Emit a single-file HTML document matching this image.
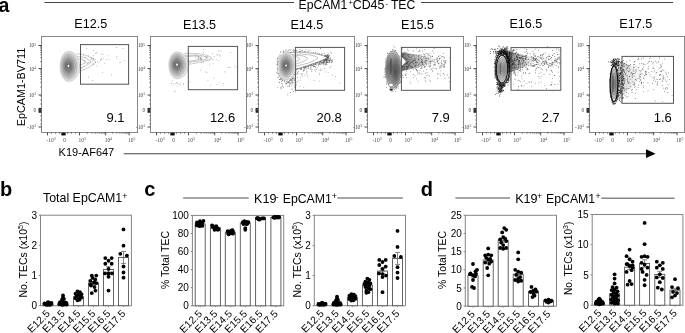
<!DOCTYPE html>
<html><head><meta charset="utf-8"><style>
html,body{margin:0;padding:0;background:#fff;overflow:hidden;}
svg{display:block;font-family:'Liberation Sans', sans-serif;}
svg{will-change:transform;}
</style></head><body>
<svg width="685" height="333" viewBox="0 0 685 333">
<rect x="0" y="0" width="685" height="333" fill="#fff"/>
<text x="-1.40" y="11.70" font-size="19.5" text-anchor="start" font-weight="bold" fill="#000" font-family="'Liberation Sans', sans-serif" >a</text>
<line x1="44.50" y1="2.55" x2="294.00" y2="2.55" stroke="#444" stroke-width="1.1" />
<line x1="421.00" y1="2.55" x2="673.00" y2="2.55" stroke="#444" stroke-width="1.1" />
<text font-size="12.2" font-family="'Liberation Sans', sans-serif" fill="#000"><tspan x="298.50" y="8.80" font-size="12.2">EpCAM1</tspan><tspan x="348.60" y="5.30" font-size="7.8">+</tspan><tspan x="352.70" y="8.80" font-size="12.4">CD45</tspan><tspan x="385.40" y="5.60" font-size="7.2">-</tspan><tspan x="390.90" y="8.80" font-size="12.2">TEC</tspan></text>
<rect x="41.50" y="36.50" width="96.00" height="96.00" stroke="#888" stroke-width="1" fill="#fff" />
<line x1="38.50" y1="45.50" x2="41.50" y2="45.50" stroke="#333" stroke-width="0.9" />
<line x1="38.50" y1="68.60" x2="41.50" y2="68.60" stroke="#333" stroke-width="0.9" />
<line x1="38.50" y1="95.00" x2="41.50" y2="95.00" stroke="#333" stroke-width="0.9" />
<line x1="38.50" y1="110.00" x2="41.50" y2="110.00" stroke="#333" stroke-width="0.9" />
<line x1="38.50" y1="127.00" x2="41.50" y2="127.00" stroke="#333" stroke-width="0.9" />
<line x1="40.20" y1="61.65" x2="41.50" y2="61.65" stroke="#333" stroke-width="0.6" />
<line x1="40.20" y1="57.58" x2="41.50" y2="57.58" stroke="#333" stroke-width="0.6" />
<line x1="40.20" y1="54.69" x2="41.50" y2="54.69" stroke="#333" stroke-width="0.6" />
<line x1="40.20" y1="52.45" x2="41.50" y2="52.45" stroke="#333" stroke-width="0.6" />
<line x1="40.20" y1="50.62" x2="41.50" y2="50.62" stroke="#333" stroke-width="0.6" />
<line x1="40.20" y1="49.08" x2="41.50" y2="49.08" stroke="#333" stroke-width="0.6" />
<line x1="40.20" y1="47.74" x2="41.50" y2="47.74" stroke="#333" stroke-width="0.6" />
<line x1="40.20" y1="46.56" x2="41.50" y2="46.56" stroke="#333" stroke-width="0.6" />
<line x1="40.20" y1="87.05" x2="41.50" y2="87.05" stroke="#333" stroke-width="0.6" />
<line x1="40.20" y1="82.40" x2="41.50" y2="82.40" stroke="#333" stroke-width="0.6" />
<line x1="40.20" y1="79.11" x2="41.50" y2="79.11" stroke="#333" stroke-width="0.6" />
<line x1="40.20" y1="76.55" x2="41.50" y2="76.55" stroke="#333" stroke-width="0.6" />
<line x1="40.20" y1="74.46" x2="41.50" y2="74.46" stroke="#333" stroke-width="0.6" />
<line x1="40.20" y1="72.69" x2="41.50" y2="72.69" stroke="#333" stroke-width="0.6" />
<line x1="40.20" y1="71.16" x2="41.50" y2="71.16" stroke="#333" stroke-width="0.6" />
<line x1="40.20" y1="69.81" x2="41.50" y2="69.81" stroke="#333" stroke-width="0.6" />
<line x1="40.20" y1="96.00" x2="41.50" y2="96.00" stroke="#333" stroke-width="0.6" />
<line x1="40.20" y1="100.00" x2="41.50" y2="100.00" stroke="#333" stroke-width="0.6" />
<line x1="40.20" y1="104.00" x2="41.50" y2="104.00" stroke="#333" stroke-width="0.6" />
<line x1="40.20" y1="116.00" x2="41.50" y2="116.00" stroke="#333" stroke-width="0.6" />
<line x1="40.20" y1="120.00" x2="41.50" y2="120.00" stroke="#333" stroke-width="0.6" />
<line x1="40.20" y1="124.00" x2="41.50" y2="124.00" stroke="#333" stroke-width="0.6" />
<rect x="38.60" y="107.90" width="2.60" height="4.90" stroke="none" stroke-width="0" fill="#222" />
<rect x="38.60" y="109.60" width="2.60" height="0.60" stroke="none" stroke-width="0" fill="#888" />
<line x1="47.50" y1="132.50" x2="47.50" y2="135.30" stroke="#333" stroke-width="0.9" />
<line x1="63.30" y1="132.50" x2="63.30" y2="135.30" stroke="#333" stroke-width="0.9" />
<line x1="79.50" y1="132.50" x2="79.50" y2="135.30" stroke="#333" stroke-width="0.9" />
<line x1="105.70" y1="132.50" x2="105.70" y2="135.30" stroke="#333" stroke-width="0.9" />
<line x1="129.10" y1="132.50" x2="129.10" y2="135.30" stroke="#333" stroke-width="0.9" />
<line x1="87.39" y1="132.50" x2="87.39" y2="133.80" stroke="#333" stroke-width="0.6" />
<line x1="92.00" y1="132.50" x2="92.00" y2="133.80" stroke="#333" stroke-width="0.6" />
<line x1="95.27" y1="132.50" x2="95.27" y2="133.80" stroke="#333" stroke-width="0.6" />
<line x1="97.81" y1="132.50" x2="97.81" y2="133.80" stroke="#333" stroke-width="0.6" />
<line x1="99.89" y1="132.50" x2="99.89" y2="133.80" stroke="#333" stroke-width="0.6" />
<line x1="101.64" y1="132.50" x2="101.64" y2="133.80" stroke="#333" stroke-width="0.6" />
<line x1="103.16" y1="132.50" x2="103.16" y2="133.80" stroke="#333" stroke-width="0.6" />
<line x1="104.50" y1="132.50" x2="104.50" y2="133.80" stroke="#333" stroke-width="0.6" />
<line x1="112.74" y1="132.50" x2="112.74" y2="133.80" stroke="#333" stroke-width="0.6" />
<line x1="116.86" y1="132.50" x2="116.86" y2="133.80" stroke="#333" stroke-width="0.6" />
<line x1="119.79" y1="132.50" x2="119.79" y2="133.80" stroke="#333" stroke-width="0.6" />
<line x1="122.06" y1="132.50" x2="122.06" y2="133.80" stroke="#333" stroke-width="0.6" />
<line x1="123.91" y1="132.50" x2="123.91" y2="133.80" stroke="#333" stroke-width="0.6" />
<line x1="125.48" y1="132.50" x2="125.48" y2="133.80" stroke="#333" stroke-width="0.6" />
<line x1="126.83" y1="132.50" x2="126.83" y2="133.80" stroke="#333" stroke-width="0.6" />
<line x1="128.03" y1="132.50" x2="128.03" y2="133.80" stroke="#333" stroke-width="0.6" />
<line x1="51.50" y1="132.50" x2="51.50" y2="133.80" stroke="#333" stroke-width="0.6" />
<line x1="55.50" y1="132.50" x2="55.50" y2="133.80" stroke="#333" stroke-width="0.6" />
<line x1="59.50" y1="132.50" x2="59.50" y2="133.80" stroke="#333" stroke-width="0.6" />
<line x1="67.50" y1="132.50" x2="67.50" y2="133.80" stroke="#333" stroke-width="0.6" />
<line x1="71.50" y1="132.50" x2="71.50" y2="133.80" stroke="#333" stroke-width="0.6" />
<line x1="75.50" y1="132.50" x2="75.50" y2="133.80" stroke="#333" stroke-width="0.6" />
<rect x="61.30" y="132.80" width="4.40" height="2.60" stroke="none" stroke-width="0" fill="#111" />
<text x="36.20" y="47.40" font-size="5.4" text-anchor="end" font-weight="normal" fill="#444" font-family="'Liberation Serif', serif" >10<tspan font-size="3.8" dy="-1.8">5</tspan></text>
<text x="36.20" y="70.50" font-size="5.4" text-anchor="end" font-weight="normal" fill="#444" font-family="'Liberation Serif', serif" >10<tspan font-size="3.8" dy="-1.8">4</tspan></text>
<text x="36.20" y="96.90" font-size="5.4" text-anchor="end" font-weight="normal" fill="#444" font-family="'Liberation Serif', serif" >10<tspan font-size="3.8" dy="-1.8">3</tspan></text>
<text x="36.20" y="111.90" font-size="5.4" text-anchor="end" font-weight="normal" fill="#444" font-family="'Liberation Serif', serif" >0</text>
<text x="36.20" y="128.90" font-size="5.4" text-anchor="end" font-weight="normal" fill="#444" font-family="'Liberation Serif', serif" >-10<tspan font-size="3.8" dy="-1.8">3</tspan></text>
<text x="46.50" y="141.60" font-size="5.4" text-anchor="start" font-weight="normal" fill="#444" font-family="'Liberation Serif', serif" >-10<tspan font-size="3.8" dy="-1.8">3</tspan></text>
<text x="64.70" y="141.60" font-size="5.4" text-anchor="middle" font-weight="normal" fill="#444" font-family="'Liberation Serif', serif" >0</text>
<text x="78.50" y="141.60" font-size="5.4" text-anchor="start" font-weight="normal" fill="#444" font-family="'Liberation Serif', serif" >10<tspan font-size="3.8" dy="-1.8">3</tspan></text>
<text x="104.70" y="141.60" font-size="5.4" text-anchor="start" font-weight="normal" fill="#444" font-family="'Liberation Serif', serif" >10<tspan font-size="3.8" dy="-1.8">4</tspan></text>
<text x="128.10" y="141.60" font-size="5.4" text-anchor="start" font-weight="normal" fill="#444" font-family="'Liberation Serif', serif" >10<tspan font-size="3.8" dy="-1.8">5</tspan></text>
<text x="90.80" y="28.40" font-size="12.6" text-anchor="middle" font-weight="normal" fill="#000" font-family="'Liberation Sans', sans-serif" >E12.5</text>
<rect x="150.50" y="36.50" width="96.00" height="96.00" stroke="#888" stroke-width="1" fill="#fff" />
<line x1="147.50" y1="45.50" x2="150.50" y2="45.50" stroke="#333" stroke-width="0.9" />
<line x1="147.50" y1="68.60" x2="150.50" y2="68.60" stroke="#333" stroke-width="0.9" />
<line x1="147.50" y1="95.00" x2="150.50" y2="95.00" stroke="#333" stroke-width="0.9" />
<line x1="147.50" y1="110.00" x2="150.50" y2="110.00" stroke="#333" stroke-width="0.9" />
<line x1="147.50" y1="127.00" x2="150.50" y2="127.00" stroke="#333" stroke-width="0.9" />
<line x1="149.20" y1="61.65" x2="150.50" y2="61.65" stroke="#333" stroke-width="0.6" />
<line x1="149.20" y1="57.58" x2="150.50" y2="57.58" stroke="#333" stroke-width="0.6" />
<line x1="149.20" y1="54.69" x2="150.50" y2="54.69" stroke="#333" stroke-width="0.6" />
<line x1="149.20" y1="52.45" x2="150.50" y2="52.45" stroke="#333" stroke-width="0.6" />
<line x1="149.20" y1="50.62" x2="150.50" y2="50.62" stroke="#333" stroke-width="0.6" />
<line x1="149.20" y1="49.08" x2="150.50" y2="49.08" stroke="#333" stroke-width="0.6" />
<line x1="149.20" y1="47.74" x2="150.50" y2="47.74" stroke="#333" stroke-width="0.6" />
<line x1="149.20" y1="46.56" x2="150.50" y2="46.56" stroke="#333" stroke-width="0.6" />
<line x1="149.20" y1="87.05" x2="150.50" y2="87.05" stroke="#333" stroke-width="0.6" />
<line x1="149.20" y1="82.40" x2="150.50" y2="82.40" stroke="#333" stroke-width="0.6" />
<line x1="149.20" y1="79.11" x2="150.50" y2="79.11" stroke="#333" stroke-width="0.6" />
<line x1="149.20" y1="76.55" x2="150.50" y2="76.55" stroke="#333" stroke-width="0.6" />
<line x1="149.20" y1="74.46" x2="150.50" y2="74.46" stroke="#333" stroke-width="0.6" />
<line x1="149.20" y1="72.69" x2="150.50" y2="72.69" stroke="#333" stroke-width="0.6" />
<line x1="149.20" y1="71.16" x2="150.50" y2="71.16" stroke="#333" stroke-width="0.6" />
<line x1="149.20" y1="69.81" x2="150.50" y2="69.81" stroke="#333" stroke-width="0.6" />
<line x1="149.20" y1="96.00" x2="150.50" y2="96.00" stroke="#333" stroke-width="0.6" />
<line x1="149.20" y1="100.00" x2="150.50" y2="100.00" stroke="#333" stroke-width="0.6" />
<line x1="149.20" y1="104.00" x2="150.50" y2="104.00" stroke="#333" stroke-width="0.6" />
<line x1="149.20" y1="116.00" x2="150.50" y2="116.00" stroke="#333" stroke-width="0.6" />
<line x1="149.20" y1="120.00" x2="150.50" y2="120.00" stroke="#333" stroke-width="0.6" />
<line x1="149.20" y1="124.00" x2="150.50" y2="124.00" stroke="#333" stroke-width="0.6" />
<rect x="147.60" y="107.90" width="2.60" height="4.90" stroke="none" stroke-width="0" fill="#222" />
<rect x="147.60" y="109.60" width="2.60" height="0.60" stroke="none" stroke-width="0" fill="#888" />
<line x1="156.50" y1="132.50" x2="156.50" y2="135.30" stroke="#333" stroke-width="0.9" />
<line x1="172.30" y1="132.50" x2="172.30" y2="135.30" stroke="#333" stroke-width="0.9" />
<line x1="188.50" y1="132.50" x2="188.50" y2="135.30" stroke="#333" stroke-width="0.9" />
<line x1="214.70" y1="132.50" x2="214.70" y2="135.30" stroke="#333" stroke-width="0.9" />
<line x1="238.10" y1="132.50" x2="238.10" y2="135.30" stroke="#333" stroke-width="0.9" />
<line x1="196.39" y1="132.50" x2="196.39" y2="133.80" stroke="#333" stroke-width="0.6" />
<line x1="201.00" y1="132.50" x2="201.00" y2="133.80" stroke="#333" stroke-width="0.6" />
<line x1="204.27" y1="132.50" x2="204.27" y2="133.80" stroke="#333" stroke-width="0.6" />
<line x1="206.81" y1="132.50" x2="206.81" y2="133.80" stroke="#333" stroke-width="0.6" />
<line x1="208.89" y1="132.50" x2="208.89" y2="133.80" stroke="#333" stroke-width="0.6" />
<line x1="210.64" y1="132.50" x2="210.64" y2="133.80" stroke="#333" stroke-width="0.6" />
<line x1="212.16" y1="132.50" x2="212.16" y2="133.80" stroke="#333" stroke-width="0.6" />
<line x1="213.50" y1="132.50" x2="213.50" y2="133.80" stroke="#333" stroke-width="0.6" />
<line x1="221.74" y1="132.50" x2="221.74" y2="133.80" stroke="#333" stroke-width="0.6" />
<line x1="225.86" y1="132.50" x2="225.86" y2="133.80" stroke="#333" stroke-width="0.6" />
<line x1="228.79" y1="132.50" x2="228.79" y2="133.80" stroke="#333" stroke-width="0.6" />
<line x1="231.06" y1="132.50" x2="231.06" y2="133.80" stroke="#333" stroke-width="0.6" />
<line x1="232.91" y1="132.50" x2="232.91" y2="133.80" stroke="#333" stroke-width="0.6" />
<line x1="234.48" y1="132.50" x2="234.48" y2="133.80" stroke="#333" stroke-width="0.6" />
<line x1="235.83" y1="132.50" x2="235.83" y2="133.80" stroke="#333" stroke-width="0.6" />
<line x1="237.03" y1="132.50" x2="237.03" y2="133.80" stroke="#333" stroke-width="0.6" />
<line x1="160.50" y1="132.50" x2="160.50" y2="133.80" stroke="#333" stroke-width="0.6" />
<line x1="164.50" y1="132.50" x2="164.50" y2="133.80" stroke="#333" stroke-width="0.6" />
<line x1="168.50" y1="132.50" x2="168.50" y2="133.80" stroke="#333" stroke-width="0.6" />
<line x1="176.50" y1="132.50" x2="176.50" y2="133.80" stroke="#333" stroke-width="0.6" />
<line x1="180.50" y1="132.50" x2="180.50" y2="133.80" stroke="#333" stroke-width="0.6" />
<line x1="184.50" y1="132.50" x2="184.50" y2="133.80" stroke="#333" stroke-width="0.6" />
<rect x="170.30" y="132.80" width="4.40" height="2.60" stroke="none" stroke-width="0" fill="#111" />
<text x="145.20" y="47.40" font-size="5.4" text-anchor="end" font-weight="normal" fill="#444" font-family="'Liberation Serif', serif" >10<tspan font-size="3.8" dy="-1.8">5</tspan></text>
<text x="145.20" y="70.50" font-size="5.4" text-anchor="end" font-weight="normal" fill="#444" font-family="'Liberation Serif', serif" >10<tspan font-size="3.8" dy="-1.8">4</tspan></text>
<text x="145.20" y="96.90" font-size="5.4" text-anchor="end" font-weight="normal" fill="#444" font-family="'Liberation Serif', serif" >10<tspan font-size="3.8" dy="-1.8">3</tspan></text>
<text x="145.20" y="111.90" font-size="5.4" text-anchor="end" font-weight="normal" fill="#444" font-family="'Liberation Serif', serif" >0</text>
<text x="145.20" y="128.90" font-size="5.4" text-anchor="end" font-weight="normal" fill="#444" font-family="'Liberation Serif', serif" >-10<tspan font-size="3.8" dy="-1.8">3</tspan></text>
<text x="155.50" y="141.60" font-size="5.4" text-anchor="start" font-weight="normal" fill="#444" font-family="'Liberation Serif', serif" >-10<tspan font-size="3.8" dy="-1.8">3</tspan></text>
<text x="173.70" y="141.60" font-size="5.4" text-anchor="middle" font-weight="normal" fill="#444" font-family="'Liberation Serif', serif" >0</text>
<text x="187.50" y="141.60" font-size="5.4" text-anchor="start" font-weight="normal" fill="#444" font-family="'Liberation Serif', serif" >10<tspan font-size="3.8" dy="-1.8">3</tspan></text>
<text x="213.70" y="141.60" font-size="5.4" text-anchor="start" font-weight="normal" fill="#444" font-family="'Liberation Serif', serif" >10<tspan font-size="3.8" dy="-1.8">4</tspan></text>
<text x="237.10" y="141.60" font-size="5.4" text-anchor="start" font-weight="normal" fill="#444" font-family="'Liberation Serif', serif" >10<tspan font-size="3.8" dy="-1.8">5</tspan></text>
<text x="199.50" y="28.70" font-size="12.6" text-anchor="middle" font-weight="normal" fill="#000" font-family="'Liberation Sans', sans-serif" >E13.5</text>
<rect x="258.50" y="36.50" width="96.00" height="96.00" stroke="#888" stroke-width="1" fill="#fff" />
<line x1="255.50" y1="45.50" x2="258.50" y2="45.50" stroke="#333" stroke-width="0.9" />
<line x1="255.50" y1="68.60" x2="258.50" y2="68.60" stroke="#333" stroke-width="0.9" />
<line x1="255.50" y1="95.00" x2="258.50" y2="95.00" stroke="#333" stroke-width="0.9" />
<line x1="255.50" y1="110.00" x2="258.50" y2="110.00" stroke="#333" stroke-width="0.9" />
<line x1="255.50" y1="127.00" x2="258.50" y2="127.00" stroke="#333" stroke-width="0.9" />
<line x1="257.20" y1="61.65" x2="258.50" y2="61.65" stroke="#333" stroke-width="0.6" />
<line x1="257.20" y1="57.58" x2="258.50" y2="57.58" stroke="#333" stroke-width="0.6" />
<line x1="257.20" y1="54.69" x2="258.50" y2="54.69" stroke="#333" stroke-width="0.6" />
<line x1="257.20" y1="52.45" x2="258.50" y2="52.45" stroke="#333" stroke-width="0.6" />
<line x1="257.20" y1="50.62" x2="258.50" y2="50.62" stroke="#333" stroke-width="0.6" />
<line x1="257.20" y1="49.08" x2="258.50" y2="49.08" stroke="#333" stroke-width="0.6" />
<line x1="257.20" y1="47.74" x2="258.50" y2="47.74" stroke="#333" stroke-width="0.6" />
<line x1="257.20" y1="46.56" x2="258.50" y2="46.56" stroke="#333" stroke-width="0.6" />
<line x1="257.20" y1="87.05" x2="258.50" y2="87.05" stroke="#333" stroke-width="0.6" />
<line x1="257.20" y1="82.40" x2="258.50" y2="82.40" stroke="#333" stroke-width="0.6" />
<line x1="257.20" y1="79.11" x2="258.50" y2="79.11" stroke="#333" stroke-width="0.6" />
<line x1="257.20" y1="76.55" x2="258.50" y2="76.55" stroke="#333" stroke-width="0.6" />
<line x1="257.20" y1="74.46" x2="258.50" y2="74.46" stroke="#333" stroke-width="0.6" />
<line x1="257.20" y1="72.69" x2="258.50" y2="72.69" stroke="#333" stroke-width="0.6" />
<line x1="257.20" y1="71.16" x2="258.50" y2="71.16" stroke="#333" stroke-width="0.6" />
<line x1="257.20" y1="69.81" x2="258.50" y2="69.81" stroke="#333" stroke-width="0.6" />
<line x1="257.20" y1="96.00" x2="258.50" y2="96.00" stroke="#333" stroke-width="0.6" />
<line x1="257.20" y1="100.00" x2="258.50" y2="100.00" stroke="#333" stroke-width="0.6" />
<line x1="257.20" y1="104.00" x2="258.50" y2="104.00" stroke="#333" stroke-width="0.6" />
<line x1="257.20" y1="116.00" x2="258.50" y2="116.00" stroke="#333" stroke-width="0.6" />
<line x1="257.20" y1="120.00" x2="258.50" y2="120.00" stroke="#333" stroke-width="0.6" />
<line x1="257.20" y1="124.00" x2="258.50" y2="124.00" stroke="#333" stroke-width="0.6" />
<rect x="255.60" y="107.90" width="2.60" height="4.90" stroke="none" stroke-width="0" fill="#222" />
<rect x="255.60" y="109.60" width="2.60" height="0.60" stroke="none" stroke-width="0" fill="#888" />
<line x1="264.50" y1="132.50" x2="264.50" y2="135.30" stroke="#333" stroke-width="0.9" />
<line x1="280.30" y1="132.50" x2="280.30" y2="135.30" stroke="#333" stroke-width="0.9" />
<line x1="296.50" y1="132.50" x2="296.50" y2="135.30" stroke="#333" stroke-width="0.9" />
<line x1="322.70" y1="132.50" x2="322.70" y2="135.30" stroke="#333" stroke-width="0.9" />
<line x1="346.10" y1="132.50" x2="346.10" y2="135.30" stroke="#333" stroke-width="0.9" />
<line x1="304.39" y1="132.50" x2="304.39" y2="133.80" stroke="#333" stroke-width="0.6" />
<line x1="309.00" y1="132.50" x2="309.00" y2="133.80" stroke="#333" stroke-width="0.6" />
<line x1="312.27" y1="132.50" x2="312.27" y2="133.80" stroke="#333" stroke-width="0.6" />
<line x1="314.81" y1="132.50" x2="314.81" y2="133.80" stroke="#333" stroke-width="0.6" />
<line x1="316.89" y1="132.50" x2="316.89" y2="133.80" stroke="#333" stroke-width="0.6" />
<line x1="318.64" y1="132.50" x2="318.64" y2="133.80" stroke="#333" stroke-width="0.6" />
<line x1="320.16" y1="132.50" x2="320.16" y2="133.80" stroke="#333" stroke-width="0.6" />
<line x1="321.50" y1="132.50" x2="321.50" y2="133.80" stroke="#333" stroke-width="0.6" />
<line x1="329.74" y1="132.50" x2="329.74" y2="133.80" stroke="#333" stroke-width="0.6" />
<line x1="333.86" y1="132.50" x2="333.86" y2="133.80" stroke="#333" stroke-width="0.6" />
<line x1="336.79" y1="132.50" x2="336.79" y2="133.80" stroke="#333" stroke-width="0.6" />
<line x1="339.06" y1="132.50" x2="339.06" y2="133.80" stroke="#333" stroke-width="0.6" />
<line x1="340.91" y1="132.50" x2="340.91" y2="133.80" stroke="#333" stroke-width="0.6" />
<line x1="342.48" y1="132.50" x2="342.48" y2="133.80" stroke="#333" stroke-width="0.6" />
<line x1="343.83" y1="132.50" x2="343.83" y2="133.80" stroke="#333" stroke-width="0.6" />
<line x1="345.03" y1="132.50" x2="345.03" y2="133.80" stroke="#333" stroke-width="0.6" />
<line x1="268.50" y1="132.50" x2="268.50" y2="133.80" stroke="#333" stroke-width="0.6" />
<line x1="272.50" y1="132.50" x2="272.50" y2="133.80" stroke="#333" stroke-width="0.6" />
<line x1="276.50" y1="132.50" x2="276.50" y2="133.80" stroke="#333" stroke-width="0.6" />
<line x1="284.50" y1="132.50" x2="284.50" y2="133.80" stroke="#333" stroke-width="0.6" />
<line x1="288.50" y1="132.50" x2="288.50" y2="133.80" stroke="#333" stroke-width="0.6" />
<line x1="292.50" y1="132.50" x2="292.50" y2="133.80" stroke="#333" stroke-width="0.6" />
<rect x="278.30" y="132.80" width="4.40" height="2.60" stroke="none" stroke-width="0" fill="#111" />
<text x="253.20" y="47.40" font-size="5.4" text-anchor="end" font-weight="normal" fill="#444" font-family="'Liberation Serif', serif" >10<tspan font-size="3.8" dy="-1.8">5</tspan></text>
<text x="253.20" y="70.50" font-size="5.4" text-anchor="end" font-weight="normal" fill="#444" font-family="'Liberation Serif', serif" >10<tspan font-size="3.8" dy="-1.8">4</tspan></text>
<text x="253.20" y="96.90" font-size="5.4" text-anchor="end" font-weight="normal" fill="#444" font-family="'Liberation Serif', serif" >10<tspan font-size="3.8" dy="-1.8">3</tspan></text>
<text x="253.20" y="111.90" font-size="5.4" text-anchor="end" font-weight="normal" fill="#444" font-family="'Liberation Serif', serif" >0</text>
<text x="253.20" y="128.90" font-size="5.4" text-anchor="end" font-weight="normal" fill="#444" font-family="'Liberation Serif', serif" >-10<tspan font-size="3.8" dy="-1.8">3</tspan></text>
<text x="263.50" y="141.60" font-size="5.4" text-anchor="start" font-weight="normal" fill="#444" font-family="'Liberation Serif', serif" >-10<tspan font-size="3.8" dy="-1.8">3</tspan></text>
<text x="281.70" y="141.60" font-size="5.4" text-anchor="middle" font-weight="normal" fill="#444" font-family="'Liberation Serif', serif" >0</text>
<text x="295.50" y="141.60" font-size="5.4" text-anchor="start" font-weight="normal" fill="#444" font-family="'Liberation Serif', serif" >10<tspan font-size="3.8" dy="-1.8">3</tspan></text>
<text x="321.70" y="141.60" font-size="5.4" text-anchor="start" font-weight="normal" fill="#444" font-family="'Liberation Serif', serif" >10<tspan font-size="3.8" dy="-1.8">4</tspan></text>
<text x="345.10" y="141.60" font-size="5.4" text-anchor="start" font-weight="normal" fill="#444" font-family="'Liberation Serif', serif" >10<tspan font-size="3.8" dy="-1.8">5</tspan></text>
<text x="306.90" y="28.60" font-size="12.6" text-anchor="middle" font-weight="normal" fill="#000" font-family="'Liberation Sans', sans-serif" >E14.5</text>
<rect x="367.50" y="36.50" width="96.00" height="96.00" stroke="#888" stroke-width="1" fill="#fff" />
<line x1="364.50" y1="45.50" x2="367.50" y2="45.50" stroke="#333" stroke-width="0.9" />
<line x1="364.50" y1="68.60" x2="367.50" y2="68.60" stroke="#333" stroke-width="0.9" />
<line x1="364.50" y1="95.00" x2="367.50" y2="95.00" stroke="#333" stroke-width="0.9" />
<line x1="364.50" y1="110.00" x2="367.50" y2="110.00" stroke="#333" stroke-width="0.9" />
<line x1="364.50" y1="127.00" x2="367.50" y2="127.00" stroke="#333" stroke-width="0.9" />
<line x1="366.20" y1="61.65" x2="367.50" y2="61.65" stroke="#333" stroke-width="0.6" />
<line x1="366.20" y1="57.58" x2="367.50" y2="57.58" stroke="#333" stroke-width="0.6" />
<line x1="366.20" y1="54.69" x2="367.50" y2="54.69" stroke="#333" stroke-width="0.6" />
<line x1="366.20" y1="52.45" x2="367.50" y2="52.45" stroke="#333" stroke-width="0.6" />
<line x1="366.20" y1="50.62" x2="367.50" y2="50.62" stroke="#333" stroke-width="0.6" />
<line x1="366.20" y1="49.08" x2="367.50" y2="49.08" stroke="#333" stroke-width="0.6" />
<line x1="366.20" y1="47.74" x2="367.50" y2="47.74" stroke="#333" stroke-width="0.6" />
<line x1="366.20" y1="46.56" x2="367.50" y2="46.56" stroke="#333" stroke-width="0.6" />
<line x1="366.20" y1="87.05" x2="367.50" y2="87.05" stroke="#333" stroke-width="0.6" />
<line x1="366.20" y1="82.40" x2="367.50" y2="82.40" stroke="#333" stroke-width="0.6" />
<line x1="366.20" y1="79.11" x2="367.50" y2="79.11" stroke="#333" stroke-width="0.6" />
<line x1="366.20" y1="76.55" x2="367.50" y2="76.55" stroke="#333" stroke-width="0.6" />
<line x1="366.20" y1="74.46" x2="367.50" y2="74.46" stroke="#333" stroke-width="0.6" />
<line x1="366.20" y1="72.69" x2="367.50" y2="72.69" stroke="#333" stroke-width="0.6" />
<line x1="366.20" y1="71.16" x2="367.50" y2="71.16" stroke="#333" stroke-width="0.6" />
<line x1="366.20" y1="69.81" x2="367.50" y2="69.81" stroke="#333" stroke-width="0.6" />
<line x1="366.20" y1="96.00" x2="367.50" y2="96.00" stroke="#333" stroke-width="0.6" />
<line x1="366.20" y1="100.00" x2="367.50" y2="100.00" stroke="#333" stroke-width="0.6" />
<line x1="366.20" y1="104.00" x2="367.50" y2="104.00" stroke="#333" stroke-width="0.6" />
<line x1="366.20" y1="116.00" x2="367.50" y2="116.00" stroke="#333" stroke-width="0.6" />
<line x1="366.20" y1="120.00" x2="367.50" y2="120.00" stroke="#333" stroke-width="0.6" />
<line x1="366.20" y1="124.00" x2="367.50" y2="124.00" stroke="#333" stroke-width="0.6" />
<rect x="364.60" y="107.90" width="2.60" height="4.90" stroke="none" stroke-width="0" fill="#222" />
<rect x="364.60" y="109.60" width="2.60" height="0.60" stroke="none" stroke-width="0" fill="#888" />
<line x1="373.50" y1="132.50" x2="373.50" y2="135.30" stroke="#333" stroke-width="0.9" />
<line x1="389.30" y1="132.50" x2="389.30" y2="135.30" stroke="#333" stroke-width="0.9" />
<line x1="405.50" y1="132.50" x2="405.50" y2="135.30" stroke="#333" stroke-width="0.9" />
<line x1="431.70" y1="132.50" x2="431.70" y2="135.30" stroke="#333" stroke-width="0.9" />
<line x1="455.10" y1="132.50" x2="455.10" y2="135.30" stroke="#333" stroke-width="0.9" />
<line x1="413.39" y1="132.50" x2="413.39" y2="133.80" stroke="#333" stroke-width="0.6" />
<line x1="418.00" y1="132.50" x2="418.00" y2="133.80" stroke="#333" stroke-width="0.6" />
<line x1="421.27" y1="132.50" x2="421.27" y2="133.80" stroke="#333" stroke-width="0.6" />
<line x1="423.81" y1="132.50" x2="423.81" y2="133.80" stroke="#333" stroke-width="0.6" />
<line x1="425.89" y1="132.50" x2="425.89" y2="133.80" stroke="#333" stroke-width="0.6" />
<line x1="427.64" y1="132.50" x2="427.64" y2="133.80" stroke="#333" stroke-width="0.6" />
<line x1="429.16" y1="132.50" x2="429.16" y2="133.80" stroke="#333" stroke-width="0.6" />
<line x1="430.50" y1="132.50" x2="430.50" y2="133.80" stroke="#333" stroke-width="0.6" />
<line x1="438.74" y1="132.50" x2="438.74" y2="133.80" stroke="#333" stroke-width="0.6" />
<line x1="442.86" y1="132.50" x2="442.86" y2="133.80" stroke="#333" stroke-width="0.6" />
<line x1="445.79" y1="132.50" x2="445.79" y2="133.80" stroke="#333" stroke-width="0.6" />
<line x1="448.06" y1="132.50" x2="448.06" y2="133.80" stroke="#333" stroke-width="0.6" />
<line x1="449.91" y1="132.50" x2="449.91" y2="133.80" stroke="#333" stroke-width="0.6" />
<line x1="451.48" y1="132.50" x2="451.48" y2="133.80" stroke="#333" stroke-width="0.6" />
<line x1="452.83" y1="132.50" x2="452.83" y2="133.80" stroke="#333" stroke-width="0.6" />
<line x1="454.03" y1="132.50" x2="454.03" y2="133.80" stroke="#333" stroke-width="0.6" />
<line x1="377.50" y1="132.50" x2="377.50" y2="133.80" stroke="#333" stroke-width="0.6" />
<line x1="381.50" y1="132.50" x2="381.50" y2="133.80" stroke="#333" stroke-width="0.6" />
<line x1="385.50" y1="132.50" x2="385.50" y2="133.80" stroke="#333" stroke-width="0.6" />
<line x1="393.50" y1="132.50" x2="393.50" y2="133.80" stroke="#333" stroke-width="0.6" />
<line x1="397.50" y1="132.50" x2="397.50" y2="133.80" stroke="#333" stroke-width="0.6" />
<line x1="401.50" y1="132.50" x2="401.50" y2="133.80" stroke="#333" stroke-width="0.6" />
<rect x="387.30" y="132.80" width="4.40" height="2.60" stroke="none" stroke-width="0" fill="#111" />
<text x="362.20" y="47.40" font-size="5.4" text-anchor="end" font-weight="normal" fill="#444" font-family="'Liberation Serif', serif" >10<tspan font-size="3.8" dy="-1.8">5</tspan></text>
<text x="362.20" y="70.50" font-size="5.4" text-anchor="end" font-weight="normal" fill="#444" font-family="'Liberation Serif', serif" >10<tspan font-size="3.8" dy="-1.8">4</tspan></text>
<text x="362.20" y="96.90" font-size="5.4" text-anchor="end" font-weight="normal" fill="#444" font-family="'Liberation Serif', serif" >10<tspan font-size="3.8" dy="-1.8">3</tspan></text>
<text x="362.20" y="111.90" font-size="5.4" text-anchor="end" font-weight="normal" fill="#444" font-family="'Liberation Serif', serif" >0</text>
<text x="362.20" y="128.90" font-size="5.4" text-anchor="end" font-weight="normal" fill="#444" font-family="'Liberation Serif', serif" >-10<tspan font-size="3.8" dy="-1.8">3</tspan></text>
<text x="372.50" y="141.60" font-size="5.4" text-anchor="start" font-weight="normal" fill="#444" font-family="'Liberation Serif', serif" >-10<tspan font-size="3.8" dy="-1.8">3</tspan></text>
<text x="390.70" y="141.60" font-size="5.4" text-anchor="middle" font-weight="normal" fill="#444" font-family="'Liberation Serif', serif" >0</text>
<text x="404.50" y="141.60" font-size="5.4" text-anchor="start" font-weight="normal" fill="#444" font-family="'Liberation Serif', serif" >10<tspan font-size="3.8" dy="-1.8">3</tspan></text>
<text x="430.70" y="141.60" font-size="5.4" text-anchor="start" font-weight="normal" fill="#444" font-family="'Liberation Serif', serif" >10<tspan font-size="3.8" dy="-1.8">4</tspan></text>
<text x="454.10" y="141.60" font-size="5.4" text-anchor="start" font-weight="normal" fill="#444" font-family="'Liberation Serif', serif" >10<tspan font-size="3.8" dy="-1.8">5</tspan></text>
<text x="417.50" y="28.60" font-size="12.6" text-anchor="middle" font-weight="normal" fill="#000" font-family="'Liberation Sans', sans-serif" >E15.5</text>
<rect x="476.50" y="36.50" width="96.00" height="96.00" stroke="#888" stroke-width="1" fill="#fff" />
<line x1="473.50" y1="45.50" x2="476.50" y2="45.50" stroke="#333" stroke-width="0.9" />
<line x1="473.50" y1="68.60" x2="476.50" y2="68.60" stroke="#333" stroke-width="0.9" />
<line x1="473.50" y1="95.00" x2="476.50" y2="95.00" stroke="#333" stroke-width="0.9" />
<line x1="473.50" y1="110.00" x2="476.50" y2="110.00" stroke="#333" stroke-width="0.9" />
<line x1="473.50" y1="127.00" x2="476.50" y2="127.00" stroke="#333" stroke-width="0.9" />
<line x1="475.20" y1="61.65" x2="476.50" y2="61.65" stroke="#333" stroke-width="0.6" />
<line x1="475.20" y1="57.58" x2="476.50" y2="57.58" stroke="#333" stroke-width="0.6" />
<line x1="475.20" y1="54.69" x2="476.50" y2="54.69" stroke="#333" stroke-width="0.6" />
<line x1="475.20" y1="52.45" x2="476.50" y2="52.45" stroke="#333" stroke-width="0.6" />
<line x1="475.20" y1="50.62" x2="476.50" y2="50.62" stroke="#333" stroke-width="0.6" />
<line x1="475.20" y1="49.08" x2="476.50" y2="49.08" stroke="#333" stroke-width="0.6" />
<line x1="475.20" y1="47.74" x2="476.50" y2="47.74" stroke="#333" stroke-width="0.6" />
<line x1="475.20" y1="46.56" x2="476.50" y2="46.56" stroke="#333" stroke-width="0.6" />
<line x1="475.20" y1="87.05" x2="476.50" y2="87.05" stroke="#333" stroke-width="0.6" />
<line x1="475.20" y1="82.40" x2="476.50" y2="82.40" stroke="#333" stroke-width="0.6" />
<line x1="475.20" y1="79.11" x2="476.50" y2="79.11" stroke="#333" stroke-width="0.6" />
<line x1="475.20" y1="76.55" x2="476.50" y2="76.55" stroke="#333" stroke-width="0.6" />
<line x1="475.20" y1="74.46" x2="476.50" y2="74.46" stroke="#333" stroke-width="0.6" />
<line x1="475.20" y1="72.69" x2="476.50" y2="72.69" stroke="#333" stroke-width="0.6" />
<line x1="475.20" y1="71.16" x2="476.50" y2="71.16" stroke="#333" stroke-width="0.6" />
<line x1="475.20" y1="69.81" x2="476.50" y2="69.81" stroke="#333" stroke-width="0.6" />
<line x1="475.20" y1="96.00" x2="476.50" y2="96.00" stroke="#333" stroke-width="0.6" />
<line x1="475.20" y1="100.00" x2="476.50" y2="100.00" stroke="#333" stroke-width="0.6" />
<line x1="475.20" y1="104.00" x2="476.50" y2="104.00" stroke="#333" stroke-width="0.6" />
<line x1="475.20" y1="116.00" x2="476.50" y2="116.00" stroke="#333" stroke-width="0.6" />
<line x1="475.20" y1="120.00" x2="476.50" y2="120.00" stroke="#333" stroke-width="0.6" />
<line x1="475.20" y1="124.00" x2="476.50" y2="124.00" stroke="#333" stroke-width="0.6" />
<rect x="473.60" y="107.90" width="2.60" height="4.90" stroke="none" stroke-width="0" fill="#222" />
<rect x="473.60" y="109.60" width="2.60" height="0.60" stroke="none" stroke-width="0" fill="#888" />
<line x1="482.50" y1="132.50" x2="482.50" y2="135.30" stroke="#333" stroke-width="0.9" />
<line x1="498.30" y1="132.50" x2="498.30" y2="135.30" stroke="#333" stroke-width="0.9" />
<line x1="514.50" y1="132.50" x2="514.50" y2="135.30" stroke="#333" stroke-width="0.9" />
<line x1="540.70" y1="132.50" x2="540.70" y2="135.30" stroke="#333" stroke-width="0.9" />
<line x1="564.10" y1="132.50" x2="564.10" y2="135.30" stroke="#333" stroke-width="0.9" />
<line x1="522.39" y1="132.50" x2="522.39" y2="133.80" stroke="#333" stroke-width="0.6" />
<line x1="527.00" y1="132.50" x2="527.00" y2="133.80" stroke="#333" stroke-width="0.6" />
<line x1="530.27" y1="132.50" x2="530.27" y2="133.80" stroke="#333" stroke-width="0.6" />
<line x1="532.81" y1="132.50" x2="532.81" y2="133.80" stroke="#333" stroke-width="0.6" />
<line x1="534.89" y1="132.50" x2="534.89" y2="133.80" stroke="#333" stroke-width="0.6" />
<line x1="536.64" y1="132.50" x2="536.64" y2="133.80" stroke="#333" stroke-width="0.6" />
<line x1="538.16" y1="132.50" x2="538.16" y2="133.80" stroke="#333" stroke-width="0.6" />
<line x1="539.50" y1="132.50" x2="539.50" y2="133.80" stroke="#333" stroke-width="0.6" />
<line x1="547.74" y1="132.50" x2="547.74" y2="133.80" stroke="#333" stroke-width="0.6" />
<line x1="551.86" y1="132.50" x2="551.86" y2="133.80" stroke="#333" stroke-width="0.6" />
<line x1="554.79" y1="132.50" x2="554.79" y2="133.80" stroke="#333" stroke-width="0.6" />
<line x1="557.06" y1="132.50" x2="557.06" y2="133.80" stroke="#333" stroke-width="0.6" />
<line x1="558.91" y1="132.50" x2="558.91" y2="133.80" stroke="#333" stroke-width="0.6" />
<line x1="560.48" y1="132.50" x2="560.48" y2="133.80" stroke="#333" stroke-width="0.6" />
<line x1="561.83" y1="132.50" x2="561.83" y2="133.80" stroke="#333" stroke-width="0.6" />
<line x1="563.03" y1="132.50" x2="563.03" y2="133.80" stroke="#333" stroke-width="0.6" />
<line x1="486.50" y1="132.50" x2="486.50" y2="133.80" stroke="#333" stroke-width="0.6" />
<line x1="490.50" y1="132.50" x2="490.50" y2="133.80" stroke="#333" stroke-width="0.6" />
<line x1="494.50" y1="132.50" x2="494.50" y2="133.80" stroke="#333" stroke-width="0.6" />
<line x1="502.50" y1="132.50" x2="502.50" y2="133.80" stroke="#333" stroke-width="0.6" />
<line x1="506.50" y1="132.50" x2="506.50" y2="133.80" stroke="#333" stroke-width="0.6" />
<line x1="510.50" y1="132.50" x2="510.50" y2="133.80" stroke="#333" stroke-width="0.6" />
<rect x="496.30" y="132.80" width="4.40" height="2.60" stroke="none" stroke-width="0" fill="#111" />
<text x="471.20" y="47.40" font-size="5.4" text-anchor="end" font-weight="normal" fill="#444" font-family="'Liberation Serif', serif" >10<tspan font-size="3.8" dy="-1.8">5</tspan></text>
<text x="471.20" y="70.50" font-size="5.4" text-anchor="end" font-weight="normal" fill="#444" font-family="'Liberation Serif', serif" >10<tspan font-size="3.8" dy="-1.8">4</tspan></text>
<text x="471.20" y="96.90" font-size="5.4" text-anchor="end" font-weight="normal" fill="#444" font-family="'Liberation Serif', serif" >10<tspan font-size="3.8" dy="-1.8">3</tspan></text>
<text x="471.20" y="111.90" font-size="5.4" text-anchor="end" font-weight="normal" fill="#444" font-family="'Liberation Serif', serif" >0</text>
<text x="471.20" y="128.90" font-size="5.4" text-anchor="end" font-weight="normal" fill="#444" font-family="'Liberation Serif', serif" >-10<tspan font-size="3.8" dy="-1.8">3</tspan></text>
<text x="481.50" y="141.60" font-size="5.4" text-anchor="start" font-weight="normal" fill="#444" font-family="'Liberation Serif', serif" >-10<tspan font-size="3.8" dy="-1.8">3</tspan></text>
<text x="499.70" y="141.60" font-size="5.4" text-anchor="middle" font-weight="normal" fill="#444" font-family="'Liberation Serif', serif" >0</text>
<text x="513.50" y="141.60" font-size="5.4" text-anchor="start" font-weight="normal" fill="#444" font-family="'Liberation Serif', serif" >10<tspan font-size="3.8" dy="-1.8">3</tspan></text>
<text x="539.70" y="141.60" font-size="5.4" text-anchor="start" font-weight="normal" fill="#444" font-family="'Liberation Serif', serif" >10<tspan font-size="3.8" dy="-1.8">4</tspan></text>
<text x="563.10" y="141.60" font-size="5.4" text-anchor="start" font-weight="normal" fill="#444" font-family="'Liberation Serif', serif" >10<tspan font-size="3.8" dy="-1.8">5</tspan></text>
<text x="525.90" y="27.80" font-size="12.6" text-anchor="middle" font-weight="normal" fill="#000" font-family="'Liberation Sans', sans-serif" >E16.5</text>
<rect x="589.50" y="36.50" width="95.00" height="96.00" stroke="#888" stroke-width="1" fill="#fff" />
<line x1="586.50" y1="45.50" x2="589.50" y2="45.50" stroke="#333" stroke-width="0.9" />
<line x1="586.50" y1="68.60" x2="589.50" y2="68.60" stroke="#333" stroke-width="0.9" />
<line x1="586.50" y1="95.00" x2="589.50" y2="95.00" stroke="#333" stroke-width="0.9" />
<line x1="586.50" y1="110.00" x2="589.50" y2="110.00" stroke="#333" stroke-width="0.9" />
<line x1="586.50" y1="127.00" x2="589.50" y2="127.00" stroke="#333" stroke-width="0.9" />
<line x1="588.20" y1="61.65" x2="589.50" y2="61.65" stroke="#333" stroke-width="0.6" />
<line x1="588.20" y1="57.58" x2="589.50" y2="57.58" stroke="#333" stroke-width="0.6" />
<line x1="588.20" y1="54.69" x2="589.50" y2="54.69" stroke="#333" stroke-width="0.6" />
<line x1="588.20" y1="52.45" x2="589.50" y2="52.45" stroke="#333" stroke-width="0.6" />
<line x1="588.20" y1="50.62" x2="589.50" y2="50.62" stroke="#333" stroke-width="0.6" />
<line x1="588.20" y1="49.08" x2="589.50" y2="49.08" stroke="#333" stroke-width="0.6" />
<line x1="588.20" y1="47.74" x2="589.50" y2="47.74" stroke="#333" stroke-width="0.6" />
<line x1="588.20" y1="46.56" x2="589.50" y2="46.56" stroke="#333" stroke-width="0.6" />
<line x1="588.20" y1="87.05" x2="589.50" y2="87.05" stroke="#333" stroke-width="0.6" />
<line x1="588.20" y1="82.40" x2="589.50" y2="82.40" stroke="#333" stroke-width="0.6" />
<line x1="588.20" y1="79.11" x2="589.50" y2="79.11" stroke="#333" stroke-width="0.6" />
<line x1="588.20" y1="76.55" x2="589.50" y2="76.55" stroke="#333" stroke-width="0.6" />
<line x1="588.20" y1="74.46" x2="589.50" y2="74.46" stroke="#333" stroke-width="0.6" />
<line x1="588.20" y1="72.69" x2="589.50" y2="72.69" stroke="#333" stroke-width="0.6" />
<line x1="588.20" y1="71.16" x2="589.50" y2="71.16" stroke="#333" stroke-width="0.6" />
<line x1="588.20" y1="69.81" x2="589.50" y2="69.81" stroke="#333" stroke-width="0.6" />
<line x1="588.20" y1="96.00" x2="589.50" y2="96.00" stroke="#333" stroke-width="0.6" />
<line x1="588.20" y1="100.00" x2="589.50" y2="100.00" stroke="#333" stroke-width="0.6" />
<line x1="588.20" y1="104.00" x2="589.50" y2="104.00" stroke="#333" stroke-width="0.6" />
<line x1="588.20" y1="116.00" x2="589.50" y2="116.00" stroke="#333" stroke-width="0.6" />
<line x1="588.20" y1="120.00" x2="589.50" y2="120.00" stroke="#333" stroke-width="0.6" />
<line x1="588.20" y1="124.00" x2="589.50" y2="124.00" stroke="#333" stroke-width="0.6" />
<rect x="586.60" y="107.90" width="2.60" height="4.90" stroke="none" stroke-width="0" fill="#222" />
<rect x="586.60" y="109.60" width="2.60" height="0.60" stroke="none" stroke-width="0" fill="#888" />
<line x1="595.50" y1="132.50" x2="595.50" y2="135.30" stroke="#333" stroke-width="0.9" />
<line x1="611.30" y1="132.50" x2="611.30" y2="135.30" stroke="#333" stroke-width="0.9" />
<line x1="627.50" y1="132.50" x2="627.50" y2="135.30" stroke="#333" stroke-width="0.9" />
<line x1="653.70" y1="132.50" x2="653.70" y2="135.30" stroke="#333" stroke-width="0.9" />
<line x1="677.10" y1="132.50" x2="677.10" y2="135.30" stroke="#333" stroke-width="0.9" />
<line x1="635.39" y1="132.50" x2="635.39" y2="133.80" stroke="#333" stroke-width="0.6" />
<line x1="640.00" y1="132.50" x2="640.00" y2="133.80" stroke="#333" stroke-width="0.6" />
<line x1="643.27" y1="132.50" x2="643.27" y2="133.80" stroke="#333" stroke-width="0.6" />
<line x1="645.81" y1="132.50" x2="645.81" y2="133.80" stroke="#333" stroke-width="0.6" />
<line x1="647.89" y1="132.50" x2="647.89" y2="133.80" stroke="#333" stroke-width="0.6" />
<line x1="649.64" y1="132.50" x2="649.64" y2="133.80" stroke="#333" stroke-width="0.6" />
<line x1="651.16" y1="132.50" x2="651.16" y2="133.80" stroke="#333" stroke-width="0.6" />
<line x1="652.50" y1="132.50" x2="652.50" y2="133.80" stroke="#333" stroke-width="0.6" />
<line x1="660.74" y1="132.50" x2="660.74" y2="133.80" stroke="#333" stroke-width="0.6" />
<line x1="664.86" y1="132.50" x2="664.86" y2="133.80" stroke="#333" stroke-width="0.6" />
<line x1="667.79" y1="132.50" x2="667.79" y2="133.80" stroke="#333" stroke-width="0.6" />
<line x1="670.06" y1="132.50" x2="670.06" y2="133.80" stroke="#333" stroke-width="0.6" />
<line x1="671.91" y1="132.50" x2="671.91" y2="133.80" stroke="#333" stroke-width="0.6" />
<line x1="673.48" y1="132.50" x2="673.48" y2="133.80" stroke="#333" stroke-width="0.6" />
<line x1="674.83" y1="132.50" x2="674.83" y2="133.80" stroke="#333" stroke-width="0.6" />
<line x1="676.03" y1="132.50" x2="676.03" y2="133.80" stroke="#333" stroke-width="0.6" />
<line x1="599.50" y1="132.50" x2="599.50" y2="133.80" stroke="#333" stroke-width="0.6" />
<line x1="603.50" y1="132.50" x2="603.50" y2="133.80" stroke="#333" stroke-width="0.6" />
<line x1="607.50" y1="132.50" x2="607.50" y2="133.80" stroke="#333" stroke-width="0.6" />
<line x1="615.50" y1="132.50" x2="615.50" y2="133.80" stroke="#333" stroke-width="0.6" />
<line x1="619.50" y1="132.50" x2="619.50" y2="133.80" stroke="#333" stroke-width="0.6" />
<line x1="623.50" y1="132.50" x2="623.50" y2="133.80" stroke="#333" stroke-width="0.6" />
<rect x="609.30" y="132.80" width="4.40" height="2.60" stroke="none" stroke-width="0" fill="#111" />
<text x="584.20" y="47.40" font-size="5.4" text-anchor="end" font-weight="normal" fill="#444" font-family="'Liberation Serif', serif" >10<tspan font-size="3.8" dy="-1.8">5</tspan></text>
<text x="584.20" y="70.50" font-size="5.4" text-anchor="end" font-weight="normal" fill="#444" font-family="'Liberation Serif', serif" >10<tspan font-size="3.8" dy="-1.8">4</tspan></text>
<text x="584.20" y="96.90" font-size="5.4" text-anchor="end" font-weight="normal" fill="#444" font-family="'Liberation Serif', serif" >10<tspan font-size="3.8" dy="-1.8">3</tspan></text>
<text x="584.20" y="111.90" font-size="5.4" text-anchor="end" font-weight="normal" fill="#444" font-family="'Liberation Serif', serif" >0</text>
<text x="584.20" y="128.90" font-size="5.4" text-anchor="end" font-weight="normal" fill="#444" font-family="'Liberation Serif', serif" >-10<tspan font-size="3.8" dy="-1.8">3</tspan></text>
<text x="594.50" y="141.60" font-size="5.4" text-anchor="start" font-weight="normal" fill="#444" font-family="'Liberation Serif', serif" >-10<tspan font-size="3.8" dy="-1.8">3</tspan></text>
<text x="612.70" y="141.60" font-size="5.4" text-anchor="middle" font-weight="normal" fill="#444" font-family="'Liberation Serif', serif" >0</text>
<text x="626.50" y="141.60" font-size="5.4" text-anchor="start" font-weight="normal" fill="#444" font-family="'Liberation Serif', serif" >10<tspan font-size="3.8" dy="-1.8">3</tspan></text>
<text x="652.70" y="141.60" font-size="5.4" text-anchor="start" font-weight="normal" fill="#444" font-family="'Liberation Serif', serif" >10<tspan font-size="3.8" dy="-1.8">4</tspan></text>
<text x="676.10" y="141.60" font-size="5.4" text-anchor="start" font-weight="normal" fill="#444" font-family="'Liberation Serif', serif" >10<tspan font-size="3.8" dy="-1.8">5</tspan></text>
<text x="635.70" y="27.80" font-size="12.6" text-anchor="middle" font-weight="normal" fill="#000" font-family="'Liberation Sans', sans-serif" >E17.5</text>
<defs><linearGradient id="w1" x1="0" y1="0" x2="1" y2="0"><stop offset="0" stop-color="#000" stop-opacity="0.55"/><stop offset="0.45" stop-color="#000" stop-opacity="0.248"/><stop offset="1" stop-color="#000" stop-opacity="0"/></linearGradient></defs>
<path d="M401.5 52.5 Q420.8 54.5 440 60.5 Q420.8 67.8 401.5 71 Z" fill="url(#w1)"/>
<path d="M88.0 76.7h0.8v0.8h-0.8zM116.4 55.9h0.8v0.8h-0.8zM104.3 62.7h0.8v0.8h-0.8zM111.3 74.6h0.8v0.8h-0.8zM86.2 48.0h0.8v0.8h-0.8zM119.6 62.1h0.8v0.8h-0.8zM116.3 47.1h0.8v0.8h-0.8zM102.0 72.3h0.8v0.8h-0.8zM92.3 80.1h0.8v0.8h-0.8zM122.6 48.1h0.8v0.8h-0.8zM83.1 65.9h0.8v0.8h-0.8zM124.3 60.3h0.8v0.8h-0.8zM91.7 61.8h0.8v0.8h-0.8zM83.3 54.8h0.8v0.8h-0.8z" fill="#555" fill-opacity="0.6"/>
<path d="M116.0 57.7h0.8v0.8h-0.8zM98.6 61.7h0.8v0.8h-0.8zM102.5 54.0h0.8v0.8h-0.8zM91.3 57.2h0.8v0.8h-0.8zM85.3 56.8h0.8v0.8h-0.8zM90.4 59.6h0.8v0.8h-0.8zM86.8 63.1h0.8v0.8h-0.8zM105.7 59.0h0.8v0.8h-0.8zM88.3 62.3h0.8v0.8h-0.8zM97.1 61.3h0.8v0.8h-0.8zM87.3 62.0h0.8v0.8h-0.8zM81.2 68.2h0.8v0.8h-0.8zM83.6 60.0h0.8v0.8h-0.8zM95.2 62.1h0.8v0.8h-0.8zM92.8 63.4h0.8v0.8h-0.8zM92.4 58.2h0.8v0.8h-0.8zM107.6 55.5h0.8v0.8h-0.8zM93.1 50.2h0.8v0.8h-0.8zM96.3 52.2h0.8v0.8h-0.8zM79.6 72.2h0.8v0.8h-0.8zM100.2 60.3h0.8v0.8h-0.8zM95.4 53.1h0.8v0.8h-0.8zM84.3 62.5h0.8v0.8h-0.8zM78.0 61.0h0.8v0.8h-0.8zM83.7 69.2h0.8v0.8h-0.8zM103.1 57.7h0.8v0.8h-0.8zM93.3 55.3h0.8v0.8h-0.8zM96.4 65.4h0.8v0.8h-0.8zM93.3 58.1h0.8v0.8h-0.8zM101.0 58.8h0.8v0.8h-0.8zM101.6 58.7h0.8v0.8h-0.8zM108.6 58.9h0.8v0.8h-0.8zM84.1 60.8h0.8v0.8h-0.8zM88.0 55.6h0.8v0.8h-0.8zM92.7 64.2h0.8v0.8h-0.8zM92.5 59.6h0.8v0.8h-0.8zM101.2 53.7h0.8v0.8h-0.8zM99.9 59.2h0.8v0.8h-0.8zM94.9 59.3h0.8v0.8h-0.8zM90.9 57.7h0.8v0.8h-0.8z" fill="#555" fill-opacity="0.6"/>
<path d="M76.0 54.0 C86.0 53.0 93.0 59.0 96.0 62.0 C93.0 65.0 86.0 70.0 76.0 72.0" fill="none" stroke="#999" stroke-width="0.5"/>
<path d="M77.0 57.0 C84.0 56.0 88.0 59.0 91.0 62.0 C88.0 65.0 84.0 67.0 77.0 69.0" fill="none" stroke="#888" stroke-width="0.5"/>
<path d="M77.0 59.5 C81.5 58.5 83.0 59.0 86.0 62.0 C83.0 65.0 81.5 64.0 77.0 66.0" fill="none" stroke="#888" stroke-width="0.5"/>
<defs><radialGradient id="e2" cx="0.439" cy="0.493" r="0.55"><stop offset="0" stop-color="#7a7a7a"/><stop offset="1" stop-color="#f0f0f0"/></radialGradient></defs>
<path d="M68.60 51.20 A11.00 15.00 0 0 1 79.60 66.20 A11.00 15.40 0 0 1 68.60 81.60 A8.60 15.40 0 0 1 60.00 66.20 A8.60 15.00 0 0 1 68.60 51.20 Z" fill="url(#e2)"/>
<path d="M68.60 51.20 A11.00 15.00 0 0 1 79.60 66.20 A11.00 15.40 0 0 1 68.60 81.60 A8.60 15.40 0 0 1 60.00 66.20 A8.60 15.00 0 0 1 68.60 51.20 Z" fill="none" stroke="#afafaf" stroke-width="0.5"/>
<path d="M68.60 53.89 A8.34 12.31 0 0 1 76.94 66.20 A8.34 12.63 0 0 1 68.60 78.83 A7.06 12.63 0 0 1 61.54 66.20 A7.06 12.31 0 0 1 68.60 53.89 Z" fill="none" stroke="#a0a0a0" stroke-width="0.5"/>
<path d="M68.60 55.58 A6.79 10.62 0 0 1 75.39 66.20 A6.79 10.91 0 0 1 68.60 77.11 A6.09 10.91 0 0 1 62.51 66.20 A6.09 10.62 0 0 1 68.60 55.58 Z" fill="none" stroke="#929292" stroke-width="0.5"/>
<path d="M68.60 57.01 A5.54 9.19 0 0 1 74.14 66.20 A5.54 9.43 0 0 1 68.60 75.63 A5.27 9.43 0 0 1 63.33 66.20 A5.27 9.19 0 0 1 68.60 57.01 Z" fill="none" stroke="#848484" stroke-width="0.5"/>
<path d="M68.60 58.31 A4.48 7.89 0 0 1 73.08 66.20 A4.48 8.10 0 0 1 68.60 74.30 A4.52 8.10 0 0 1 64.08 66.20 A4.52 7.89 0 0 1 68.60 58.31 Z" fill="none" stroke="#767676" stroke-width="0.5"/>
<path d="M68.60 59.51 A3.55 6.69 0 0 1 72.15 66.20 A3.55 6.87 0 0 1 68.60 73.07 A3.84 6.87 0 0 1 64.76 66.20 A3.84 6.69 0 0 1 68.60 59.51 Z" fill="none" stroke="#686868" stroke-width="0.5"/>
<path d="M68.60 60.64 A2.74 5.56 0 0 1 71.34 66.20 A2.74 5.71 0 0 1 68.60 71.91 A3.19 5.71 0 0 1 65.41 66.20 A3.19 5.56 0 0 1 68.60 60.64 Z" fill="none" stroke="#5a5a5a" stroke-width="0.5"/>
<path d="M68.60 61.72 A2.03 4.48 0 0 1 70.63 66.20 A2.03 4.60 0 0 1 68.60 70.80 A2.57 4.60 0 0 1 66.03 66.20 A2.57 4.48 0 0 1 68.60 61.72 Z" fill="none" stroke="#5a5a5a" stroke-width="0.5"/>
<path d="M68.60 62.75 A1.41 3.45 0 0 1 70.01 66.20 A1.41 3.54 0 0 1 68.60 69.74 A1.98 3.54 0 0 1 66.62 66.20 A1.98 3.45 0 0 1 68.60 62.75 Z" fill="none" stroke="#5a5a5a" stroke-width="0.5"/>
<path d="M68.60 63.74 A0.88 2.46 0 0 1 69.48 66.20 A0.88 2.53 0 0 1 68.60 68.73 A1.41 2.53 0 0 1 67.19 66.20 A1.41 2.46 0 0 1 68.60 63.74 Z" fill="none" stroke="#5a5a5a" stroke-width="0.5"/>
<ellipse cx="68.5" cy="66" rx="0.9" ry="1.1" fill="#fff"/>
<path d="M200.2 69.8h0.8v0.8h-0.8zM206.4 72.2h0.8v0.8h-0.8zM218.4 50.6h0.8v0.8h-0.8zM189.6 81.5h0.8v0.8h-0.8zM201.2 57.4h0.8v0.8h-0.8zM235.8 66.8h0.8v0.8h-0.8zM228.3 67.1h0.8v0.8h-0.8zM219.0 54.0h0.8v0.8h-0.8zM218.8 82.7h0.8v0.8h-0.8zM213.6 77.7h0.8v0.8h-0.8zM220.6 50.6h0.8v0.8h-0.8zM224.6 71.6h0.8v0.8h-0.8zM203.2 49.2h0.8v0.8h-0.8zM229.7 66.9h0.8v0.8h-0.8zM222.8 83.2h0.8v0.8h-0.8zM222.6 84.8h0.8v0.8h-0.8zM207.6 80.0h0.8v0.8h-0.8zM209.9 85.4h0.8v0.8h-0.8zM230.3 51.9h0.8v0.8h-0.8zM195.4 56.7h0.8v0.8h-0.8zM234.4 65.4h0.8v0.8h-0.8zM218.5 60.0h0.8v0.8h-0.8zM212.8 63.4h0.8v0.8h-0.8zM205.5 71.4h0.8v0.8h-0.8zM216.5 84.2h0.8v0.8h-0.8z" fill="#555" fill-opacity="0.6"/>
<path d="M205.3 59.4h0.8v0.8h-0.8zM201.3 59.1h0.8v0.8h-0.8zM212.4 59.2h0.8v0.8h-0.8zM217.5 55.3h0.8v0.8h-0.8zM205.5 55.9h0.8v0.8h-0.8zM198.7 57.4h0.8v0.8h-0.8zM206.8 59.3h0.8v0.8h-0.8zM209.1 64.7h0.8v0.8h-0.8zM211.9 53.2h0.8v0.8h-0.8zM206.6 56.1h0.8v0.8h-0.8zM200.9 61.9h0.8v0.8h-0.8zM203.2 52.1h0.8v0.8h-0.8zM207.5 57.1h0.8v0.8h-0.8zM195.6 55.2h0.8v0.8h-0.8zM200.0 57.9h0.8v0.8h-0.8zM201.6 58.2h0.8v0.8h-0.8zM219.7 55.6h0.8v0.8h-0.8zM198.5 57.3h0.8v0.8h-0.8zM213.8 55.9h0.8v0.8h-0.8zM216.5 54.1h0.8v0.8h-0.8zM196.7 57.8h0.8v0.8h-0.8zM198.1 56.1h0.8v0.8h-0.8zM208.6 60.2h0.8v0.8h-0.8zM205.9 57.2h0.8v0.8h-0.8zM215.8 59.2h0.8v0.8h-0.8zM203.1 61.6h0.8v0.8h-0.8zM197.8 58.5h0.8v0.8h-0.8zM210.3 58.0h0.8v0.8h-0.8zM200.4 59.1h0.8v0.8h-0.8zM200.7 56.2h0.8v0.8h-0.8z" fill="#555" fill-opacity="0.6"/>
<path d="M171.9 80.6h0.8v0.8h-0.8zM178.3 77.1h0.8v0.8h-0.8zM175.5 77.2h0.8v0.8h-0.8zM179.9 84.6h0.8v0.8h-0.8zM180.7 82.5h0.8v0.8h-0.8zM177.4 83.1h0.8v0.8h-0.8zM173.4 84.4h0.8v0.8h-0.8zM171.6 82.9h0.8v0.8h-0.8zM178.4 84.2h0.8v0.8h-0.8zM174.6 90.6h0.8v0.8h-0.8zM176.2 82.2h0.8v0.8h-0.8zM176.6 82.4h0.8v0.8h-0.8zM174.7 82.9h0.8v0.8h-0.8zM183.1 84.1h0.8v0.8h-0.8zM176.6 86.0h0.8v0.8h-0.8zM183.1 83.3h0.8v0.8h-0.8zM173.8 91.4h0.8v0.8h-0.8zM170.9 82.9h0.8v0.8h-0.8z" fill="#777" fill-opacity="0.6"/>
<path d="M184.0 53.5 C198.0 52.5 209.0 55.0 212.0 58.0 C209.0 61.0 198.0 63.0 184.0 65.0" fill="none" stroke="#999" stroke-width="0.5"/>
<path d="M185.0 55.5 C196.0 54.5 204.0 55.0 207.0 58.0 C204.0 61.0 196.0 61.0 185.0 63.0" fill="none" stroke="#888" stroke-width="0.5"/>
<path d="M185.0 57.0 C193.0 56.0 198.0 55.0 201.0 58.0 C198.0 61.0 193.0 60.0 185.0 62.0" fill="none" stroke="#888" stroke-width="0.5"/>
<defs><radialGradient id="e3" cx="0.418" cy="0.478" r="0.55"><stop offset="0" stop-color="#7a7a7a"/><stop offset="1" stop-color="#f0f0f0"/></radialGradient></defs>
<path d="M177.00 51.90 A11.40 12.90 0 0 1 188.40 64.80 A11.40 14.10 0 0 1 177.00 78.90 A8.20 14.10 0 0 1 168.80 64.80 A8.20 12.90 0 0 1 177.00 51.90 Z" fill="url(#e3)"/>
<path d="M177.00 51.90 A11.40 12.90 0 0 1 188.40 64.80 A11.40 14.10 0 0 1 177.00 78.90 A8.20 14.10 0 0 1 168.80 64.80 A8.20 12.90 0 0 1 177.00 51.90 Z" fill="none" stroke="#afafaf" stroke-width="0.5"/>
<path d="M177.00 54.22 A8.64 10.58 0 0 1 185.64 64.80 A8.64 11.57 0 0 1 177.00 76.37 A6.73 11.57 0 0 1 170.27 64.80 A6.73 10.58 0 0 1 177.00 54.22 Z" fill="none" stroke="#a0a0a0" stroke-width="0.5"/>
<path d="M177.00 55.66 A7.03 9.14 0 0 1 184.03 64.80 A7.03 9.99 0 0 1 177.00 74.79 A5.81 9.99 0 0 1 171.19 64.80 A5.81 9.14 0 0 1 177.00 55.66 Z" fill="none" stroke="#929292" stroke-width="0.5"/>
<path d="M177.00 56.90 A5.74 7.90 0 0 1 182.74 64.80 A5.74 8.64 0 0 1 177.00 73.44 A5.02 8.64 0 0 1 171.98 64.80 A5.02 7.90 0 0 1 177.00 56.90 Z" fill="none" stroke="#848484" stroke-width="0.5"/>
<path d="M177.00 58.01 A4.64 6.79 0 0 1 181.64 64.80 A4.64 7.42 0 0 1 177.00 72.22 A4.31 7.42 0 0 1 172.69 64.80 A4.31 6.79 0 0 1 177.00 58.01 Z" fill="none" stroke="#767676" stroke-width="0.5"/>
<path d="M177.00 59.05 A3.68 5.75 0 0 1 180.68 64.80 A3.68 6.29 0 0 1 177.00 71.09 A3.66 6.29 0 0 1 173.34 64.80 A3.66 5.75 0 0 1 177.00 59.05 Z" fill="none" stroke="#686868" stroke-width="0.5"/>
<path d="M177.00 60.02 A2.84 4.78 0 0 1 179.84 64.80 A2.84 5.23 0 0 1 177.00 70.03 A3.04 5.23 0 0 1 173.96 64.80 A3.04 4.78 0 0 1 177.00 60.02 Z" fill="none" stroke="#5a5a5a" stroke-width="0.5"/>
<path d="M177.00 60.94 A2.10 3.86 0 0 1 179.10 64.80 A2.10 4.21 0 0 1 177.00 69.01 A2.45 4.21 0 0 1 174.55 64.80 A2.45 3.86 0 0 1 177.00 60.94 Z" fill="none" stroke="#5a5a5a" stroke-width="0.5"/>
<path d="M177.00 61.83 A1.46 2.97 0 0 1 178.46 64.80 A1.46 3.25 0 0 1 177.00 68.05 A1.89 3.25 0 0 1 175.11 64.80 A1.89 2.97 0 0 1 177.00 61.83 Z" fill="none" stroke="#5a5a5a" stroke-width="0.5"/>
<path d="M177.00 62.68 A0.91 2.12 0 0 1 177.91 64.80 A0.91 2.31 0 0 1 177.00 67.11 A1.34 2.31 0 0 1 175.66 64.80 A1.34 2.12 0 0 1 177.00 62.68 Z" fill="none" stroke="#5a5a5a" stroke-width="0.5"/>
<ellipse cx="177" cy="64.7" rx="0.9" ry="1.1" fill="#fff"/>
<path d="M323.7 62.3h0.8v0.8h-0.8zM302.5 53.6h0.8v0.8h-0.8zM292.0 55.9h0.8v0.8h-0.8zM322.4 55.5h0.8v0.8h-0.8zM306.9 60.6h0.8v0.8h-0.8zM324.1 56.4h0.8v0.8h-0.8zM321.2 54.9h0.8v0.8h-0.8zM319.3 63.2h0.8v0.8h-0.8zM299.7 49.0h0.8v0.8h-0.8zM302.6 56.3h0.8v0.8h-0.8zM324.1 56.5h0.8v0.8h-0.8zM305.4 49.4h0.8v0.8h-0.8zM295.7 63.8h0.8v0.8h-0.8zM309.8 50.3h0.8v0.8h-0.8zM295.8 63.1h0.8v0.8h-0.8zM303.6 68.2h0.8v0.8h-0.8zM330.1 57.6h0.8v0.8h-0.8zM318.2 58.2h0.8v0.8h-0.8zM306.4 71.8h0.8v0.8h-0.8zM312.6 55.1h0.8v0.8h-0.8zM317.8 57.1h0.8v0.8h-0.8zM331.1 53.0h0.8v0.8h-0.8zM293.1 54.0h0.8v0.8h-0.8zM304.2 66.3h0.8v0.8h-0.8zM315.6 69.1h0.8v0.8h-0.8zM313.0 66.0h0.8v0.8h-0.8zM296.7 57.0h0.8v0.8h-0.8zM299.8 55.3h0.8v0.8h-0.8zM311.3 62.5h0.8v0.8h-0.8zM326.6 62.3h0.8v0.8h-0.8zM319.9 68.5h0.8v0.8h-0.8zM292.7 60.9h0.8v0.8h-0.8zM305.3 66.9h0.8v0.8h-0.8zM304.2 55.2h0.8v0.8h-0.8zM307.1 57.7h0.8v0.8h-0.8zM332.0 61.3h0.8v0.8h-0.8zM294.2 50.0h0.8v0.8h-0.8zM307.9 64.5h0.8v0.8h-0.8zM331.2 60.3h0.8v0.8h-0.8zM327.7 72.0h0.8v0.8h-0.8zM318.8 64.2h0.8v0.8h-0.8zM325.3 56.9h0.8v0.8h-0.8zM323.8 54.8h0.8v0.8h-0.8zM320.2 59.4h0.8v0.8h-0.8zM308.4 68.2h0.8v0.8h-0.8zM302.6 65.3h0.8v0.8h-0.8zM311.5 60.7h0.8v0.8h-0.8zM292.9 55.8h0.8v0.8h-0.8zM296.9 54.7h0.8v0.8h-0.8zM302.3 56.9h0.8v0.8h-0.8zM310.1 63.9h0.8v0.8h-0.8zM308.4 58.1h0.8v0.8h-0.8zM327.2 57.4h0.8v0.8h-0.8zM311.0 57.1h0.8v0.8h-0.8zM311.1 63.4h0.8v0.8h-0.8zM304.2 64.6h0.8v0.8h-0.8zM324.2 57.0h0.8v0.8h-0.8zM330.8 65.4h0.8v0.8h-0.8zM328.9 55.9h0.8v0.8h-0.8zM304.8 65.8h0.8v0.8h-0.8zM307.9 49.7h0.8v0.8h-0.8zM329.5 60.6h0.8v0.8h-0.8zM303.6 66.7h0.8v0.8h-0.8zM294.3 60.3h0.8v0.8h-0.8zM293.2 60.5h0.8v0.8h-0.8zM320.7 57.7h0.8v0.8h-0.8zM306.5 70.7h0.8v0.8h-0.8zM294.5 55.0h0.8v0.8h-0.8zM299.7 68.4h0.8v0.8h-0.8zM308.9 57.4h0.8v0.8h-0.8zM323.3 62.1h0.8v0.8h-0.8zM310.8 54.0h0.8v0.8h-0.8zM296.0 57.6h0.8v0.8h-0.8zM317.0 62.2h0.8v0.8h-0.8zM316.3 64.5h0.8v0.8h-0.8zM295.9 67.4h0.8v0.8h-0.8zM296.2 55.5h0.8v0.8h-0.8zM328.0 56.2h0.8v0.8h-0.8zM317.2 59.2h0.8v0.8h-0.8zM325.3 57.8h0.8v0.8h-0.8zM295.3 49.0h0.8v0.8h-0.8zM328.3 53.6h0.8v0.8h-0.8zM327.7 53.7h0.8v0.8h-0.8zM323.7 62.1h0.8v0.8h-0.8zM297.5 73.5h0.8v0.8h-0.8zM309.6 55.7h0.8v0.8h-0.8zM323.1 56.5h0.8v0.8h-0.8zM320.5 61.3h0.8v0.8h-0.8zM294.5 65.8h0.8v0.8h-0.8zM329.6 67.1h0.8v0.8h-0.8zM303.2 66.1h0.8v0.8h-0.8zM330.6 51.6h0.8v0.8h-0.8zM293.3 66.6h0.8v0.8h-0.8zM295.4 63.9h0.8v0.8h-0.8zM313.4 53.0h0.8v0.8h-0.8zM293.3 63.1h0.8v0.8h-0.8zM294.1 65.8h0.8v0.8h-0.8zM331.7 60.9h0.8v0.8h-0.8zM320.0 48.1h0.8v0.8h-0.8zM305.7 68.6h0.8v0.8h-0.8zM296.6 65.1h0.8v0.8h-0.8zM313.9 53.9h0.8v0.8h-0.8zM295.0 61.8h0.8v0.8h-0.8zM295.0 58.3h0.8v0.8h-0.8zM313.0 59.8h0.8v0.8h-0.8zM298.0 59.3h0.8v0.8h-0.8zM314.7 63.0h0.8v0.8h-0.8zM307.5 60.7h0.8v0.8h-0.8zM314.6 63.7h0.8v0.8h-0.8zM328.4 57.8h0.8v0.8h-0.8zM304.7 61.8h0.8v0.8h-0.8zM301.6 50.1h0.8v0.8h-0.8zM314.8 55.9h0.8v0.8h-0.8zM299.5 57.1h0.8v0.8h-0.8zM309.6 65.0h0.8v0.8h-0.8zM307.9 67.3h0.8v0.8h-0.8zM318.5 59.9h0.8v0.8h-0.8zM320.7 54.6h0.8v0.8h-0.8zM306.9 51.6h0.8v0.8h-0.8zM318.7 62.9h0.8v0.8h-0.8z" fill="#222" fill-opacity="0.55"/>
<path d="M319.4 63.7h0.8v0.8h-0.8zM301.7 73.0h0.8v0.8h-0.8zM297.3 68.5h0.8v0.8h-0.8zM319.8 63.2h0.8v0.8h-0.8zM310.7 63.5h0.8v0.8h-0.8zM313.2 61.7h0.8v0.8h-0.8zM320.3 55.4h0.8v0.8h-0.8zM297.0 72.2h0.8v0.8h-0.8zM323.4 56.6h0.8v0.8h-0.8zM314.1 54.4h0.8v0.8h-0.8zM324.9 60.9h0.8v0.8h-0.8zM296.3 50.1h0.8v0.8h-0.8zM318.0 63.7h0.8v0.8h-0.8zM323.9 53.3h0.8v0.8h-0.8zM320.4 62.3h0.8v0.8h-0.8zM300.1 52.4h0.8v0.8h-0.8zM312.0 63.3h0.8v0.8h-0.8zM312.9 61.9h0.8v0.8h-0.8zM321.1 59.8h0.8v0.8h-0.8zM304.3 67.6h0.8v0.8h-0.8zM317.5 55.6h0.8v0.8h-0.8zM311.6 64.5h0.8v0.8h-0.8zM303.9 52.5h0.8v0.8h-0.8zM324.3 56.6h0.8v0.8h-0.8zM308.3 53.3h0.8v0.8h-0.8zM311.0 62.9h0.8v0.8h-0.8zM294.6 68.3h0.8v0.8h-0.8zM314.0 65.9h0.8v0.8h-0.8zM309.6 54.5h0.8v0.8h-0.8zM305.5 52.9h0.8v0.8h-0.8zM325.3 58.9h0.8v0.8h-0.8zM304.3 64.4h0.8v0.8h-0.8zM318.8 54.2h0.8v0.8h-0.8zM304.5 51.6h0.8v0.8h-0.8zM320.9 56.4h0.8v0.8h-0.8zM293.5 51.2h0.8v0.8h-0.8zM296.2 68.4h0.8v0.8h-0.8zM325.1 56.0h0.8v0.8h-0.8zM310.9 52.4h0.8v0.8h-0.8zM295.4 68.3h0.8v0.8h-0.8zM314.5 66.5h0.8v0.8h-0.8zM321.9 55.9h0.8v0.8h-0.8zM301.2 52.9h0.8v0.8h-0.8zM322.1 56.8h0.8v0.8h-0.8zM319.2 55.4h0.8v0.8h-0.8zM317.5 54.7h0.8v0.8h-0.8zM327.7 59.2h0.8v0.8h-0.8zM301.6 52.4h0.8v0.8h-0.8zM299.1 66.7h0.8v0.8h-0.8zM303.2 69.4h0.8v0.8h-0.8zM303.8 53.8h0.8v0.8h-0.8zM326.4 55.8h0.8v0.8h-0.8zM304.6 53.0h0.8v0.8h-0.8zM314.8 51.7h0.8v0.8h-0.8zM307.2 63.8h0.8v0.8h-0.8zM295.1 52.0h0.8v0.8h-0.8zM322.6 59.5h0.8v0.8h-0.8zM306.0 65.4h0.8v0.8h-0.8zM320.5 56.1h0.8v0.8h-0.8zM326.4 60.0h0.8v0.8h-0.8zM326.3 56.4h0.8v0.8h-0.8zM326.0 56.3h0.8v0.8h-0.8zM303.1 67.3h0.8v0.8h-0.8zM306.9 53.8h0.8v0.8h-0.8zM310.8 64.0h0.8v0.8h-0.8zM314.8 54.3h0.8v0.8h-0.8zM298.1 71.0h0.8v0.8h-0.8zM305.8 64.7h0.8v0.8h-0.8zM323.1 60.2h0.8v0.8h-0.8zM319.2 61.4h0.8v0.8h-0.8zM302.5 51.6h0.8v0.8h-0.8zM324.7 61.9h0.8v0.8h-0.8zM316.3 62.5h0.8v0.8h-0.8zM310.9 64.8h0.8v0.8h-0.8zM300.5 67.4h0.8v0.8h-0.8zM324.8 55.9h0.8v0.8h-0.8zM312.1 53.5h0.8v0.8h-0.8zM326.8 57.7h0.8v0.8h-0.8zM325.4 59.9h0.8v0.8h-0.8zM297.5 68.1h0.8v0.8h-0.8zM298.3 67.4h0.8v0.8h-0.8zM321.1 62.7h0.8v0.8h-0.8zM302.0 50.2h0.8v0.8h-0.8zM304.0 52.0h0.8v0.8h-0.8zM308.6 53.4h0.8v0.8h-0.8zM311.7 62.6h0.8v0.8h-0.8zM318.0 55.1h0.8v0.8h-0.8zM321.0 55.3h0.8v0.8h-0.8zM305.0 66.6h0.8v0.8h-0.8zM313.6 62.6h0.8v0.8h-0.8zM320.2 60.8h0.8v0.8h-0.8zM315.1 52.6h0.8v0.8h-0.8zM308.2 63.4h0.8v0.8h-0.8zM298.9 51.2h0.8v0.8h-0.8zM317.7 54.6h0.8v0.8h-0.8zM303.2 70.6h0.8v0.8h-0.8zM316.6 61.0h0.8v0.8h-0.8zM303.0 66.1h0.8v0.8h-0.8zM310.5 62.4h0.8v0.8h-0.8zM319.7 63.4h0.8v0.8h-0.8zM304.8 66.7h0.8v0.8h-0.8zM322.0 55.2h0.8v0.8h-0.8zM292.3 69.5h0.8v0.8h-0.8zM305.4 52.4h0.8v0.8h-0.8zM304.2 52.5h0.8v0.8h-0.8zM321.6 54.8h0.8v0.8h-0.8zM306.6 52.0h0.8v0.8h-0.8zM326.5 63.9h0.8v0.8h-0.8zM316.3 55.5h0.8v0.8h-0.8zM316.5 61.2h0.8v0.8h-0.8zM327.5 55.0h0.8v0.8h-0.8zM305.1 64.5h0.8v0.8h-0.8zM315.9 55.1h0.8v0.8h-0.8zM299.7 52.7h0.8v0.8h-0.8zM327.7 62.3h0.8v0.8h-0.8zM299.5 65.7h0.8v0.8h-0.8zM325.7 64.5h0.8v0.8h-0.8zM316.9 53.0h0.8v0.8h-0.8zM304.0 68.7h0.8v0.8h-0.8zM300.7 68.3h0.8v0.8h-0.8zM315.2 62.8h0.8v0.8h-0.8zM313.1 63.3h0.8v0.8h-0.8zM318.4 60.9h0.8v0.8h-0.8zM307.0 65.6h0.8v0.8h-0.8zM318.1 65.3h0.8v0.8h-0.8zM319.7 61.1h0.8v0.8h-0.8zM308.7 65.2h0.8v0.8h-0.8zM309.4 53.9h0.8v0.8h-0.8zM324.7 63.2h0.8v0.8h-0.8zM299.1 50.8h0.8v0.8h-0.8zM327.8 60.0h0.8v0.8h-0.8zM293.9 70.5h0.8v0.8h-0.8zM315.5 61.5h0.8v0.8h-0.8zM324.6 59.8h0.8v0.8h-0.8zM324.9 57.1h0.8v0.8h-0.8zM325.7 62.5h0.8v0.8h-0.8zM303.6 53.7h0.8v0.8h-0.8zM326.8 61.2h0.8v0.8h-0.8zM302.0 66.6h0.8v0.8h-0.8zM292.1 70.2h0.8v0.8h-0.8zM306.6 53.0h0.8v0.8h-0.8zM300.5 52.6h0.8v0.8h-0.8zM327.9 56.9h0.8v0.8h-0.8zM296.8 52.7h0.8v0.8h-0.8zM295.8 50.8h0.8v0.8h-0.8zM323.1 60.8h0.8v0.8h-0.8zM299.5 66.8h0.8v0.8h-0.8zM308.8 53.6h0.8v0.8h-0.8zM323.4 56.1h0.8v0.8h-0.8zM304.3 66.9h0.8v0.8h-0.8zM298.1 52.0h0.8v0.8h-0.8zM321.6 56.3h0.8v0.8h-0.8zM316.2 61.3h0.8v0.8h-0.8zM319.8 64.1h0.8v0.8h-0.8zM323.7 61.2h0.8v0.8h-0.8zM298.7 52.5h0.8v0.8h-0.8zM317.3 55.1h0.8v0.8h-0.8zM299.7 67.8h0.8v0.8h-0.8zM326.6 56.9h0.8v0.8h-0.8zM306.2 63.8h0.8v0.8h-0.8zM326.4 59.3h0.8v0.8h-0.8zM323.3 56.7h0.8v0.8h-0.8zM304.3 64.6h0.8v0.8h-0.8zM327.7 59.6h0.8v0.8h-0.8zM318.7 56.1h0.8v0.8h-0.8zM316.0 55.4h0.8v0.8h-0.8zM321.7 61.7h0.8v0.8h-0.8zM321.6 56.2h0.8v0.8h-0.8zM300.0 52.9h0.8v0.8h-0.8zM292.7 68.7h0.8v0.8h-0.8zM306.3 53.5h0.8v0.8h-0.8zM323.3 61.2h0.8v0.8h-0.8zM298.0 51.9h0.8v0.8h-0.8zM315.7 61.1h0.8v0.8h-0.8zM322.0 62.9h0.8v0.8h-0.8zM310.4 66.9h0.8v0.8h-0.8zM301.7 66.4h0.8v0.8h-0.8zM324.0 60.3h0.8v0.8h-0.8zM309.3 54.5h0.8v0.8h-0.8zM313.6 54.0h0.8v0.8h-0.8zM309.3 54.5h0.8v0.8h-0.8zM317.8 53.6h0.8v0.8h-0.8zM300.6 52.0h0.8v0.8h-0.8zM317.4 62.2h0.8v0.8h-0.8zM305.5 53.1h0.8v0.8h-0.8zM307.0 65.9h0.8v0.8h-0.8zM299.7 52.3h0.8v0.8h-0.8zM317.6 55.0h0.8v0.8h-0.8zM312.2 63.2h0.8v0.8h-0.8zM296.7 52.6h0.8v0.8h-0.8zM305.4 67.5h0.8v0.8h-0.8zM326.7 60.0h0.8v0.8h-0.8zM300.6 67.5h0.8v0.8h-0.8zM319.9 55.8h0.8v0.8h-0.8zM304.2 51.3h0.8v0.8h-0.8zM300.3 51.2h0.8v0.8h-0.8zM304.1 65.4h0.8v0.8h-0.8zM319.7 54.8h0.8v0.8h-0.8zM300.2 65.5h0.8v0.8h-0.8zM300.7 53.2h0.8v0.8h-0.8zM319.6 55.4h0.8v0.8h-0.8zM317.8 63.9h0.8v0.8h-0.8zM304.5 65.8h0.8v0.8h-0.8zM325.6 56.3h0.8v0.8h-0.8zM305.7 66.5h0.8v0.8h-0.8zM297.5 67.7h0.8v0.8h-0.8zM327.3 57.5h0.8v0.8h-0.8zM298.2 67.1h0.8v0.8h-0.8zM326.1 58.6h0.8v0.8h-0.8zM325.5 60.0h0.8v0.8h-0.8zM327.7 57.9h0.8v0.8h-0.8zM298.9 52.3h0.8v0.8h-0.8zM307.5 65.1h0.8v0.8h-0.8zM324.6 59.8h0.8v0.8h-0.8zM310.9 64.1h0.8v0.8h-0.8zM324.4 56.7h0.8v0.8h-0.8zM298.3 52.0h0.8v0.8h-0.8zM327.8 59.6h0.8v0.8h-0.8zM315.4 63.8h0.8v0.8h-0.8zM295.7 50.8h0.8v0.8h-0.8zM293.4 50.8h0.8v0.8h-0.8zM295.1 68.4h0.8v0.8h-0.8zM324.3 60.2h0.8v0.8h-0.8zM321.2 60.1h0.8v0.8h-0.8zM295.2 50.9h0.8v0.8h-0.8zM316.6 54.3h0.8v0.8h-0.8zM297.1 51.9h0.8v0.8h-0.8zM308.9 64.5h0.8v0.8h-0.8zM312.7 63.4h0.8v0.8h-0.8zM323.4 62.6h0.8v0.8h-0.8zM318.9 55.6h0.8v0.8h-0.8zM304.2 53.0h0.8v0.8h-0.8zM301.6 53.0h0.8v0.8h-0.8zM319.2 62.1h0.8v0.8h-0.8zM317.2 62.0h0.8v0.8h-0.8zM319.9 60.3h0.8v0.8h-0.8zM311.3 63.6h0.8v0.8h-0.8zM293.5 52.3h0.8v0.8h-0.8zM315.1 61.7h0.8v0.8h-0.8zM310.8 53.8h0.8v0.8h-0.8zM312.4 65.0h0.8v0.8h-0.8zM301.2 51.8h0.8v0.8h-0.8zM298.5 52.6h0.8v0.8h-0.8zM319.8 56.3h0.8v0.8h-0.8zM318.2 56.1h0.8v0.8h-0.8zM312.4 53.1h0.8v0.8h-0.8zM304.7 64.1h0.8v0.8h-0.8zM308.2 65.9h0.8v0.8h-0.8zM300.0 65.7h0.8v0.8h-0.8zM323.1 59.8h0.8v0.8h-0.8zM309.3 63.3h0.8v0.8h-0.8zM323.7 61.4h0.8v0.8h-0.8zM326.5 57.4h0.8v0.8h-0.8zM319.4 53.2h0.8v0.8h-0.8zM326.0 61.3h0.8v0.8h-0.8zM327.1 59.0h0.8v0.8h-0.8zM319.0 55.7h0.8v0.8h-0.8zM302.6 66.2h0.8v0.8h-0.8zM311.9 62.5h0.8v0.8h-0.8zM294.9 52.2h0.8v0.8h-0.8zM296.4 52.7h0.8v0.8h-0.8zM319.8 60.3h0.8v0.8h-0.8zM308.5 51.0h0.8v0.8h-0.8zM320.9 54.5h0.8v0.8h-0.8zM314.5 53.1h0.8v0.8h-0.8zM311.5 65.0h0.8v0.8h-0.8zM321.7 62.4h0.8v0.8h-0.8zM300.4 68.9h0.8v0.8h-0.8zM308.6 64.8h0.8v0.8h-0.8zM304.5 53.6h0.8v0.8h-0.8zM324.4 55.5h0.8v0.8h-0.8zM321.7 53.6h0.8v0.8h-0.8zM312.8 61.9h0.8v0.8h-0.8zM314.9 61.3h0.8v0.8h-0.8zM320.8 62.0h0.8v0.8h-0.8zM298.3 67.3h0.8v0.8h-0.8zM327.7 57.7h0.8v0.8h-0.8zM308.1 63.4h0.8v0.8h-0.8zM308.3 52.6h0.8v0.8h-0.8zM314.9 62.1h0.8v0.8h-0.8zM309.8 54.0h0.8v0.8h-0.8zM327.6 59.8h0.8v0.8h-0.8zM323.4 59.5h0.8v0.8h-0.8zM305.5 63.7h0.8v0.8h-0.8zM326.1 57.0h0.8v0.8h-0.8zM327.7 56.1h0.8v0.8h-0.8zM296.7 69.2h0.8v0.8h-0.8zM294.1 72.5h0.8v0.8h-0.8zM305.8 65.1h0.8v0.8h-0.8zM307.5 65.7h0.8v0.8h-0.8zM310.8 52.9h0.8v0.8h-0.8zM302.7 64.7h0.8v0.8h-0.8zM303.7 51.8h0.8v0.8h-0.8zM309.7 63.0h0.8v0.8h-0.8zM324.6 60.6h0.8v0.8h-0.8zM310.3 67.3h0.8v0.8h-0.8zM303.7 65.0h0.8v0.8h-0.8zM292.5 69.0h0.8v0.8h-0.8zM308.7 53.1h0.8v0.8h-0.8zM316.4 61.7h0.8v0.8h-0.8zM315.3 66.6h0.8v0.8h-0.8zM303.2 52.4h0.8v0.8h-0.8zM308.0 63.9h0.8v0.8h-0.8zM320.0 60.8h0.8v0.8h-0.8zM305.4 65.7h0.8v0.8h-0.8zM324.6 58.9h0.8v0.8h-0.8zM314.1 53.3h0.8v0.8h-0.8zM298.6 67.1h0.8v0.8h-0.8zM301.1 52.1h0.8v0.8h-0.8zM311.6 62.8h0.8v0.8h-0.8zM300.7 52.2h0.8v0.8h-0.8zM305.4 51.0h0.8v0.8h-0.8zM326.7 62.1h0.8v0.8h-0.8zM309.0 64.5h0.8v0.8h-0.8zM319.5 54.3h0.8v0.8h-0.8zM319.3 61.4h0.8v0.8h-0.8zM296.9 68.2h0.8v0.8h-0.8zM310.3 62.6h0.8v0.8h-0.8zM325.7 55.7h0.8v0.8h-0.8zM312.9 52.1h0.8v0.8h-0.8zM323.2 63.6h0.8v0.8h-0.8zM315.0 52.5h0.8v0.8h-0.8zM319.0 60.6h0.8v0.8h-0.8zM322.3 56.3h0.8v0.8h-0.8zM305.6 66.2h0.8v0.8h-0.8zM301.7 52.4h0.8v0.8h-0.8zM316.9 54.9h0.8v0.8h-0.8zM312.8 62.8h0.8v0.8h-0.8zM327.4 61.9h0.8v0.8h-0.8zM299.3 51.3h0.8v0.8h-0.8zM324.6 54.7h0.8v0.8h-0.8zM293.1 49.3h0.8v0.8h-0.8zM320.3 56.3h0.8v0.8h-0.8zM323.7 61.0h0.8v0.8h-0.8zM297.5 66.8h0.8v0.8h-0.8zM325.9 56.7h0.8v0.8h-0.8zM314.7 54.1h0.8v0.8h-0.8zM309.3 63.7h0.8v0.8h-0.8zM301.3 66.8h0.8v0.8h-0.8zM297.0 67.5h0.8v0.8h-0.8zM315.8 62.0h0.8v0.8h-0.8zM327.3 57.2h0.8v0.8h-0.8zM312.7 53.4h0.8v0.8h-0.8zM305.0 52.8h0.8v0.8h-0.8zM316.1 62.0h0.8v0.8h-0.8zM326.1 59.0h0.8v0.8h-0.8zM298.9 52.6h0.8v0.8h-0.8zM293.6 52.5h0.8v0.8h-0.8zM315.7 62.4h0.8v0.8h-0.8zM323.4 57.0h0.8v0.8h-0.8zM316.8 55.2h0.8v0.8h-0.8zM298.5 66.2h0.8v0.8h-0.8zM318.3 54.9h0.8v0.8h-0.8zM310.6 65.8h0.8v0.8h-0.8zM316.9 55.1h0.8v0.8h-0.8zM292.9 69.7h0.8v0.8h-0.8zM324.3 62.0h0.8v0.8h-0.8zM325.2 56.9h0.8v0.8h-0.8zM325.9 55.4h0.8v0.8h-0.8zM322.7 56.3h0.8v0.8h-0.8zM307.5 68.3h0.8v0.8h-0.8zM313.5 63.7h0.8v0.8h-0.8zM325.9 60.4h0.8v0.8h-0.8zM326.0 63.3h0.8v0.8h-0.8zM303.8 53.8h0.8v0.8h-0.8zM310.8 52.4h0.8v0.8h-0.8zM298.8 52.7h0.8v0.8h-0.8zM310.3 53.6h0.8v0.8h-0.8zM306.3 52.9h0.8v0.8h-0.8zM321.2 59.8h0.8v0.8h-0.8zM295.7 67.4h0.8v0.8h-0.8zM309.9 63.4h0.8v0.8h-0.8zM303.1 52.1h0.8v0.8h-0.8zM313.9 55.1h0.8v0.8h-0.8zM315.0 53.9h0.8v0.8h-0.8zM324.5 60.6h0.8v0.8h-0.8zM325.8 62.2h0.8v0.8h-0.8zM303.9 51.4h0.8v0.8h-0.8zM301.9 66.4h0.8v0.8h-0.8zM298.2 52.5h0.8v0.8h-0.8zM307.5 52.9h0.8v0.8h-0.8zM314.9 61.8h0.8v0.8h-0.8zM325.0 56.8h0.8v0.8h-0.8zM307.5 53.0h0.8v0.8h-0.8zM296.4 52.1h0.8v0.8h-0.8zM316.8 53.2h0.8v0.8h-0.8zM317.6 62.5h0.8v0.8h-0.8zM324.8 59.7h0.8v0.8h-0.8zM308.6 63.7h0.8v0.8h-0.8zM312.8 65.8h0.8v0.8h-0.8zM308.7 52.3h0.8v0.8h-0.8zM323.1 56.0h0.8v0.8h-0.8zM326.1 54.7h0.8v0.8h-0.8zM296.7 66.9h0.8v0.8h-0.8zM314.4 64.3h0.8v0.8h-0.8zM327.9 58.4h0.8v0.8h-0.8zM318.6 56.0h0.8v0.8h-0.8zM310.7 51.9h0.8v0.8h-0.8zM310.7 67.8h0.8v0.8h-0.8zM304.2 53.4h0.8v0.8h-0.8zM315.2 64.2h0.8v0.8h-0.8zM301.8 53.2h0.8v0.8h-0.8zM327.3 57.1h0.8v0.8h-0.8zM305.4 65.0h0.8v0.8h-0.8zM314.9 63.0h0.8v0.8h-0.8zM295.1 51.0h0.8v0.8h-0.8zM309.7 65.0h0.8v0.8h-0.8zM295.1 50.7h0.8v0.8h-0.8zM319.6 56.3h0.8v0.8h-0.8zM323.7 64.4h0.8v0.8h-0.8zM312.9 64.7h0.8v0.8h-0.8zM307.8 54.3h0.8v0.8h-0.8zM323.6 60.1h0.8v0.8h-0.8zM301.0 68.9h0.8v0.8h-0.8zM292.8 50.2h0.8v0.8h-0.8zM322.1 62.3h0.8v0.8h-0.8zM296.9 51.7h0.8v0.8h-0.8zM325.3 56.8h0.8v0.8h-0.8zM323.1 61.6h0.8v0.8h-0.8zM312.5 63.4h0.8v0.8h-0.8z" fill="#222" fill-opacity="0.6"/>
<path d="M321.9 62.0h0.8v0.8h-0.8zM327.0 56.6h0.8v0.8h-0.8zM328.5 55.4h0.8v0.8h-0.8zM332.0 59.6h0.8v0.8h-0.8zM325.9 60.1h0.8v0.8h-0.8zM323.0 59.5h0.8v0.8h-0.8zM328.7 60.7h0.8v0.8h-0.8zM327.5 55.4h0.8v0.8h-0.8zM327.0 54.6h0.8v0.8h-0.8zM326.7 56.6h0.8v0.8h-0.8zM324.2 60.2h0.8v0.8h-0.8zM331.3 62.1h0.8v0.8h-0.8zM325.3 57.1h0.8v0.8h-0.8zM323.8 56.7h0.8v0.8h-0.8zM326.6 59.4h0.8v0.8h-0.8zM325.1 58.2h0.8v0.8h-0.8zM323.2 56.8h0.8v0.8h-0.8zM329.6 61.7h0.8v0.8h-0.8zM327.5 58.4h0.8v0.8h-0.8zM326.7 56.4h0.8v0.8h-0.8zM323.2 59.5h0.8v0.8h-0.8zM323.3 59.1h0.8v0.8h-0.8zM323.1 57.9h0.8v0.8h-0.8zM330.3 59.6h0.8v0.8h-0.8zM325.8 58.8h0.8v0.8h-0.8zM322.2 60.5h0.8v0.8h-0.8zM324.1 56.0h0.8v0.8h-0.8zM324.3 58.2h0.8v0.8h-0.8zM324.3 56.4h0.8v0.8h-0.8zM327.2 58.5h0.8v0.8h-0.8zM329.2 60.1h0.8v0.8h-0.8zM329.1 55.2h0.8v0.8h-0.8zM326.3 59.4h0.8v0.8h-0.8zM328.3 57.3h0.8v0.8h-0.8zM327.6 60.8h0.8v0.8h-0.8zM323.7 55.9h0.8v0.8h-0.8zM324.0 58.6h0.8v0.8h-0.8zM323.2 58.1h0.8v0.8h-0.8zM324.9 55.5h0.8v0.8h-0.8zM321.5 63.8h0.8v0.8h-0.8zM329.2 60.7h0.8v0.8h-0.8zM322.1 60.2h0.8v0.8h-0.8zM325.2 54.9h0.8v0.8h-0.8zM324.6 56.8h0.8v0.8h-0.8zM330.1 58.4h0.8v0.8h-0.8zM325.9 59.2h0.8v0.8h-0.8zM327.3 54.9h0.8v0.8h-0.8zM329.0 58.6h0.8v0.8h-0.8zM328.6 62.3h0.8v0.8h-0.8zM325.2 63.9h0.8v0.8h-0.8zM325.2 57.3h0.8v0.8h-0.8zM320.5 61.5h0.8v0.8h-0.8zM325.6 56.6h0.8v0.8h-0.8zM324.7 59.5h0.8v0.8h-0.8zM328.8 59.9h0.8v0.8h-0.8zM325.4 56.4h0.8v0.8h-0.8zM321.3 56.4h0.8v0.8h-0.8zM327.2 57.0h0.8v0.8h-0.8zM330.9 60.5h0.8v0.8h-0.8zM325.3 59.3h0.8v0.8h-0.8z" fill="#222" fill-opacity="0.7"/>
<path d="M282.1 80.1h0.8v0.8h-0.8zM295.5 73.1h0.8v0.8h-0.8zM277.5 62.7h0.8v0.8h-0.8zM277.3 65.3h0.8v0.8h-0.8zM295.6 69.5h0.8v0.8h-0.8zM294.2 73.9h0.8v0.8h-0.8zM278.3 72.8h0.8v0.8h-0.8zM288.1 80.9h0.8v0.8h-0.8zM279.5 54.3h0.8v0.8h-0.8zM279.0 75.1h0.8v0.8h-0.8zM297.1 63.4h0.8v0.8h-0.8zM284.2 80.9h0.8v0.8h-0.8zM292.4 78.1h0.8v0.8h-0.8zM290.3 52.0h0.8v0.8h-0.8zM290.8 80.8h0.8v0.8h-0.8zM279.8 77.1h0.8v0.8h-0.8zM277.6 61.6h0.8v0.8h-0.8zM289.0 80.1h0.8v0.8h-0.8zM282.4 51.8h0.8v0.8h-0.8zM278.5 58.3h0.8v0.8h-0.8zM277.4 70.4h0.8v0.8h-0.8zM283.2 49.9h0.8v0.8h-0.8zM286.9 82.1h0.8v0.8h-0.8zM293.2 55.2h0.8v0.8h-0.8zM285.3 50.7h0.8v0.8h-0.8zM294.9 78.5h0.8v0.8h-0.8zM278.6 73.2h0.8v0.8h-0.8zM277.0 67.1h0.8v0.8h-0.8zM296.0 69.8h0.8v0.8h-0.8zM277.2 58.6h0.8v0.8h-0.8zM293.3 55.2h0.8v0.8h-0.8zM278.0 56.7h0.8v0.8h-0.8zM277.2 57.7h0.8v0.8h-0.8zM295.4 60.8h0.8v0.8h-0.8zM277.5 68.4h0.8v0.8h-0.8zM283.7 51.7h0.8v0.8h-0.8zM280.1 52.3h0.8v0.8h-0.8zM284.5 80.3h0.8v0.8h-0.8zM279.6 75.6h0.8v0.8h-0.8zM277.6 69.5h0.8v0.8h-0.8zM291.0 78.9h0.8v0.8h-0.8zM287.6 51.3h0.8v0.8h-0.8zM292.7 76.5h0.8v0.8h-0.8zM293.3 54.5h0.8v0.8h-0.8zM295.3 73.9h0.8v0.8h-0.8zM293.5 55.9h0.8v0.8h-0.8zM290.5 52.2h0.8v0.8h-0.8zM278.3 73.8h0.8v0.8h-0.8zM279.7 79.4h0.8v0.8h-0.8zM292.6 79.8h0.8v0.8h-0.8zM290.6 79.1h0.8v0.8h-0.8zM276.9 67.5h0.8v0.8h-0.8zM278.9 58.3h0.8v0.8h-0.8zM278.6 73.1h0.8v0.8h-0.8zM279.0 79.0h0.8v0.8h-0.8zM282.9 51.1h0.8v0.8h-0.8zM276.5 64.4h0.8v0.8h-0.8zM295.8 71.3h0.8v0.8h-0.8zM294.0 57.1h0.8v0.8h-0.8zM289.7 49.4h0.8v0.8h-0.8zM279.2 75.4h0.8v0.8h-0.8zM280.4 54.9h0.8v0.8h-0.8zM295.3 71.9h0.8v0.8h-0.8zM291.3 78.7h0.8v0.8h-0.8zM281.7 78.3h0.8v0.8h-0.8zM291.7 77.8h0.8v0.8h-0.8zM293.8 74.8h0.8v0.8h-0.8zM292.9 55.5h0.8v0.8h-0.8zM279.4 56.0h0.8v0.8h-0.8zM281.0 78.6h0.8v0.8h-0.8zM279.8 78.4h0.8v0.8h-0.8zM296.7 65.3h0.8v0.8h-0.8zM277.3 69.2h0.8v0.8h-0.8zM293.7 74.7h0.8v0.8h-0.8zM281.5 78.3h0.8v0.8h-0.8zM292.1 80.6h0.8v0.8h-0.8zM296.4 68.3h0.8v0.8h-0.8zM292.1 78.0h0.8v0.8h-0.8zM276.8 61.6h0.8v0.8h-0.8zM295.6 64.0h0.8v0.8h-0.8zM292.5 54.7h0.8v0.8h-0.8zM280.0 77.6h0.8v0.8h-0.8zM291.1 78.8h0.8v0.8h-0.8zM288.3 50.0h0.8v0.8h-0.8zM282.0 79.1h0.8v0.8h-0.8zM297.1 64.4h0.8v0.8h-0.8zM292.3 53.7h0.8v0.8h-0.8zM285.8 49.0h0.8v0.8h-0.8zM287.9 81.7h0.8v0.8h-0.8zM295.4 68.7h0.8v0.8h-0.8zM295.5 68.6h0.8v0.8h-0.8zM283.1 51.4h0.8v0.8h-0.8zM297.1 61.2h0.8v0.8h-0.8zM296.2 64.8h0.8v0.8h-0.8zM295.5 61.8h0.8v0.8h-0.8zM287.9 81.1h0.8v0.8h-0.8zM289.6 80.2h0.8v0.8h-0.8zM294.8 56.4h0.8v0.8h-0.8zM292.0 52.0h0.8v0.8h-0.8zM289.3 51.9h0.8v0.8h-0.8zM295.2 74.2h0.8v0.8h-0.8zM288.7 49.2h0.8v0.8h-0.8zM286.5 50.6h0.8v0.8h-0.8zM288.7 51.8h0.8v0.8h-0.8zM281.7 79.6h0.8v0.8h-0.8zM277.5 77.1h0.8v0.8h-0.8zM278.1 75.7h0.8v0.8h-0.8zM291.1 79.4h0.8v0.8h-0.8zM293.6 77.7h0.8v0.8h-0.8zM290.2 50.0h0.8v0.8h-0.8zM292.7 79.0h0.8v0.8h-0.8zM280.3 50.9h0.8v0.8h-0.8zM280.9 78.3h0.8v0.8h-0.8zM295.6 67.3h0.8v0.8h-0.8zM296.0 63.2h0.8v0.8h-0.8zM295.5 59.5h0.8v0.8h-0.8zM277.2 72.6h0.8v0.8h-0.8zM289.0 82.0h0.8v0.8h-0.8zM286.4 80.8h0.8v0.8h-0.8zM278.2 58.0h0.8v0.8h-0.8zM285.9 81.1h0.8v0.8h-0.8zM294.3 58.0h0.8v0.8h-0.8zM280.3 79.0h0.8v0.8h-0.8zM294.2 57.5h0.8v0.8h-0.8zM277.8 73.6h0.8v0.8h-0.8zM277.2 63.0h0.8v0.8h-0.8zM276.6 63.6h0.8v0.8h-0.8zM290.2 79.4h0.8v0.8h-0.8zM295.7 66.4h0.8v0.8h-0.8zM277.1 68.5h0.8v0.8h-0.8zM285.0 50.5h0.8v0.8h-0.8zM277.3 64.3h0.8v0.8h-0.8zM278.0 61.0h0.8v0.8h-0.8zM277.8 60.4h0.8v0.8h-0.8zM286.6 80.9h0.8v0.8h-0.8zM278.1 60.4h0.8v0.8h-0.8zM276.2 72.2h0.8v0.8h-0.8zM278.8 55.5h0.8v0.8h-0.8zM283.3 52.4h0.8v0.8h-0.8zM276.9 70.8h0.8v0.8h-0.8zM295.1 60.7h0.8v0.8h-0.8zM283.2 49.9h0.8v0.8h-0.8zM285.9 82.9h0.8v0.8h-0.8zM276.6 59.8h0.8v0.8h-0.8zM292.8 77.7h0.8v0.8h-0.8zM293.2 76.4h0.8v0.8h-0.8zM287.0 80.7h0.8v0.8h-0.8zM295.3 73.0h0.8v0.8h-0.8zM294.8 55.9h0.8v0.8h-0.8zM291.7 78.3h0.8v0.8h-0.8z" fill="#333" fill-opacity="0.55"/>
<path d="M311.4 71.1h0.8v0.8h-0.8zM307.4 74.8h0.8v0.8h-0.8zM298.6 67.5h0.8v0.8h-0.8zM311.7 69.2h0.8v0.8h-0.8zM315.2 70.7h0.8v0.8h-0.8zM282.6 63.7h0.8v0.8h-0.8zM294.2 59.5h0.8v0.8h-0.8zM304.0 70.2h0.8v0.8h-0.8zM316.8 66.6h0.8v0.8h-0.8zM302.1 75.6h0.8v0.8h-0.8zM314.3 65.6h0.8v0.8h-0.8zM324.1 68.1h0.8v0.8h-0.8zM320.1 70.1h0.8v0.8h-0.8zM299.7 64.2h0.8v0.8h-0.8zM303.4 87.0h0.8v0.8h-0.8zM297.0 81.7h0.8v0.8h-0.8zM321.7 69.6h0.8v0.8h-0.8zM319.0 80.7h0.8v0.8h-0.8zM301.2 68.7h0.8v0.8h-0.8zM319.1 74.2h0.8v0.8h-0.8zM331.8 74.8h0.8v0.8h-0.8zM290.5 71.7h0.8v0.8h-0.8zM290.1 76.8h0.8v0.8h-0.8zM313.9 69.4h0.8v0.8h-0.8zM293.9 77.7h0.8v0.8h-0.8zM300.3 79.7h0.8v0.8h-0.8zM292.7 70.3h0.8v0.8h-0.8zM298.2 65.5h0.8v0.8h-0.8zM339.3 82.6h0.8v0.8h-0.8zM297.1 77.0h0.8v0.8h-0.8zM282.4 79.9h0.8v0.8h-0.8zM318.7 69.9h0.8v0.8h-0.8zM300.6 73.6h0.8v0.8h-0.8zM310.8 69.8h0.8v0.8h-0.8zM294.4 70.4h0.8v0.8h-0.8zM299.7 77.0h0.8v0.8h-0.8zM306.2 73.5h0.8v0.8h-0.8zM284.1 69.6h0.8v0.8h-0.8zM300.1 68.8h0.8v0.8h-0.8zM303.6 70.2h0.8v0.8h-0.8zM285.9 78.0h0.8v0.8h-0.8zM316.7 68.8h0.8v0.8h-0.8zM313.0 66.2h0.8v0.8h-0.8zM289.3 70.8h0.8v0.8h-0.8zM324.8 71.5h0.8v0.8h-0.8zM285.9 73.6h0.8v0.8h-0.8zM298.0 67.6h0.8v0.8h-0.8zM309.7 61.1h0.8v0.8h-0.8zM282.7 63.0h0.8v0.8h-0.8zM319.0 72.8h0.8v0.8h-0.8zM297.7 67.9h0.8v0.8h-0.8zM313.7 80.1h0.8v0.8h-0.8zM296.3 73.9h0.8v0.8h-0.8zM335.3 76.1h0.8v0.8h-0.8zM301.4 74.4h0.8v0.8h-0.8zM306.9 76.5h0.8v0.8h-0.8zM310.1 69.2h0.8v0.8h-0.8zM304.1 74.7h0.8v0.8h-0.8zM297.0 72.8h0.8v0.8h-0.8zM294.1 80.1h0.8v0.8h-0.8z" fill="#333" fill-opacity="0.5"/>
<path d="M290.2 92.1h0.8v0.8h-0.8zM294.6 86.5h0.8v0.8h-0.8zM291.9 83.5h0.8v0.8h-0.8zM292.1 82.0h0.8v0.8h-0.8zM283.8 78.6h0.8v0.8h-0.8zM281.3 83.4h0.8v0.8h-0.8zM292.0 89.0h0.8v0.8h-0.8zM291.7 83.6h0.8v0.8h-0.8zM292.7 82.4h0.8v0.8h-0.8zM277.2 86.7h0.8v0.8h-0.8zM285.9 83.4h0.8v0.8h-0.8zM287.0 94.4h0.8v0.8h-0.8zM295.7 84.1h0.8v0.8h-0.8zM281.7 86.1h0.8v0.8h-0.8zM283.1 87.2h0.8v0.8h-0.8zM279.3 82.1h0.8v0.8h-0.8zM294.4 78.9h0.8v0.8h-0.8zM289.4 83.1h0.8v0.8h-0.8zM294.6 80.5h0.8v0.8h-0.8zM293.0 91.1h0.8v0.8h-0.8zM279.5 78.9h0.8v0.8h-0.8zM291.6 79.8h0.8v0.8h-0.8zM280.4 88.4h0.8v0.8h-0.8zM294.7 87.1h0.8v0.8h-0.8zM295.5 85.5h0.8v0.8h-0.8zM283.7 72.6h0.8v0.8h-0.8zM291.9 78.1h0.8v0.8h-0.8zM289.1 84.2h0.8v0.8h-0.8zM281.0 81.1h0.8v0.8h-0.8zM299.7 85.8h0.8v0.8h-0.8zM278.7 81.7h0.8v0.8h-0.8zM288.8 84.9h0.8v0.8h-0.8zM293.5 82.3h0.8v0.8h-0.8zM287.3 86.2h0.8v0.8h-0.8zM279.9 87.3h0.8v0.8h-0.8zM290.9 80.4h0.8v0.8h-0.8zM285.1 83.5h0.8v0.8h-0.8zM279.6 72.7h0.8v0.8h-0.8zM291.1 88.5h0.8v0.8h-0.8zM287.7 82.6h0.8v0.8h-0.8zM288.5 78.4h0.8v0.8h-0.8zM291.1 85.8h0.8v0.8h-0.8zM288.7 86.1h0.8v0.8h-0.8zM282.1 83.4h0.8v0.8h-0.8zM283.8 80.3h0.8v0.8h-0.8zM290.1 83.0h0.8v0.8h-0.8zM293.7 85.0h0.8v0.8h-0.8zM281.0 87.6h0.8v0.8h-0.8zM278.6 81.8h0.8v0.8h-0.8zM290.1 81.8h0.8v0.8h-0.8zM291.3 82.2h0.8v0.8h-0.8zM282.1 85.4h0.8v0.8h-0.8zM287.8 78.3h0.8v0.8h-0.8zM288.4 81.9h0.8v0.8h-0.8zM290.1 79.6h0.8v0.8h-0.8zM289.1 81.3h0.8v0.8h-0.8zM297.9 80.5h0.8v0.8h-0.8zM295.9 81.7h0.8v0.8h-0.8zM295.0 91.5h0.8v0.8h-0.8zM285.7 82.6h0.8v0.8h-0.8z" fill="#333" fill-opacity="0.6"/>
<path d="M292 52.5 C305 51 318 52.5 327 57.5 C318 62 305 66 292 70 Z" fill="#fff"/>
<path d="M290.0 52.5 C308.5 51.5 324.0 54.8 327.0 57.8 C324.0 60.8 308.5 68.0 290.0 70.0" fill="none" stroke="#777" stroke-width="0.55"/>
<path d="M291.0 54.5 C304.5 53.5 315.0 55.0 318.0 58.0 C315.0 61.0 304.5 65.0 291.0 67.0" fill="none" stroke="#888" stroke-width="0.5"/>
<path d="M291.0 56.0 C299.5 55.0 305.0 55.5 308.0 58.5 C305.0 61.5 299.5 63.0 291.0 65.0" fill="none" stroke="#888" stroke-width="0.5"/>
<path d="M291.0 57.5 C295.5 56.5 297.0 56.0 300.0 59.0 C297.0 62.0 295.5 61.0 291.0 63.0" fill="none" stroke="#888" stroke-width="0.5"/>
<defs><radialGradient id="e4" cx="0.425" cy="0.487" r="0.55"><stop offset="0" stop-color="#7a7a7a"/><stop offset="1" stop-color="#f0f0f0"/></radialGradient></defs>
<path d="M286.10 52.00 A10.00 13.60 0 0 1 296.10 65.60 A10.00 14.30 0 0 1 286.10 79.90 A7.40 14.30 0 0 1 278.70 65.60 A7.40 13.60 0 0 1 286.10 52.00 Z" fill="url(#e4)"/>
<path d="M286.10 52.00 A10.00 13.60 0 0 1 296.10 65.60 A10.00 14.30 0 0 1 286.10 79.90 A7.40 14.30 0 0 1 278.70 65.60 A7.40 13.60 0 0 1 286.10 52.00 Z" fill="none" stroke="#afafaf" stroke-width="0.5"/>
<path d="M286.10 54.44 A7.58 11.16 0 0 1 293.68 65.60 A7.58 11.73 0 0 1 286.10 77.33 A6.07 11.73 0 0 1 280.03 65.60 A6.07 11.16 0 0 1 286.10 54.44 Z" fill="none" stroke="#a0a0a0" stroke-width="0.5"/>
<path d="M286.10 55.97 A6.17 9.63 0 0 1 292.27 65.60 A6.17 10.13 0 0 1 286.10 75.73 A5.24 10.13 0 0 1 280.86 65.60 A5.24 9.63 0 0 1 286.10 55.97 Z" fill="none" stroke="#929292" stroke-width="0.5"/>
<path d="M286.10 57.27 A5.03 8.33 0 0 1 291.13 65.60 A5.03 8.76 0 0 1 286.10 74.36 A4.53 8.76 0 0 1 281.57 65.60 A4.53 8.33 0 0 1 286.10 57.27 Z" fill="none" stroke="#848484" stroke-width="0.5"/>
<path d="M286.10 58.45 A4.07 7.15 0 0 1 290.17 65.60 A4.07 7.52 0 0 1 286.10 73.12 A3.89 7.52 0 0 1 282.21 65.60 A3.89 7.15 0 0 1 286.10 58.45 Z" fill="none" stroke="#767676" stroke-width="0.5"/>
<path d="M286.10 59.53 A3.23 6.07 0 0 1 289.33 65.60 A3.23 6.38 0 0 1 286.10 71.98 A3.30 6.38 0 0 1 282.80 65.60 A3.30 6.07 0 0 1 286.10 59.53 Z" fill="none" stroke="#686868" stroke-width="0.5"/>
<path d="M286.10 60.56 A2.49 5.04 0 0 1 288.59 65.60 A2.49 5.30 0 0 1 286.10 70.90 A2.74 5.30 0 0 1 283.36 65.60 A2.74 5.04 0 0 1 286.10 60.56 Z" fill="none" stroke="#5a5a5a" stroke-width="0.5"/>
<path d="M286.10 61.54 A1.84 4.06 0 0 1 287.94 65.60 A1.84 4.27 0 0 1 286.10 69.87 A2.21 4.27 0 0 1 283.89 65.60 A2.21 4.06 0 0 1 286.10 61.54 Z" fill="none" stroke="#5a5a5a" stroke-width="0.5"/>
<path d="M286.10 62.47 A1.28 3.13 0 0 1 287.38 65.60 A1.28 3.29 0 0 1 286.10 68.89 A1.70 3.29 0 0 1 284.40 65.60 A1.70 3.13 0 0 1 286.10 62.47 Z" fill="none" stroke="#5a5a5a" stroke-width="0.5"/>
<path d="M286.10 63.37 A0.80 2.23 0 0 1 286.90 65.60 A0.80 2.35 0 0 1 286.10 67.95 A1.21 2.35 0 0 1 284.89 65.60 A1.21 2.23 0 0 1 286.10 63.37 Z" fill="none" stroke="#5a5a5a" stroke-width="0.5"/>
<ellipse cx="286.1" cy="65.5" rx="0.9" ry="1.1" fill="#fff"/>
<path d="M417.9 58.8h0.8v0.8h-0.8zM438.4 63.0h0.8v0.8h-0.8zM401.6 48.2h0.8v0.8h-0.8zM403.2 60.8h0.8v0.8h-0.8zM422.2 59.8h0.8v0.8h-0.8zM414.1 59.9h0.8v0.8h-0.8zM429.7 52.8h0.8v0.8h-0.8zM405.5 63.8h0.8v0.8h-0.8zM408.4 66.3h0.8v0.8h-0.8zM441.6 64.9h0.8v0.8h-0.8zM423.9 61.8h0.8v0.8h-0.8zM431.9 55.8h0.8v0.8h-0.8zM403.8 58.7h0.8v0.8h-0.8zM430.8 68.7h0.8v0.8h-0.8zM416.0 64.8h0.8v0.8h-0.8zM407.3 63.4h0.8v0.8h-0.8zM410.1 62.4h0.8v0.8h-0.8zM439.5 57.8h0.8v0.8h-0.8zM439.2 65.7h0.8v0.8h-0.8zM419.2 62.8h0.8v0.8h-0.8zM401.8 49.4h0.8v0.8h-0.8zM404.1 66.9h0.8v0.8h-0.8zM424.2 66.2h0.8v0.8h-0.8zM440.0 65.7h0.8v0.8h-0.8zM407.1 63.4h0.8v0.8h-0.8zM421.5 61.1h0.8v0.8h-0.8zM401.7 67.1h0.8v0.8h-0.8zM441.5 64.0h0.8v0.8h-0.8zM415.9 54.5h0.8v0.8h-0.8zM403.5 66.1h0.8v0.8h-0.8zM423.4 64.5h0.8v0.8h-0.8zM443.6 67.1h0.8v0.8h-0.8zM402.5 53.3h0.8v0.8h-0.8zM405.3 58.3h0.8v0.8h-0.8zM409.5 81.5h0.8v0.8h-0.8zM404.4 60.3h0.8v0.8h-0.8zM429.8 64.8h0.8v0.8h-0.8zM425.0 59.8h0.8v0.8h-0.8zM402.2 55.0h0.8v0.8h-0.8zM423.9 67.1h0.8v0.8h-0.8zM433.4 65.2h0.8v0.8h-0.8zM438.3 63.5h0.8v0.8h-0.8zM423.6 55.7h0.8v0.8h-0.8zM445.2 62.5h0.8v0.8h-0.8zM423.1 70.8h0.8v0.8h-0.8zM412.0 62.2h0.8v0.8h-0.8zM416.5 62.4h0.8v0.8h-0.8zM411.8 67.1h0.8v0.8h-0.8zM403.4 59.1h0.8v0.8h-0.8zM433.9 59.2h0.8v0.8h-0.8zM401.9 63.1h0.8v0.8h-0.8zM419.4 51.0h0.8v0.8h-0.8zM430.0 61.1h0.8v0.8h-0.8zM416.1 70.3h0.8v0.8h-0.8zM408.1 66.8h0.8v0.8h-0.8zM413.8 59.7h0.8v0.8h-0.8zM438.1 55.8h0.8v0.8h-0.8zM406.0 67.4h0.8v0.8h-0.8zM437.2 60.9h0.8v0.8h-0.8zM444.6 62.6h0.8v0.8h-0.8zM406.0 77.3h0.8v0.8h-0.8zM424.7 55.7h0.8v0.8h-0.8zM401.6 64.8h0.8v0.8h-0.8zM414.5 62.5h0.8v0.8h-0.8zM425.0 66.0h0.8v0.8h-0.8zM405.0 59.8h0.8v0.8h-0.8zM422.5 62.5h0.8v0.8h-0.8zM422.2 62.8h0.8v0.8h-0.8zM429.3 66.4h0.8v0.8h-0.8zM429.7 63.4h0.8v0.8h-0.8zM432.9 52.8h0.8v0.8h-0.8zM405.9 69.3h0.8v0.8h-0.8zM430.3 62.5h0.8v0.8h-0.8zM419.3 49.6h0.8v0.8h-0.8zM403.7 68.0h0.8v0.8h-0.8zM406.1 63.2h0.8v0.8h-0.8zM425.9 69.2h0.8v0.8h-0.8zM407.8 66.2h0.8v0.8h-0.8zM401.7 64.0h0.8v0.8h-0.8zM422.4 66.5h0.8v0.8h-0.8zM414.5 64.0h0.8v0.8h-0.8zM442.9 66.1h0.8v0.8h-0.8zM421.3 62.3h0.8v0.8h-0.8zM445.6 60.6h0.8v0.8h-0.8zM439.7 55.0h0.8v0.8h-0.8zM421.3 59.1h0.8v0.8h-0.8zM440.8 67.7h0.8v0.8h-0.8zM421.6 64.2h0.8v0.8h-0.8zM410.8 59.5h0.8v0.8h-0.8zM403.8 51.6h0.8v0.8h-0.8zM429.5 55.0h0.8v0.8h-0.8zM426.2 62.8h0.8v0.8h-0.8zM402.5 56.4h0.8v0.8h-0.8zM439.1 58.0h0.8v0.8h-0.8zM408.1 65.2h0.8v0.8h-0.8zM425.7 53.1h0.8v0.8h-0.8zM439.0 67.8h0.8v0.8h-0.8zM425.1 62.7h0.8v0.8h-0.8zM428.4 59.3h0.8v0.8h-0.8zM406.6 62.2h0.8v0.8h-0.8zM424.8 61.8h0.8v0.8h-0.8zM413.1 62.9h0.8v0.8h-0.8zM418.2 59.7h0.8v0.8h-0.8zM433.5 60.7h0.8v0.8h-0.8zM412.2 61.2h0.8v0.8h-0.8zM443.4 60.4h0.8v0.8h-0.8zM423.9 76.9h0.8v0.8h-0.8zM436.6 58.7h0.8v0.8h-0.8zM403.9 58.5h0.8v0.8h-0.8zM433.7 64.1h0.8v0.8h-0.8zM406.7 61.5h0.8v0.8h-0.8zM404.3 63.8h0.8v0.8h-0.8zM442.5 65.8h0.8v0.8h-0.8zM431.6 60.2h0.8v0.8h-0.8zM418.1 55.6h0.8v0.8h-0.8zM426.1 60.3h0.8v0.8h-0.8zM408.3 60.7h0.8v0.8h-0.8zM406.9 68.1h0.8v0.8h-0.8zM416.8 62.1h0.8v0.8h-0.8zM403.8 60.6h0.8v0.8h-0.8zM434.8 64.7h0.8v0.8h-0.8zM437.6 62.4h0.8v0.8h-0.8zM424.7 61.3h0.8v0.8h-0.8zM409.8 63.0h0.8v0.8h-0.8zM410.8 65.9h0.8v0.8h-0.8zM434.1 47.4h0.8v0.8h-0.8zM440.4 70.5h0.8v0.8h-0.8zM441.4 56.6h0.8v0.8h-0.8zM444.1 64.7h0.8v0.8h-0.8zM408.7 63.9h0.8v0.8h-0.8zM424.6 55.9h0.8v0.8h-0.8zM436.8 61.3h0.8v0.8h-0.8zM415.0 62.2h0.8v0.8h-0.8zM417.8 65.4h0.8v0.8h-0.8zM424.9 55.6h0.8v0.8h-0.8zM406.5 58.4h0.8v0.8h-0.8zM415.1 59.4h0.8v0.8h-0.8zM421.7 64.0h0.8v0.8h-0.8zM406.6 58.9h0.8v0.8h-0.8zM404.9 52.6h0.8v0.8h-0.8zM425.7 57.9h0.8v0.8h-0.8zM424.7 66.1h0.8v0.8h-0.8zM432.7 67.4h0.8v0.8h-0.8zM407.4 54.6h0.8v0.8h-0.8zM421.6 60.4h0.8v0.8h-0.8zM422.1 61.9h0.8v0.8h-0.8zM418.2 64.3h0.8v0.8h-0.8zM436.6 57.6h0.8v0.8h-0.8zM420.2 68.2h0.8v0.8h-0.8zM410.2 66.4h0.8v0.8h-0.8zM421.2 61.7h0.8v0.8h-0.8zM441.5 61.3h0.8v0.8h-0.8zM402.2 63.1h0.8v0.8h-0.8zM403.6 63.9h0.8v0.8h-0.8zM436.1 68.6h0.8v0.8h-0.8zM414.8 60.8h0.8v0.8h-0.8zM439.7 58.2h0.8v0.8h-0.8zM429.0 60.9h0.8v0.8h-0.8zM413.2 60.4h0.8v0.8h-0.8zM414.4 66.0h0.8v0.8h-0.8zM406.4 52.0h0.8v0.8h-0.8zM423.0 53.8h0.8v0.8h-0.8zM401.6 60.5h0.8v0.8h-0.8zM418.6 60.0h0.8v0.8h-0.8zM438.4 56.0h0.8v0.8h-0.8zM432.4 50.6h0.8v0.8h-0.8zM409.7 64.9h0.8v0.8h-0.8zM428.4 65.6h0.8v0.8h-0.8zM408.2 56.3h0.8v0.8h-0.8zM412.8 69.3h0.8v0.8h-0.8zM424.5 48.9h0.8v0.8h-0.8zM401.9 57.1h0.8v0.8h-0.8zM406.5 62.6h0.8v0.8h-0.8zM403.6 52.3h0.8v0.8h-0.8zM404.8 62.8h0.8v0.8h-0.8zM440.4 67.2h0.8v0.8h-0.8zM407.6 63.6h0.8v0.8h-0.8zM416.0 69.3h0.8v0.8h-0.8zM437.3 73.2h0.8v0.8h-0.8zM430.3 60.9h0.8v0.8h-0.8zM419.4 70.4h0.8v0.8h-0.8zM415.0 64.9h0.8v0.8h-0.8zM417.9 51.2h0.8v0.8h-0.8zM422.2 50.5h0.8v0.8h-0.8zM441.3 63.1h0.8v0.8h-0.8zM413.1 60.5h0.8v0.8h-0.8zM439.7 62.5h0.8v0.8h-0.8zM421.1 67.3h0.8v0.8h-0.8zM428.0 58.2h0.8v0.8h-0.8zM444.6 61.8h0.8v0.8h-0.8zM437.7 62.6h0.8v0.8h-0.8zM423.5 64.2h0.8v0.8h-0.8zM410.1 71.4h0.8v0.8h-0.8zM404.6 60.5h0.8v0.8h-0.8zM415.3 62.5h0.8v0.8h-0.8zM433.7 47.9h0.8v0.8h-0.8zM402.2 65.4h0.8v0.8h-0.8zM406.1 65.8h0.8v0.8h-0.8zM407.0 67.0h0.8v0.8h-0.8zM427.8 53.9h0.8v0.8h-0.8zM437.2 60.0h0.8v0.8h-0.8zM434.2 63.7h0.8v0.8h-0.8zM414.1 59.5h0.8v0.8h-0.8zM443.7 57.7h0.8v0.8h-0.8zM418.7 63.8h0.8v0.8h-0.8zM406.3 65.9h0.8v0.8h-0.8zM403.6 54.1h0.8v0.8h-0.8zM443.9 57.2h0.8v0.8h-0.8zM425.0 60.5h0.8v0.8h-0.8zM443.1 60.5h0.8v0.8h-0.8zM406.9 61.8h0.8v0.8h-0.8zM402.6 55.9h0.8v0.8h-0.8zM437.6 60.2h0.8v0.8h-0.8zM407.2 67.5h0.8v0.8h-0.8zM404.4 61.6h0.8v0.8h-0.8zM411.2 61.6h0.8v0.8h-0.8zM426.2 64.4h0.8v0.8h-0.8zM442.3 56.0h0.8v0.8h-0.8zM411.7 67.0h0.8v0.8h-0.8zM441.1 59.8h0.8v0.8h-0.8zM431.7 60.6h0.8v0.8h-0.8zM407.3 62.1h0.8v0.8h-0.8zM437.0 61.3h0.8v0.8h-0.8zM430.0 56.7h0.8v0.8h-0.8zM429.8 66.3h0.8v0.8h-0.8zM403.0 58.4h0.8v0.8h-0.8zM442.7 53.3h0.8v0.8h-0.8zM402.6 54.6h0.8v0.8h-0.8zM437.3 58.3h0.8v0.8h-0.8zM413.5 54.6h0.8v0.8h-0.8zM412.8 50.6h0.8v0.8h-0.8zM420.3 62.2h0.8v0.8h-0.8zM444.5 60.2h0.8v0.8h-0.8zM411.3 56.4h0.8v0.8h-0.8zM434.7 62.1h0.8v0.8h-0.8zM421.1 61.0h0.8v0.8h-0.8zM439.2 58.6h0.8v0.8h-0.8zM435.9 59.4h0.8v0.8h-0.8zM409.2 57.3h0.8v0.8h-0.8zM417.4 73.8h0.8v0.8h-0.8zM415.4 66.6h0.8v0.8h-0.8zM443.3 64.0h0.8v0.8h-0.8zM434.7 67.9h0.8v0.8h-0.8zM426.6 60.1h0.8v0.8h-0.8zM416.6 61.5h0.8v0.8h-0.8zM414.6 75.5h0.8v0.8h-0.8zM443.5 56.4h0.8v0.8h-0.8zM444.9 61.6h0.8v0.8h-0.8zM410.5 62.2h0.8v0.8h-0.8zM401.6 66.8h0.8v0.8h-0.8zM407.0 66.2h0.8v0.8h-0.8zM424.9 57.8h0.8v0.8h-0.8zM444.2 63.7h0.8v0.8h-0.8zM406.5 66.3h0.8v0.8h-0.8zM427.6 56.5h0.8v0.8h-0.8zM405.1 60.6h0.8v0.8h-0.8zM406.9 48.7h0.8v0.8h-0.8zM418.3 57.4h0.8v0.8h-0.8zM432.2 56.1h0.8v0.8h-0.8zM426.6 57.8h0.8v0.8h-0.8z" fill="#111" fill-opacity="0.6"/>
<path d="M423.4 57.4h0.8v0.8h-0.8zM406.4 72.7h0.8v0.8h-0.8zM437.7 74.2h0.8v0.8h-0.8zM404.8 57.4h0.8v0.8h-0.8zM420.7 64.9h0.8v0.8h-0.8zM446.8 74.6h0.8v0.8h-0.8zM449.8 87.0h0.8v0.8h-0.8zM425.1 72.9h0.8v0.8h-0.8zM413.7 65.3h0.8v0.8h-0.8zM417.4 80.7h0.8v0.8h-0.8zM429.9 65.4h0.8v0.8h-0.8zM434.9 63.7h0.8v0.8h-0.8zM448.8 81.5h0.8v0.8h-0.8zM401.6 65.9h0.8v0.8h-0.8zM401.0 80.7h0.8v0.8h-0.8zM410.2 82.9h0.8v0.8h-0.8zM413.0 73.9h0.8v0.8h-0.8zM422.2 63.4h0.8v0.8h-0.8zM416.3 78.5h0.8v0.8h-0.8zM439.6 73.0h0.8v0.8h-0.8zM404.6 69.4h0.8v0.8h-0.8zM401.5 76.2h0.8v0.8h-0.8zM419.4 73.3h0.8v0.8h-0.8zM421.3 56.2h0.8v0.8h-0.8zM440.4 75.3h0.8v0.8h-0.8zM413.4 76.9h0.8v0.8h-0.8zM425.0 79.8h0.8v0.8h-0.8zM402.9 77.1h0.8v0.8h-0.8zM405.0 75.0h0.8v0.8h-0.8zM416.2 48.4h0.8v0.8h-0.8zM415.3 68.2h0.8v0.8h-0.8zM425.9 75.2h0.8v0.8h-0.8zM405.4 74.6h0.8v0.8h-0.8zM404.9 74.1h0.8v0.8h-0.8zM427.7 74.8h0.8v0.8h-0.8zM418.5 54.4h0.8v0.8h-0.8zM412.2 67.2h0.8v0.8h-0.8zM431.5 68.4h0.8v0.8h-0.8zM411.5 66.5h0.8v0.8h-0.8zM416.9 71.2h0.8v0.8h-0.8zM424.0 54.1h0.8v0.8h-0.8zM429.2 79.7h0.8v0.8h-0.8zM407.7 50.1h0.8v0.8h-0.8zM420.6 64.9h0.8v0.8h-0.8zM425.1 77.6h0.8v0.8h-0.8zM417.6 71.9h0.8v0.8h-0.8zM414.6 58.0h0.8v0.8h-0.8zM421.6 73.6h0.8v0.8h-0.8zM419.0 72.8h0.8v0.8h-0.8zM447.9 77.2h0.8v0.8h-0.8zM415.3 68.6h0.8v0.8h-0.8zM421.4 68.1h0.8v0.8h-0.8zM401.8 71.2h0.8v0.8h-0.8zM417.2 70.3h0.8v0.8h-0.8zM449.5 57.0h0.8v0.8h-0.8zM416.4 68.9h0.8v0.8h-0.8zM419.6 54.7h0.8v0.8h-0.8zM443.1 73.1h0.8v0.8h-0.8zM430.6 56.2h0.8v0.8h-0.8zM443.9 74.5h0.8v0.8h-0.8zM404.6 68.9h0.8v0.8h-0.8zM430.0 80.7h0.8v0.8h-0.8zM427.4 53.5h0.8v0.8h-0.8zM418.5 59.3h0.8v0.8h-0.8zM437.3 77.9h0.8v0.8h-0.8zM440.6 65.6h0.8v0.8h-0.8zM431.8 70.2h0.8v0.8h-0.8zM444.1 66.1h0.8v0.8h-0.8zM409.5 62.5h0.8v0.8h-0.8zM429.0 75.8h0.8v0.8h-0.8zM444.6 78.2h0.8v0.8h-0.8zM405.9 66.0h0.8v0.8h-0.8zM406.0 70.7h0.8v0.8h-0.8zM442.5 90.1h0.8v0.8h-0.8zM417.7 67.5h0.8v0.8h-0.8zM420.7 54.4h0.8v0.8h-0.8zM415.7 62.4h0.8v0.8h-0.8zM408.7 58.9h0.8v0.8h-0.8zM412.9 59.7h0.8v0.8h-0.8zM406.5 59.7h0.8v0.8h-0.8zM425.5 80.9h0.8v0.8h-0.8zM427.9 55.0h0.8v0.8h-0.8zM402.2 64.9h0.8v0.8h-0.8zM401.9 69.6h0.8v0.8h-0.8zM408.2 54.5h0.8v0.8h-0.8zM426.6 72.1h0.8v0.8h-0.8zM409.3 64.6h0.8v0.8h-0.8zM420.0 58.2h0.8v0.8h-0.8zM408.6 60.9h0.8v0.8h-0.8zM432.3 71.0h0.8v0.8h-0.8z" fill="#222" fill-opacity="0.6"/>
<path d="M383.4 76.5h0.8v0.8h-0.8zM384.4 74.0h0.8v0.8h-0.8zM384.5 68.5h0.8v0.8h-0.8zM384.7 68.0h0.8v0.8h-0.8zM387.4 55.5h0.8v0.8h-0.8zM390.2 88.4h0.8v0.8h-0.8zM400.2 80.4h0.8v0.8h-0.8zM402.1 75.3h0.8v0.8h-0.8zM402.3 67.0h0.8v0.8h-0.8zM386.8 56.4h0.8v0.8h-0.8zM398.0 87.7h0.8v0.8h-0.8zM400.5 76.5h0.8v0.8h-0.8zM395.9 87.2h0.8v0.8h-0.8zM385.0 73.9h0.8v0.8h-0.8zM385.0 77.0h0.8v0.8h-0.8zM387.3 53.1h0.8v0.8h-0.8zM384.4 69.5h0.8v0.8h-0.8zM391.4 90.3h0.8v0.8h-0.8zM402.8 69.2h0.8v0.8h-0.8zM390.9 51.0h0.8v0.8h-0.8zM389.8 87.1h0.8v0.8h-0.8zM400.9 78.4h0.8v0.8h-0.8zM394.0 47.0h0.8v0.8h-0.8zM386.1 83.6h0.8v0.8h-0.8zM400.7 64.5h0.8v0.8h-0.8zM395.0 88.0h0.8v0.8h-0.8zM402.0 56.0h0.8v0.8h-0.8zM386.2 81.6h0.8v0.8h-0.8zM401.2 79.1h0.8v0.8h-0.8zM391.9 91.2h0.8v0.8h-0.8zM400.9 80.9h0.8v0.8h-0.8zM393.5 45.4h0.8v0.8h-0.8zM398.9 82.3h0.8v0.8h-0.8zM400.9 76.9h0.8v0.8h-0.8zM395.5 50.1h0.8v0.8h-0.8zM384.4 76.5h0.8v0.8h-0.8zM395.9 87.3h0.8v0.8h-0.8zM387.7 53.6h0.8v0.8h-0.8zM399.4 83.1h0.8v0.8h-0.8zM392.0 89.1h0.8v0.8h-0.8zM401.1 65.9h0.8v0.8h-0.8zM399.6 55.7h0.8v0.8h-0.8zM395.3 91.3h0.8v0.8h-0.8zM387.2 52.6h0.8v0.8h-0.8zM400.0 81.6h0.8v0.8h-0.8zM392.6 88.6h0.8v0.8h-0.8zM394.2 49.8h0.8v0.8h-0.8zM400.8 78.7h0.8v0.8h-0.8zM400.3 80.5h0.8v0.8h-0.8zM386.3 57.7h0.8v0.8h-0.8zM385.9 87.2h0.8v0.8h-0.8zM384.3 71.6h0.8v0.8h-0.8zM385.5 60.5h0.8v0.8h-0.8zM397.8 86.0h0.8v0.8h-0.8zM400.0 58.8h0.8v0.8h-0.8zM396.2 88.6h0.8v0.8h-0.8zM392.4 49.1h0.8v0.8h-0.8zM400.8 63.5h0.8v0.8h-0.8zM399.5 55.4h0.8v0.8h-0.8zM399.8 81.9h0.8v0.8h-0.8zM401.4 74.5h0.8v0.8h-0.8zM390.7 50.9h0.8v0.8h-0.8zM392.6 89.9h0.8v0.8h-0.8zM390.5 90.4h0.8v0.8h-0.8zM396.6 86.6h0.8v0.8h-0.8zM394.1 89.2h0.8v0.8h-0.8zM384.8 61.9h0.8v0.8h-0.8zM391.3 90.6h0.8v0.8h-0.8zM400.0 60.0h0.8v0.8h-0.8zM392.0 88.8h0.8v0.8h-0.8zM384.9 76.3h0.8v0.8h-0.8zM387.4 83.8h0.8v0.8h-0.8zM385.3 60.5h0.8v0.8h-0.8zM399.7 56.5h0.8v0.8h-0.8zM401.7 66.9h0.8v0.8h-0.8zM385.0 58.4h0.8v0.8h-0.8zM398.2 84.5h0.8v0.8h-0.8zM399.8 59.3h0.8v0.8h-0.8zM390.5 51.0h0.8v0.8h-0.8zM387.7 55.1h0.8v0.8h-0.8z" fill="#222" fill-opacity="0.6"/>
<path d="M400.5 56 C403 58 405 60 406 61.5 C405 63 403 65 400.5 67 Z" fill="#fff"/>
<defs><radialGradient id="g5" cx="0.628" cy="0.566" r="0.5"><stop offset="0" stop-color="#4a4a4a"/><stop offset="1" stop-color="#c8c8c8"/></radialGradient></defs>
<ellipse cx="393.30" cy="69.50" rx="7.80" ry="18.80" fill="url(#g5)"/>
<ellipse cx="393.30" cy="69.50" rx="7.80" ry="18.80" fill="none" stroke="#555" stroke-width="0.55" stroke-opacity="1.0"/>
<ellipse cx="392.98" cy="69.10" rx="6.66" ry="16.06" fill="none" stroke="#555" stroke-width="0.55" stroke-opacity="1.0"/>
<ellipse cx="392.75" cy="68.81" rx="5.82" ry="14.03" fill="none" stroke="#555" stroke-width="0.55" stroke-opacity="1.0"/>
<ellipse cx="392.54" cy="68.55" rx="5.06" ry="12.20" fill="none" stroke="#555" stroke-width="0.55" stroke-opacity="1.0"/>
<ellipse cx="392.34" cy="68.30" rx="4.35" ry="10.49" fill="none" stroke="#555" stroke-width="0.55" stroke-opacity="1.0"/>
<ellipse cx="392.15" cy="68.06" rx="3.68" ry="8.87" fill="none" stroke="#555" stroke-width="0.55" stroke-opacity="1.0"/>
<ellipse cx="391.97" cy="67.84" rx="3.03" ry="7.31" fill="none" stroke="#555" stroke-width="0.55" stroke-opacity="1.0"/>
<ellipse cx="391.80" cy="67.62" rx="2.41" ry="5.80" fill="none" stroke="#555" stroke-width="0.55" stroke-opacity="1.0"/>
<ellipse cx="391.63" cy="67.41" rx="1.80" ry="4.33" fill="none" stroke="#555" stroke-width="0.55" stroke-opacity="1.0"/>
<ellipse cx="391.46" cy="67.20" rx="1.20" ry="2.90" fill="none" stroke="#555" stroke-width="0.55" stroke-opacity="1.0"/>
<ellipse cx="391" cy="66.5" rx="1.1" ry="8.5" fill="#555"/>
<ellipse cx="391" cy="85" rx="2.4" ry="1.8" fill="#fff" stroke="#666" stroke-width="0.5"/>
<ellipse cx="391" cy="89.5" rx="1.5" ry="1.1" fill="#222"/>
<defs><linearGradient id="w6" x1="0" y1="0" x2="1" y2="0"><stop offset="0" stop-color="#000" stop-opacity="0.6"/><stop offset="0.45" stop-color="#000" stop-opacity="0.270"/><stop offset="1" stop-color="#000" stop-opacity="0"/></linearGradient></defs>
<path d="M506 51 Q522.0 53.5 538 60 Q522.0 69.0 506 74 Z" fill="url(#w6)"/>
<path d="M521.9 56.8h0.8v0.8h-0.8zM508.9 54.8h0.8v0.8h-0.8zM507.0 58.2h0.8v0.8h-0.8zM544.1 64.0h0.8v0.8h-0.8zM535.2 55.6h0.8v0.8h-0.8zM533.2 57.0h0.8v0.8h-0.8zM509.0 58.2h0.8v0.8h-0.8zM551.8 62.2h0.8v0.8h-0.8zM507.4 61.8h0.8v0.8h-0.8zM535.0 59.1h0.8v0.8h-0.8zM515.3 52.9h0.8v0.8h-0.8zM507.1 66.4h0.8v0.8h-0.8zM507.5 66.1h0.8v0.8h-0.8zM507.9 58.0h0.8v0.8h-0.8zM558.8 63.5h0.8v0.8h-0.8zM519.3 60.2h0.8v0.8h-0.8zM508.8 58.3h0.8v0.8h-0.8zM509.4 67.5h0.8v0.8h-0.8zM535.7 64.1h0.8v0.8h-0.8zM544.5 62.0h0.8v0.8h-0.8zM518.2 55.0h0.8v0.8h-0.8zM522.0 64.4h0.8v0.8h-0.8zM517.4 69.1h0.8v0.8h-0.8zM557.1 62.7h0.8v0.8h-0.8zM557.9 58.3h0.8v0.8h-0.8zM516.5 56.9h0.8v0.8h-0.8zM535.2 59.8h0.8v0.8h-0.8zM511.5 58.8h0.8v0.8h-0.8zM516.5 51.7h0.8v0.8h-0.8zM523.3 60.3h0.8v0.8h-0.8zM507.1 63.3h0.8v0.8h-0.8zM524.4 56.1h0.8v0.8h-0.8zM511.1 56.5h0.8v0.8h-0.8zM541.1 63.3h0.8v0.8h-0.8zM508.1 58.0h0.8v0.8h-0.8zM535.6 60.0h0.8v0.8h-0.8zM507.2 60.2h0.8v0.8h-0.8zM531.6 65.7h0.8v0.8h-0.8zM507.3 57.7h0.8v0.8h-0.8zM513.2 61.9h0.8v0.8h-0.8zM522.0 66.7h0.8v0.8h-0.8zM556.1 59.4h0.8v0.8h-0.8zM509.5 65.2h0.8v0.8h-0.8zM510.1 58.8h0.8v0.8h-0.8zM539.4 61.5h0.8v0.8h-0.8zM512.7 60.7h0.8v0.8h-0.8zM541.0 58.8h0.8v0.8h-0.8zM507.0 64.1h0.8v0.8h-0.8zM507.2 50.5h0.8v0.8h-0.8zM559.9 50.3h0.8v0.8h-0.8zM523.5 65.5h0.8v0.8h-0.8zM542.3 61.7h0.8v0.8h-0.8zM545.8 58.5h0.8v0.8h-0.8zM524.9 58.1h0.8v0.8h-0.8zM522.1 58.2h0.8v0.8h-0.8zM555.3 58.0h0.8v0.8h-0.8zM550.8 63.4h0.8v0.8h-0.8zM549.1 64.8h0.8v0.8h-0.8zM513.0 66.7h0.8v0.8h-0.8zM535.6 58.8h0.8v0.8h-0.8zM536.2 62.0h0.8v0.8h-0.8zM512.2 65.0h0.8v0.8h-0.8zM534.7 60.0h0.8v0.8h-0.8zM550.2 58.3h0.8v0.8h-0.8zM519.1 61.3h0.8v0.8h-0.8zM558.2 66.9h0.8v0.8h-0.8zM526.8 52.7h0.8v0.8h-0.8zM556.6 52.3h0.8v0.8h-0.8zM540.3 54.8h0.8v0.8h-0.8zM551.4 64.6h0.8v0.8h-0.8zM542.4 56.7h0.8v0.8h-0.8zM516.7 58.7h0.8v0.8h-0.8zM538.5 60.1h0.8v0.8h-0.8zM536.6 60.6h0.8v0.8h-0.8zM551.6 64.4h0.8v0.8h-0.8zM552.2 49.9h0.8v0.8h-0.8zM525.3 62.2h0.8v0.8h-0.8zM508.0 56.3h0.8v0.8h-0.8zM516.0 56.5h0.8v0.8h-0.8zM535.1 72.4h0.8v0.8h-0.8zM525.7 59.1h0.8v0.8h-0.8zM525.3 59.1h0.8v0.8h-0.8zM535.9 57.9h0.8v0.8h-0.8zM518.5 63.4h0.8v0.8h-0.8zM514.8 59.9h0.8v0.8h-0.8zM507.9 58.5h0.8v0.8h-0.8zM514.3 58.1h0.8v0.8h-0.8zM533.1 52.7h0.8v0.8h-0.8zM554.3 60.1h0.8v0.8h-0.8zM522.6 61.9h0.8v0.8h-0.8zM520.3 64.3h0.8v0.8h-0.8zM515.5 67.8h0.8v0.8h-0.8zM511.6 55.3h0.8v0.8h-0.8zM507.0 71.6h0.8v0.8h-0.8zM516.3 60.4h0.8v0.8h-0.8zM519.7 64.4h0.8v0.8h-0.8zM511.1 66.2h0.8v0.8h-0.8zM535.8 58.0h0.8v0.8h-0.8zM509.4 54.3h0.8v0.8h-0.8zM546.6 62.6h0.8v0.8h-0.8zM512.0 51.4h0.8v0.8h-0.8zM545.7 63.6h0.8v0.8h-0.8zM511.3 52.7h0.8v0.8h-0.8zM517.9 59.0h0.8v0.8h-0.8zM534.1 53.7h0.8v0.8h-0.8zM526.4 49.1h0.8v0.8h-0.8zM534.6 56.0h0.8v0.8h-0.8zM514.7 67.7h0.8v0.8h-0.8zM523.3 58.2h0.8v0.8h-0.8zM508.8 64.3h0.8v0.8h-0.8zM511.2 57.3h0.8v0.8h-0.8zM507.3 60.0h0.8v0.8h-0.8zM543.5 58.2h0.8v0.8h-0.8zM529.2 72.9h0.8v0.8h-0.8zM517.6 68.6h0.8v0.8h-0.8zM514.7 53.3h0.8v0.8h-0.8zM508.6 54.9h0.8v0.8h-0.8zM529.8 53.2h0.8v0.8h-0.8zM542.1 54.7h0.8v0.8h-0.8zM512.5 64.7h0.8v0.8h-0.8zM518.5 57.3h0.8v0.8h-0.8zM518.1 64.5h0.8v0.8h-0.8zM543.8 62.7h0.8v0.8h-0.8zM512.2 64.0h0.8v0.8h-0.8zM557.4 59.2h0.8v0.8h-0.8zM546.0 60.7h0.8v0.8h-0.8zM549.1 63.2h0.8v0.8h-0.8zM538.4 56.5h0.8v0.8h-0.8zM514.1 67.6h0.8v0.8h-0.8zM545.9 69.2h0.8v0.8h-0.8zM510.8 61.8h0.8v0.8h-0.8zM514.2 60.2h0.8v0.8h-0.8zM507.0 62.4h0.8v0.8h-0.8zM537.0 63.8h0.8v0.8h-0.8zM513.7 62.2h0.8v0.8h-0.8zM514.3 64.0h0.8v0.8h-0.8zM548.2 59.0h0.8v0.8h-0.8zM534.9 59.5h0.8v0.8h-0.8zM525.4 55.0h0.8v0.8h-0.8zM532.6 63.0h0.8v0.8h-0.8zM543.3 53.4h0.8v0.8h-0.8zM521.5 60.8h0.8v0.8h-0.8zM531.4 56.9h0.8v0.8h-0.8zM524.2 64.4h0.8v0.8h-0.8zM537.0 58.9h0.8v0.8h-0.8zM522.8 72.5h0.8v0.8h-0.8zM547.6 56.1h0.8v0.8h-0.8zM534.7 48.7h0.8v0.8h-0.8zM519.5 55.2h0.8v0.8h-0.8zM539.8 65.0h0.8v0.8h-0.8zM546.3 62.3h0.8v0.8h-0.8zM508.2 62.3h0.8v0.8h-0.8zM507.8 61.6h0.8v0.8h-0.8zM512.0 61.2h0.8v0.8h-0.8zM508.3 58.3h0.8v0.8h-0.8zM556.9 54.1h0.8v0.8h-0.8zM556.5 60.7h0.8v0.8h-0.8zM507.1 48.8h0.8v0.8h-0.8zM511.3 66.1h0.8v0.8h-0.8zM510.6 58.4h0.8v0.8h-0.8zM540.0 55.1h0.8v0.8h-0.8zM514.5 63.9h0.8v0.8h-0.8zM511.7 66.9h0.8v0.8h-0.8zM555.8 64.9h0.8v0.8h-0.8zM558.8 62.2h0.8v0.8h-0.8zM516.4 49.2h0.8v0.8h-0.8zM513.8 67.1h0.8v0.8h-0.8zM533.8 57.7h0.8v0.8h-0.8zM507.0 61.8h0.8v0.8h-0.8zM538.1 67.0h0.8v0.8h-0.8zM545.3 61.2h0.8v0.8h-0.8zM517.3 56.4h0.8v0.8h-0.8zM548.2 67.2h0.8v0.8h-0.8zM510.3 60.6h0.8v0.8h-0.8zM530.8 56.2h0.8v0.8h-0.8zM511.4 59.9h0.8v0.8h-0.8zM517.5 59.0h0.8v0.8h-0.8zM525.6 59.3h0.8v0.8h-0.8zM555.8 60.9h0.8v0.8h-0.8zM519.1 57.1h0.8v0.8h-0.8zM508.1 60.4h0.8v0.8h-0.8zM509.7 53.9h0.8v0.8h-0.8zM526.1 55.4h0.8v0.8h-0.8zM517.2 57.2h0.8v0.8h-0.8zM514.2 50.2h0.8v0.8h-0.8zM515.1 74.9h0.8v0.8h-0.8zM523.4 57.9h0.8v0.8h-0.8zM518.2 61.8h0.8v0.8h-0.8zM510.6 58.9h0.8v0.8h-0.8zM515.9 65.4h0.8v0.8h-0.8zM554.5 59.6h0.8v0.8h-0.8zM533.0 65.5h0.8v0.8h-0.8zM518.0 53.7h0.8v0.8h-0.8zM507.6 60.3h0.8v0.8h-0.8zM533.9 64.2h0.8v0.8h-0.8zM544.0 63.4h0.8v0.8h-0.8zM559.1 59.4h0.8v0.8h-0.8zM520.0 58.2h0.8v0.8h-0.8zM513.2 63.0h0.8v0.8h-0.8zM510.3 57.9h0.8v0.8h-0.8zM531.7 56.5h0.8v0.8h-0.8zM522.2 55.8h0.8v0.8h-0.8zM556.4 48.6h0.8v0.8h-0.8zM517.8 64.1h0.8v0.8h-0.8zM521.4 55.8h0.8v0.8h-0.8zM539.6 67.5h0.8v0.8h-0.8zM511.7 53.0h0.8v0.8h-0.8zM523.4 59.6h0.8v0.8h-0.8zM533.3 54.8h0.8v0.8h-0.8zM516.1 55.6h0.8v0.8h-0.8zM514.1 71.5h0.8v0.8h-0.8zM542.5 62.7h0.8v0.8h-0.8zM517.7 71.8h0.8v0.8h-0.8zM509.1 58.8h0.8v0.8h-0.8zM546.1 56.9h0.8v0.8h-0.8zM512.3 63.1h0.8v0.8h-0.8zM518.8 62.6h0.8v0.8h-0.8zM508.4 61.5h0.8v0.8h-0.8zM514.1 62.4h0.8v0.8h-0.8zM545.8 63.3h0.8v0.8h-0.8zM517.2 54.1h0.8v0.8h-0.8zM554.1 61.5h0.8v0.8h-0.8zM509.0 62.4h0.8v0.8h-0.8zM552.1 71.7h0.8v0.8h-0.8zM554.0 55.9h0.8v0.8h-0.8zM510.1 60.1h0.8v0.8h-0.8zM552.2 61.7h0.8v0.8h-0.8zM542.6 54.3h0.8v0.8h-0.8zM512.4 50.2h0.8v0.8h-0.8zM508.2 58.7h0.8v0.8h-0.8zM530.3 64.9h0.8v0.8h-0.8zM546.3 70.4h0.8v0.8h-0.8zM532.1 60.0h0.8v0.8h-0.8zM523.0 61.4h0.8v0.8h-0.8zM516.3 59.3h0.8v0.8h-0.8zM553.0 62.3h0.8v0.8h-0.8zM524.6 51.8h0.8v0.8h-0.8zM551.0 57.1h0.8v0.8h-0.8zM526.2 51.3h0.8v0.8h-0.8zM516.9 58.3h0.8v0.8h-0.8zM551.3 70.6h0.8v0.8h-0.8zM524.9 62.4h0.8v0.8h-0.8zM530.7 64.7h0.8v0.8h-0.8zM518.5 60.8h0.8v0.8h-0.8zM543.2 60.9h0.8v0.8h-0.8zM541.5 54.5h0.8v0.8h-0.8zM534.3 66.2h0.8v0.8h-0.8zM516.5 55.6h0.8v0.8h-0.8zM513.3 63.3h0.8v0.8h-0.8zM507.2 62.3h0.8v0.8h-0.8zM557.8 65.7h0.8v0.8h-0.8zM508.7 66.3h0.8v0.8h-0.8zM557.0 57.7h0.8v0.8h-0.8zM545.3 60.3h0.8v0.8h-0.8zM548.0 64.8h0.8v0.8h-0.8zM518.3 60.5h0.8v0.8h-0.8zM533.2 59.6h0.8v0.8h-0.8zM536.0 67.7h0.8v0.8h-0.8zM539.6 65.0h0.8v0.8h-0.8zM513.3 53.5h0.8v0.8h-0.8zM539.9 58.0h0.8v0.8h-0.8zM507.1 62.2h0.8v0.8h-0.8zM530.7 59.5h0.8v0.8h-0.8zM522.8 62.8h0.8v0.8h-0.8zM518.9 58.0h0.8v0.8h-0.8zM525.5 67.0h0.8v0.8h-0.8zM525.0 72.2h0.8v0.8h-0.8zM513.8 60.1h0.8v0.8h-0.8zM549.0 56.0h0.8v0.8h-0.8zM507.4 71.8h0.8v0.8h-0.8zM514.6 67.8h0.8v0.8h-0.8zM536.4 57.8h0.8v0.8h-0.8zM510.6 70.2h0.8v0.8h-0.8zM507.5 69.8h0.8v0.8h-0.8zM509.7 52.6h0.8v0.8h-0.8zM534.5 65.1h0.8v0.8h-0.8zM559.9 62.1h0.8v0.8h-0.8zM552.3 55.3h0.8v0.8h-0.8zM514.5 73.2h0.8v0.8h-0.8zM549.7 65.3h0.8v0.8h-0.8zM533.2 57.5h0.8v0.8h-0.8zM511.0 61.4h0.8v0.8h-0.8zM507.5 65.7h0.8v0.8h-0.8zM551.0 64.4h0.8v0.8h-0.8zM554.0 52.9h0.8v0.8h-0.8zM521.6 60.3h0.8v0.8h-0.8zM541.5 56.8h0.8v0.8h-0.8zM546.9 46.0h0.8v0.8h-0.8zM534.4 58.3h0.8v0.8h-0.8zM521.8 59.3h0.8v0.8h-0.8zM520.5 62.9h0.8v0.8h-0.8zM518.7 63.8h0.8v0.8h-0.8zM509.8 57.8h0.8v0.8h-0.8zM558.9 57.6h0.8v0.8h-0.8zM534.8 55.4h0.8v0.8h-0.8zM517.8 60.4h0.8v0.8h-0.8zM510.4 71.8h0.8v0.8h-0.8zM532.5 58.3h0.8v0.8h-0.8zM532.5 65.0h0.8v0.8h-0.8zM509.5 65.9h0.8v0.8h-0.8zM514.8 58.4h0.8v0.8h-0.8zM511.5 59.4h0.8v0.8h-0.8zM538.1 49.9h0.8v0.8h-0.8zM509.3 62.0h0.8v0.8h-0.8zM507.9 67.4h0.8v0.8h-0.8zM535.4 58.3h0.8v0.8h-0.8zM526.6 69.5h0.8v0.8h-0.8zM523.1 72.4h0.8v0.8h-0.8zM552.1 63.6h0.8v0.8h-0.8zM526.1 64.3h0.8v0.8h-0.8zM511.9 63.5h0.8v0.8h-0.8zM507.7 58.0h0.8v0.8h-0.8zM509.4 59.3h0.8v0.8h-0.8zM549.5 74.0h0.8v0.8h-0.8zM533.8 59.6h0.8v0.8h-0.8zM545.7 61.7h0.8v0.8h-0.8zM508.6 62.7h0.8v0.8h-0.8zM548.2 66.5h0.8v0.8h-0.8zM510.0 71.1h0.8v0.8h-0.8zM507.0 65.2h0.8v0.8h-0.8zM538.3 63.8h0.8v0.8h-0.8zM510.7 64.3h0.8v0.8h-0.8zM520.1 69.6h0.8v0.8h-0.8zM525.4 56.3h0.8v0.8h-0.8zM507.8 62.9h0.8v0.8h-0.8zM542.8 65.0h0.8v0.8h-0.8zM552.7 65.8h0.8v0.8h-0.8zM556.5 61.8h0.8v0.8h-0.8zM509.1 64.5h0.8v0.8h-0.8zM550.4 63.0h0.8v0.8h-0.8zM512.5 60.5h0.8v0.8h-0.8zM533.0 58.4h0.8v0.8h-0.8zM509.6 54.2h0.8v0.8h-0.8zM549.5 56.0h0.8v0.8h-0.8zM519.9 66.2h0.8v0.8h-0.8zM555.5 60.5h0.8v0.8h-0.8zM552.5 63.6h0.8v0.8h-0.8zM512.8 61.0h0.8v0.8h-0.8zM535.6 64.1h0.8v0.8h-0.8zM540.9 58.3h0.8v0.8h-0.8zM522.1 63.2h0.8v0.8h-0.8zM507.0 61.1h0.8v0.8h-0.8zM511.3 67.9h0.8v0.8h-0.8zM548.3 57.7h0.8v0.8h-0.8zM552.7 54.4h0.8v0.8h-0.8zM532.8 66.1h0.8v0.8h-0.8zM535.3 70.2h0.8v0.8h-0.8zM509.3 66.8h0.8v0.8h-0.8zM520.4 57.8h0.8v0.8h-0.8zM545.3 52.8h0.8v0.8h-0.8zM514.3 58.6h0.8v0.8h-0.8zM507.3 68.7h0.8v0.8h-0.8zM549.1 58.9h0.8v0.8h-0.8zM514.4 65.6h0.8v0.8h-0.8zM536.9 62.3h0.8v0.8h-0.8zM507.5 63.4h0.8v0.8h-0.8zM508.7 50.2h0.8v0.8h-0.8zM507.0 50.5h0.8v0.8h-0.8zM521.3 58.3h0.8v0.8h-0.8zM515.6 64.5h0.8v0.8h-0.8zM508.2 57.5h0.8v0.8h-0.8zM507.4 62.8h0.8v0.8h-0.8zM508.8 68.2h0.8v0.8h-0.8zM558.5 57.2h0.8v0.8h-0.8zM544.3 60.7h0.8v0.8h-0.8zM508.2 57.4h0.8v0.8h-0.8zM558.6 57.5h0.8v0.8h-0.8zM509.0 53.6h0.8v0.8h-0.8zM542.6 58.8h0.8v0.8h-0.8zM510.7 60.5h0.8v0.8h-0.8zM557.1 59.3h0.8v0.8h-0.8zM507.7 59.5h0.8v0.8h-0.8zM539.5 57.4h0.8v0.8h-0.8zM508.8 65.6h0.8v0.8h-0.8zM509.8 55.7h0.8v0.8h-0.8zM510.0 61.1h0.8v0.8h-0.8zM509.1 58.7h0.8v0.8h-0.8zM507.5 61.8h0.8v0.8h-0.8zM521.9 68.9h0.8v0.8h-0.8zM540.8 63.7h0.8v0.8h-0.8zM536.3 64.0h0.8v0.8h-0.8zM519.2 60.1h0.8v0.8h-0.8zM518.9 70.1h0.8v0.8h-0.8zM507.2 65.4h0.8v0.8h-0.8zM558.5 53.9h0.8v0.8h-0.8zM507.4 48.1h0.8v0.8h-0.8zM550.8 70.2h0.8v0.8h-0.8zM528.0 59.0h0.8v0.8h-0.8zM532.4 50.8h0.8v0.8h-0.8zM527.9 62.2h0.8v0.8h-0.8zM526.0 55.0h0.8v0.8h-0.8zM528.4 65.1h0.8v0.8h-0.8zM554.7 61.7h0.8v0.8h-0.8zM537.3 56.3h0.8v0.8h-0.8zM511.5 54.9h0.8v0.8h-0.8zM537.8 61.7h0.8v0.8h-0.8zM507.6 62.9h0.8v0.8h-0.8zM530.5 63.6h0.8v0.8h-0.8zM509.6 51.3h0.8v0.8h-0.8zM519.5 57.1h0.8v0.8h-0.8zM511.2 56.7h0.8v0.8h-0.8zM520.0 58.0h0.8v0.8h-0.8zM509.8 59.1h0.8v0.8h-0.8zM558.7 56.4h0.8v0.8h-0.8zM523.1 56.2h0.8v0.8h-0.8zM558.6 49.6h0.8v0.8h-0.8zM507.1 63.1h0.8v0.8h-0.8zM555.5 59.9h0.8v0.8h-0.8zM542.4 60.7h0.8v0.8h-0.8zM527.0 69.2h0.8v0.8h-0.8zM520.8 57.0h0.8v0.8h-0.8zM533.0 56.9h0.8v0.8h-0.8zM535.6 68.5h0.8v0.8h-0.8zM536.3 61.3h0.8v0.8h-0.8zM548.5 54.4h0.8v0.8h-0.8zM509.0 59.6h0.8v0.8h-0.8zM510.3 62.4h0.8v0.8h-0.8zM551.4 59.8h0.8v0.8h-0.8zM508.5 55.8h0.8v0.8h-0.8zM507.1 65.6h0.8v0.8h-0.8z" fill="#000" fill-opacity="0.65"/>
<path d="M512.8 63.8h0.8v0.8h-0.8zM525.4 57.0h0.8v0.8h-0.8zM514.3 71.9h0.8v0.8h-0.8zM527.2 53.4h0.8v0.8h-0.8zM526.8 68.1h0.8v0.8h-0.8zM520.2 68.7h0.8v0.8h-0.8zM531.2 81.6h0.8v0.8h-0.8zM514.8 74.1h0.8v0.8h-0.8zM540.8 75.9h0.8v0.8h-0.8zM550.4 66.3h0.8v0.8h-0.8zM518.4 66.6h0.8v0.8h-0.8zM526.4 83.3h0.8v0.8h-0.8zM520.1 81.4h0.8v0.8h-0.8zM512.5 69.7h0.8v0.8h-0.8zM554.4 63.8h0.8v0.8h-0.8zM524.1 60.8h0.8v0.8h-0.8zM525.7 65.6h0.8v0.8h-0.8zM513.4 83.7h0.8v0.8h-0.8zM514.9 71.8h0.8v0.8h-0.8zM543.6 73.9h0.8v0.8h-0.8zM551.8 90.5h0.8v0.8h-0.8zM541.9 68.9h0.8v0.8h-0.8zM540.2 56.7h0.8v0.8h-0.8zM511.7 53.1h0.8v0.8h-0.8zM513.8 70.2h0.8v0.8h-0.8zM554.0 74.9h0.8v0.8h-0.8zM520.0 62.5h0.8v0.8h-0.8zM524.0 47.8h0.8v0.8h-0.8zM520.9 85.5h0.8v0.8h-0.8zM510.2 78.6h0.8v0.8h-0.8zM559.4 75.9h0.8v0.8h-0.8zM526.3 57.5h0.8v0.8h-0.8zM541.4 68.6h0.8v0.8h-0.8zM514.5 60.0h0.8v0.8h-0.8zM533.4 61.2h0.8v0.8h-0.8zM513.2 71.6h0.8v0.8h-0.8zM554.3 75.2h0.8v0.8h-0.8zM519.2 62.3h0.8v0.8h-0.8zM511.3 64.1h0.8v0.8h-0.8zM510.6 73.4h0.8v0.8h-0.8z" fill="#111" fill-opacity="0.6"/>
<path d="M523.7 80.6h0.8v0.8h-0.8zM544.5 85.5h0.8v0.8h-0.8zM520.1 66.9h0.8v0.8h-0.8zM518.2 66.8h0.8v0.8h-0.8zM547.0 63.9h0.8v0.8h-0.8zM537.0 66.4h0.8v0.8h-0.8zM525.4 72.9h0.8v0.8h-0.8zM552.0 78.3h0.8v0.8h-0.8zM511.7 68.3h0.8v0.8h-0.8zM518.2 86.1h0.8v0.8h-0.8zM550.7 84.2h0.8v0.8h-0.8zM551.5 82.3h0.8v0.8h-0.8zM557.5 83.8h0.8v0.8h-0.8zM523.6 85.5h0.8v0.8h-0.8zM534.9 82.7h0.8v0.8h-0.8zM538.6 72.9h0.8v0.8h-0.8zM528.8 72.9h0.8v0.8h-0.8zM526.4 63.5h0.8v0.8h-0.8zM551.2 83.9h0.8v0.8h-0.8zM559.3 80.7h0.8v0.8h-0.8zM538.2 82.5h0.8v0.8h-0.8zM517.6 80.3h0.8v0.8h-0.8zM532.7 65.3h0.8v0.8h-0.8zM520.9 75.7h0.8v0.8h-0.8zM523.4 73.8h0.8v0.8h-0.8zM540.7 71.9h0.8v0.8h-0.8zM517.4 74.7h0.8v0.8h-0.8zM522.5 67.1h0.8v0.8h-0.8zM520.5 71.0h0.8v0.8h-0.8zM514.6 79.5h0.8v0.8h-0.8zM557.7 71.7h0.8v0.8h-0.8zM546.2 88.0h0.8v0.8h-0.8zM513.1 64.3h0.8v0.8h-0.8zM550.5 85.1h0.8v0.8h-0.8zM542.3 64.8h0.8v0.8h-0.8zM531.3 86.0h0.8v0.8h-0.8zM554.4 84.1h0.8v0.8h-0.8zM520.9 85.6h0.8v0.8h-0.8zM529.4 81.5h0.8v0.8h-0.8zM517.7 89.1h0.8v0.8h-0.8zM540.6 81.7h0.8v0.8h-0.8zM521.4 78.5h0.8v0.8h-0.8zM539.5 77.7h0.8v0.8h-0.8zM528.6 81.8h0.8v0.8h-0.8zM527.7 68.9h0.8v0.8h-0.8zM519.1 80.5h0.8v0.8h-0.8zM516.5 66.8h0.8v0.8h-0.8zM514.4 79.3h0.8v0.8h-0.8zM538.3 76.3h0.8v0.8h-0.8zM512.9 73.2h0.8v0.8h-0.8z" fill="#111" fill-opacity="0.6"/>
<path d="M507.3 78.0h0.8v0.8h-0.8zM509.0 61.4h0.8v0.8h-0.8zM501.1 83.2h0.8v0.8h-0.8zM497.8 52.5h0.8v0.8h-0.8zM499.8 83.1h0.8v0.8h-0.8zM503.2 51.2h0.8v0.8h-0.8zM506.9 78.8h0.8v0.8h-0.8zM496.9 83.1h0.8v0.8h-0.8zM501.6 84.1h0.8v0.8h-0.8zM506.4 82.4h0.8v0.8h-0.8zM495.7 63.0h0.8v0.8h-0.8zM498.0 54.8h0.8v0.8h-0.8zM506.7 78.9h0.8v0.8h-0.8zM503.9 83.3h0.8v0.8h-0.8zM510.4 65.2h0.8v0.8h-0.8zM494.7 75.0h0.8v0.8h-0.8zM496.3 57.2h0.8v0.8h-0.8zM507.6 79.2h0.8v0.8h-0.8zM496.3 59.5h0.8v0.8h-0.8zM507.6 77.0h0.8v0.8h-0.8zM506.9 56.3h0.8v0.8h-0.8zM495.8 72.5h0.8v0.8h-0.8zM503.3 83.6h0.8v0.8h-0.8zM507.9 78.5h0.8v0.8h-0.8zM504.9 52.9h0.8v0.8h-0.8zM508.7 70.8h0.8v0.8h-0.8zM501.6 51.0h0.8v0.8h-0.8zM507.9 77.3h0.8v0.8h-0.8zM495.2 70.0h0.8v0.8h-0.8zM494.9 72.8h0.8v0.8h-0.8zM494.6 69.7h0.8v0.8h-0.8zM507.7 77.1h0.8v0.8h-0.8zM495.5 70.5h0.8v0.8h-0.8zM509.5 60.8h0.8v0.8h-0.8zM508.6 74.9h0.8v0.8h-0.8zM495.3 60.4h0.8v0.8h-0.8zM508.9 70.0h0.8v0.8h-0.8zM494.6 77.2h0.8v0.8h-0.8zM497.3 83.9h0.8v0.8h-0.8zM501.4 85.1h0.8v0.8h-0.8zM499.8 83.4h0.8v0.8h-0.8zM494.7 71.4h0.8v0.8h-0.8zM501.7 83.6h0.8v0.8h-0.8zM499.5 82.4h0.8v0.8h-0.8zM508.9 66.2h0.8v0.8h-0.8zM508.2 61.7h0.8v0.8h-0.8zM498.0 79.8h0.8v0.8h-0.8zM506.0 80.5h0.8v0.8h-0.8zM504.1 82.9h0.8v0.8h-0.8zM501.3 87.1h0.8v0.8h-0.8zM502.1 86.7h0.8v0.8h-0.8zM500.1 85.3h0.8v0.8h-0.8zM502.5 51.1h0.8v0.8h-0.8zM496.1 58.3h0.8v0.8h-0.8zM508.0 62.6h0.8v0.8h-0.8zM506.0 53.3h0.8v0.8h-0.8zM496.7 82.1h0.8v0.8h-0.8zM494.5 62.7h0.8v0.8h-0.8zM503.0 51.3h0.8v0.8h-0.8zM495.8 55.5h0.8v0.8h-0.8zM502.1 85.2h0.8v0.8h-0.8zM498.4 81.6h0.8v0.8h-0.8zM501.5 84.2h0.8v0.8h-0.8zM499.6 53.0h0.8v0.8h-0.8zM506.1 79.8h0.8v0.8h-0.8zM495.0 63.2h0.8v0.8h-0.8zM497.2 78.6h0.8v0.8h-0.8zM497.2 80.3h0.8v0.8h-0.8zM495.9 75.3h0.8v0.8h-0.8zM506.1 80.9h0.8v0.8h-0.8zM500.9 51.2h0.8v0.8h-0.8zM503.3 85.3h0.8v0.8h-0.8zM497.9 55.1h0.8v0.8h-0.8zM508.4 61.2h0.8v0.8h-0.8zM498.3 54.9h0.8v0.8h-0.8zM496.6 76.5h0.8v0.8h-0.8zM501.2 87.6h0.8v0.8h-0.8zM506.4 55.9h0.8v0.8h-0.8zM508.7 74.5h0.8v0.8h-0.8zM494.1 62.9h0.8v0.8h-0.8zM507.7 77.5h0.8v0.8h-0.8zM509.0 66.0h0.8v0.8h-0.8zM507.2 55.7h0.8v0.8h-0.8zM509.4 76.0h0.8v0.8h-0.8zM503.8 53.0h0.8v0.8h-0.8zM497.1 79.2h0.8v0.8h-0.8zM495.8 58.8h0.8v0.8h-0.8zM503.4 53.1h0.8v0.8h-0.8zM494.9 68.5h0.8v0.8h-0.8zM508.4 65.2h0.8v0.8h-0.8zM502.1 84.4h0.8v0.8h-0.8zM509.5 68.1h0.8v0.8h-0.8zM508.6 67.7h0.8v0.8h-0.8zM510.0 58.8h0.8v0.8h-0.8zM507.6 58.4h0.8v0.8h-0.8zM495.4 73.6h0.8v0.8h-0.8zM498.3 80.9h0.8v0.8h-0.8zM506.2 79.7h0.8v0.8h-0.8zM508.6 63.6h0.8v0.8h-0.8zM509.5 64.4h0.8v0.8h-0.8zM495.2 65.6h0.8v0.8h-0.8zM507.8 58.0h0.8v0.8h-0.8zM508.7 75.5h0.8v0.8h-0.8zM503.9 52.4h0.8v0.8h-0.8zM495.5 76.1h0.8v0.8h-0.8zM494.7 77.7h0.8v0.8h-0.8zM504.5 86.1h0.8v0.8h-0.8zM495.4 70.4h0.8v0.8h-0.8zM496.8 78.5h0.8v0.8h-0.8zM503.1 83.1h0.8v0.8h-0.8zM502.6 83.3h0.8v0.8h-0.8zM502.2 87.1h0.8v0.8h-0.8zM508.0 77.1h0.8v0.8h-0.8zM509.1 71.0h0.8v0.8h-0.8zM498.9 53.5h0.8v0.8h-0.8zM503.2 50.4h0.8v0.8h-0.8zM496.1 75.2h0.8v0.8h-0.8zM496.5 55.0h0.8v0.8h-0.8zM500.1 52.7h0.8v0.8h-0.8zM499.4 52.2h0.8v0.8h-0.8zM496.6 79.3h0.8v0.8h-0.8zM502.2 51.5h0.8v0.8h-0.8zM497.4 83.4h0.8v0.8h-0.8zM499.6 82.2h0.8v0.8h-0.8zM505.0 82.2h0.8v0.8h-0.8zM506.2 55.5h0.8v0.8h-0.8zM500.9 85.0h0.8v0.8h-0.8zM506.0 81.7h0.8v0.8h-0.8zM495.3 65.9h0.8v0.8h-0.8zM497.2 55.0h0.8v0.8h-0.8zM497.3 80.0h0.8v0.8h-0.8zM503.9 53.2h0.8v0.8h-0.8zM508.6 70.4h0.8v0.8h-0.8zM506.3 79.2h0.8v0.8h-0.8zM496.1 59.2h0.8v0.8h-0.8zM496.4 77.3h0.8v0.8h-0.8zM495.1 70.5h0.8v0.8h-0.8zM497.9 81.1h0.8v0.8h-0.8zM506.3 54.5h0.8v0.8h-0.8zM504.8 53.6h0.8v0.8h-0.8zM508.5 67.9h0.8v0.8h-0.8zM499.8 82.4h0.8v0.8h-0.8zM507.3 58.5h0.8v0.8h-0.8zM503.8 52.2h0.8v0.8h-0.8zM507.1 78.5h0.8v0.8h-0.8zM496.8 78.6h0.8v0.8h-0.8zM495.8 58.1h0.8v0.8h-0.8zM495.2 74.6h0.8v0.8h-0.8zM502.8 52.9h0.8v0.8h-0.8zM505.0 53.6h0.8v0.8h-0.8zM504.8 54.2h0.8v0.8h-0.8zM504.1 85.1h0.8v0.8h-0.8zM495.8 64.4h0.8v0.8h-0.8zM494.9 64.5h0.8v0.8h-0.8zM506.9 80.5h0.8v0.8h-0.8zM505.5 52.9h0.8v0.8h-0.8zM507.6 75.4h0.8v0.8h-0.8zM495.7 62.4h0.8v0.8h-0.8zM502.8 83.8h0.8v0.8h-0.8zM495.5 70.7h0.8v0.8h-0.8zM495.5 70.9h0.8v0.8h-0.8zM498.7 54.5h0.8v0.8h-0.8zM509.4 64.9h0.8v0.8h-0.8zM497.9 83.6h0.8v0.8h-0.8zM500.8 88.1h0.8v0.8h-0.8zM503.3 51.6h0.8v0.8h-0.8zM497.1 55.2h0.8v0.8h-0.8zM508.6 69.5h0.8v0.8h-0.8zM508.3 74.2h0.8v0.8h-0.8zM507.4 77.9h0.8v0.8h-0.8zM495.2 66.8h0.8v0.8h-0.8zM509.1 58.1h0.8v0.8h-0.8zM495.4 75.8h0.8v0.8h-0.8zM494.6 77.2h0.8v0.8h-0.8zM498.2 81.6h0.8v0.8h-0.8zM509.0 62.9h0.8v0.8h-0.8zM499.9 52.5h0.8v0.8h-0.8zM508.1 62.6h0.8v0.8h-0.8zM495.6 63.9h0.8v0.8h-0.8zM502.3 84.8h0.8v0.8h-0.8zM499.9 84.9h0.8v0.8h-0.8zM508.0 81.4h0.8v0.8h-0.8zM502.3 84.1h0.8v0.8h-0.8zM503.5 83.8h0.8v0.8h-0.8zM501.9 83.2h0.8v0.8h-0.8zM501.6 52.5h0.8v0.8h-0.8zM498.2 53.9h0.8v0.8h-0.8zM494.5 61.0h0.8v0.8h-0.8zM503.3 84.3h0.8v0.8h-0.8zM504.4 53.6h0.8v0.8h-0.8zM505.3 50.6h0.8v0.8h-0.8zM496.4 75.3h0.8v0.8h-0.8zM494.7 67.8h0.8v0.8h-0.8zM502.4 83.9h0.8v0.8h-0.8zM508.7 73.2h0.8v0.8h-0.8zM500.3 51.9h0.8v0.8h-0.8zM496.7 52.7h0.8v0.8h-0.8zM508.1 61.8h0.8v0.8h-0.8zM495.0 67.5h0.8v0.8h-0.8zM506.8 79.3h0.8v0.8h-0.8zM496.5 52.3h0.8v0.8h-0.8zM498.9 82.4h0.8v0.8h-0.8zM496.1 75.2h0.8v0.8h-0.8zM495.1 64.1h0.8v0.8h-0.8zM504.3 51.9h0.8v0.8h-0.8zM502.1 83.4h0.8v0.8h-0.8zM509.0 63.6h0.8v0.8h-0.8zM508.2 61.9h0.8v0.8h-0.8zM496.7 78.9h0.8v0.8h-0.8zM502.6 84.5h0.8v0.8h-0.8zM500.1 52.9h0.8v0.8h-0.8zM495.4 60.4h0.8v0.8h-0.8zM502.7 52.7h0.8v0.8h-0.8zM509.0 62.6h0.8v0.8h-0.8zM509.2 61.9h0.8v0.8h-0.8zM495.4 72.6h0.8v0.8h-0.8zM497.5 80.8h0.8v0.8h-0.8zM501.9 51.1h0.8v0.8h-0.8zM497.1 78.0h0.8v0.8h-0.8zM501.2 52.6h0.8v0.8h-0.8zM500.1 85.8h0.8v0.8h-0.8zM505.2 54.7h0.8v0.8h-0.8zM508.3 62.6h0.8v0.8h-0.8zM508.2 60.9h0.8v0.8h-0.8zM509.6 74.4h0.8v0.8h-0.8zM506.2 53.5h0.8v0.8h-0.8zM496.4 59.0h0.8v0.8h-0.8zM508.6 71.9h0.8v0.8h-0.8zM500.1 83.0h0.8v0.8h-0.8zM499.0 81.7h0.8v0.8h-0.8zM495.1 67.2h0.8v0.8h-0.8zM508.3 79.8h0.8v0.8h-0.8zM507.6 75.9h0.8v0.8h-0.8zM503.1 83.0h0.8v0.8h-0.8zM496.2 77.0h0.8v0.8h-0.8zM495.7 61.0h0.8v0.8h-0.8zM504.5 51.1h0.8v0.8h-0.8zM509.4 69.8h0.8v0.8h-0.8zM494.3 63.1h0.8v0.8h-0.8zM508.5 70.5h0.8v0.8h-0.8zM508.2 77.9h0.8v0.8h-0.8zM508.9 69.4h0.8v0.8h-0.8zM497.5 55.2h0.8v0.8h-0.8zM508.6 72.2h0.8v0.8h-0.8zM501.0 51.3h0.8v0.8h-0.8zM498.6 84.3h0.8v0.8h-0.8zM502.0 86.7h0.8v0.8h-0.8zM508.6 64.9h0.8v0.8h-0.8zM495.7 76.8h0.8v0.8h-0.8zM503.6 51.2h0.8v0.8h-0.8zM495.4 66.8h0.8v0.8h-0.8zM500.9 85.3h0.8v0.8h-0.8zM494.5 70.5h0.8v0.8h-0.8zM498.6 81.7h0.8v0.8h-0.8zM504.8 82.4h0.8v0.8h-0.8zM499.0 84.0h0.8v0.8h-0.8zM508.4 60.0h0.8v0.8h-0.8zM495.6 63.4h0.8v0.8h-0.8zM509.9 68.0h0.8v0.8h-0.8zM493.7 66.7h0.8v0.8h-0.8zM508.5 67.4h0.8v0.8h-0.8zM508.0 73.8h0.8v0.8h-0.8zM507.8 75.0h0.8v0.8h-0.8zM502.6 47.0h0.8v0.8h-0.8zM496.5 57.8h0.8v0.8h-0.8zM506.7 80.1h0.8v0.8h-0.8zM496.0 78.7h0.8v0.8h-0.8zM494.8 63.8h0.8v0.8h-0.8zM497.1 79.3h0.8v0.8h-0.8zM506.8 56.1h0.8v0.8h-0.8zM500.5 51.3h0.8v0.8h-0.8zM497.2 55.3h0.8v0.8h-0.8zM508.1 57.8h0.8v0.8h-0.8zM508.2 64.3h0.8v0.8h-0.8zM502.3 86.9h0.8v0.8h-0.8zM497.3 55.1h0.8v0.8h-0.8zM507.4 78.6h0.8v0.8h-0.8zM498.5 82.3h0.8v0.8h-0.8zM509.1 62.7h0.8v0.8h-0.8zM503.0 84.5h0.8v0.8h-0.8zM506.4 56.7h0.8v0.8h-0.8zM495.2 69.3h0.8v0.8h-0.8zM495.8 72.0h0.8v0.8h-0.8zM500.2 84.2h0.8v0.8h-0.8zM500.1 83.6h0.8v0.8h-0.8zM495.9 62.2h0.8v0.8h-0.8zM504.8 53.7h0.8v0.8h-0.8zM495.1 70.1h0.8v0.8h-0.8zM508.5 78.3h0.8v0.8h-0.8zM508.7 68.1h0.8v0.8h-0.8zM497.8 54.8h0.8v0.8h-0.8zM499.2 82.5h0.8v0.8h-0.8zM499.2 53.4h0.8v0.8h-0.8zM496.9 56.9h0.8v0.8h-0.8zM495.4 66.2h0.8v0.8h-0.8zM495.1 68.9h0.8v0.8h-0.8zM506.6 56.1h0.8v0.8h-0.8zM494.5 64.5h0.8v0.8h-0.8zM500.6 86.1h0.8v0.8h-0.8zM507.8 78.3h0.8v0.8h-0.8zM495.5 63.3h0.8v0.8h-0.8zM496.5 75.9h0.8v0.8h-0.8zM505.2 81.7h0.8v0.8h-0.8zM496.1 61.7h0.8v0.8h-0.8zM504.6 50.6h0.8v0.8h-0.8zM501.9 86.5h0.8v0.8h-0.8zM504.2 51.7h0.8v0.8h-0.8zM494.7 71.2h0.8v0.8h-0.8zM501.6 48.8h0.8v0.8h-0.8zM494.5 71.8h0.8v0.8h-0.8zM504.1 52.2h0.8v0.8h-0.8zM503.9 85.5h0.8v0.8h-0.8zM495.9 77.4h0.8v0.8h-0.8zM495.6 59.9h0.8v0.8h-0.8zM501.0 83.5h0.8v0.8h-0.8zM495.6 70.2h0.8v0.8h-0.8zM506.7 79.9h0.8v0.8h-0.8zM508.4 62.5h0.8v0.8h-0.8zM508.5 70.2h0.8v0.8h-0.8zM505.8 52.8h0.8v0.8h-0.8zM506.6 53.1h0.8v0.8h-0.8zM506.8 82.3h0.8v0.8h-0.8zM506.7 78.6h0.8v0.8h-0.8zM495.2 59.7h0.8v0.8h-0.8zM499.6 53.4h0.8v0.8h-0.8zM498.6 83.4h0.8v0.8h-0.8zM509.4 63.8h0.8v0.8h-0.8zM495.4 73.3h0.8v0.8h-0.8zM507.1 78.9h0.8v0.8h-0.8zM501.4 52.1h0.8v0.8h-0.8zM504.1 84.3h0.8v0.8h-0.8zM506.4 79.4h0.8v0.8h-0.8zM496.3 82.3h0.8v0.8h-0.8zM503.2 52.8h0.8v0.8h-0.8zM496.0 74.2h0.8v0.8h-0.8zM497.8 81.3h0.8v0.8h-0.8zM495.4 64.9h0.8v0.8h-0.8zM504.4 82.3h0.8v0.8h-0.8zM496.7 77.6h0.8v0.8h-0.8zM508.5 70.1h0.8v0.8h-0.8zM494.5 61.8h0.8v0.8h-0.8zM498.9 54.3h0.8v0.8h-0.8zM494.8 71.5h0.8v0.8h-0.8zM508.0 62.8h0.8v0.8h-0.8zM503.4 84.7h0.8v0.8h-0.8zM495.3 64.9h0.8v0.8h-0.8zM498.3 53.0h0.8v0.8h-0.8zM500.1 84.8h0.8v0.8h-0.8zM508.4 62.6h0.8v0.8h-0.8zM509.5 73.1h0.8v0.8h-0.8zM508.8 74.2h0.8v0.8h-0.8zM508.4 71.4h0.8v0.8h-0.8zM507.5 84.5h0.8v0.8h-0.8zM494.8 71.7h0.8v0.8h-0.8zM501.5 84.1h0.8v0.8h-0.8zM507.4 78.3h0.8v0.8h-0.8zM504.2 50.4h0.8v0.8h-0.8zM508.3 75.7h0.8v0.8h-0.8zM496.6 57.8h0.8v0.8h-0.8zM503.3 51.5h0.8v0.8h-0.8zM509.7 69.5h0.8v0.8h-0.8zM496.1 74.7h0.8v0.8h-0.8zM508.4 79.0h0.8v0.8h-0.8zM500.6 83.5h0.8v0.8h-0.8zM501.1 51.6h0.8v0.8h-0.8zM500.2 50.9h0.8v0.8h-0.8zM495.6 57.1h0.8v0.8h-0.8zM496.1 76.7h0.8v0.8h-0.8zM508.0 74.8h0.8v0.8h-0.8zM503.2 52.1h0.8v0.8h-0.8zM508.9 75.0h0.8v0.8h-0.8zM508.0 74.7h0.8v0.8h-0.8zM508.6 62.4h0.8v0.8h-0.8zM496.0 62.2h0.8v0.8h-0.8zM502.7 83.6h0.8v0.8h-0.8zM507.0 57.6h0.8v0.8h-0.8zM503.1 83.3h0.8v0.8h-0.8zM500.5 84.0h0.8v0.8h-0.8zM508.2 62.8h0.8v0.8h-0.8zM508.5 73.8h0.8v0.8h-0.8zM500.0 50.6h0.8v0.8h-0.8zM508.8 61.6h0.8v0.8h-0.8zM500.7 86.4h0.8v0.8h-0.8zM495.3 69.2h0.8v0.8h-0.8zM498.3 87.7h0.8v0.8h-0.8zM502.6 86.9h0.8v0.8h-0.8zM506.4 52.4h0.8v0.8h-0.8zM498.2 81.3h0.8v0.8h-0.8zM508.9 66.7h0.8v0.8h-0.8zM496.6 76.7h0.8v0.8h-0.8zM495.5 67.6h0.8v0.8h-0.8zM508.4 73.8h0.8v0.8h-0.8zM502.4 87.0h0.8v0.8h-0.8zM494.5 66.3h0.8v0.8h-0.8zM504.0 83.2h0.8v0.8h-0.8zM495.3 72.9h0.8v0.8h-0.8zM499.0 82.5h0.8v0.8h-0.8zM499.3 53.1h0.8v0.8h-0.8zM507.5 60.2h0.8v0.8h-0.8zM495.3 69.9h0.8v0.8h-0.8zM505.5 50.4h0.8v0.8h-0.8zM507.6 79.0h0.8v0.8h-0.8zM508.3 79.9h0.8v0.8h-0.8zM508.4 70.6h0.8v0.8h-0.8zM494.9 71.2h0.8v0.8h-0.8zM508.9 67.4h0.8v0.8h-0.8zM496.1 58.1h0.8v0.8h-0.8zM505.5 80.8h0.8v0.8h-0.8zM507.1 58.2h0.8v0.8h-0.8zM494.9 74.3h0.8v0.8h-0.8zM495.5 74.4h0.8v0.8h-0.8zM498.0 55.7h0.8v0.8h-0.8zM496.4 58.3h0.8v0.8h-0.8zM508.4 78.7h0.8v0.8h-0.8zM505.1 52.1h0.8v0.8h-0.8zM494.4 59.2h0.8v0.8h-0.8zM504.5 84.7h0.8v0.8h-0.8zM495.5 67.0h0.8v0.8h-0.8zM496.5 79.4h0.8v0.8h-0.8zM504.0 52.2h0.8v0.8h-0.8zM498.4 80.9h0.8v0.8h-0.8zM501.9 52.7h0.8v0.8h-0.8zM508.6 74.0h0.8v0.8h-0.8zM495.6 60.8h0.8v0.8h-0.8zM496.8 78.4h0.8v0.8h-0.8zM505.6 80.9h0.8v0.8h-0.8zM495.5 64.6h0.8v0.8h-0.8zM494.7 68.6h0.8v0.8h-0.8zM508.4 65.9h0.8v0.8h-0.8zM498.6 54.7h0.8v0.8h-0.8zM499.2 82.5h0.8v0.8h-0.8zM507.6 57.6h0.8v0.8h-0.8zM504.1 49.7h0.8v0.8h-0.8zM495.2 66.4h0.8v0.8h-0.8zM506.1 81.1h0.8v0.8h-0.8zM498.6 50.8h0.8v0.8h-0.8zM500.1 83.6h0.8v0.8h-0.8zM502.2 83.3h0.8v0.8h-0.8zM509.0 75.3h0.8v0.8h-0.8zM495.3 69.5h0.8v0.8h-0.8zM499.3 53.4h0.8v0.8h-0.8zM501.9 85.3h0.8v0.8h-0.8zM494.8 68.8h0.8v0.8h-0.8zM503.0 83.5h0.8v0.8h-0.8zM496.2 60.0h0.8v0.8h-0.8zM506.8 79.8h0.8v0.8h-0.8zM502.3 49.6h0.8v0.8h-0.8zM504.8 54.0h0.8v0.8h-0.8zM500.9 51.0h0.8v0.8h-0.8zM495.1 72.1h0.8v0.8h-0.8zM510.4 65.1h0.8v0.8h-0.8zM507.6 82.1h0.8v0.8h-0.8zM499.2 86.3h0.8v0.8h-0.8zM507.3 56.1h0.8v0.8h-0.8zM502.5 50.8h0.8v0.8h-0.8zM499.4 84.7h0.8v0.8h-0.8zM508.6 72.6h0.8v0.8h-0.8zM495.6 72.4h0.8v0.8h-0.8zM502.8 51.9h0.8v0.8h-0.8zM507.7 60.8h0.8v0.8h-0.8zM502.9 86.6h0.8v0.8h-0.8zM499.2 53.9h0.8v0.8h-0.8zM497.0 79.0h0.8v0.8h-0.8zM505.0 53.7h0.8v0.8h-0.8zM508.6 66.7h0.8v0.8h-0.8zM496.8 78.3h0.8v0.8h-0.8zM507.6 77.5h0.8v0.8h-0.8zM505.8 82.2h0.8v0.8h-0.8zM495.2 72.0h0.8v0.8h-0.8zM499.7 84.8h0.8v0.8h-0.8zM507.5 80.3h0.8v0.8h-0.8zM501.6 85.5h0.8v0.8h-0.8zM495.6 62.3h0.8v0.8h-0.8zM508.5 77.2h0.8v0.8h-0.8zM494.8 71.0h0.8v0.8h-0.8zM503.7 83.6h0.8v0.8h-0.8zM499.2 52.9h0.8v0.8h-0.8zM507.9 74.9h0.8v0.8h-0.8zM500.7 85.0h0.8v0.8h-0.8zM509.6 71.8h0.8v0.8h-0.8zM509.0 72.6h0.8v0.8h-0.8zM503.5 83.2h0.8v0.8h-0.8zM498.8 50.2h0.8v0.8h-0.8zM503.6 86.0h0.8v0.8h-0.8zM495.4 65.5h0.8v0.8h-0.8zM508.4 63.5h0.8v0.8h-0.8zM506.8 58.0h0.8v0.8h-0.8zM498.5 52.6h0.8v0.8h-0.8zM503.0 83.6h0.8v0.8h-0.8zM501.2 84.4h0.8v0.8h-0.8zM496.4 78.1h0.8v0.8h-0.8zM498.2 80.2h0.8v0.8h-0.8zM504.0 53.1h0.8v0.8h-0.8zM495.6 61.5h0.8v0.8h-0.8zM507.6 78.7h0.8v0.8h-0.8zM505.1 83.5h0.8v0.8h-0.8zM506.4 52.0h0.8v0.8h-0.8zM501.1 86.4h0.8v0.8h-0.8zM505.8 80.9h0.8v0.8h-0.8zM502.9 86.3h0.8v0.8h-0.8zM495.6 73.7h0.8v0.8h-0.8zM509.2 65.9h0.8v0.8h-0.8zM501.4 85.6h0.8v0.8h-0.8zM509.7 66.5h0.8v0.8h-0.8zM494.7 66.4h0.8v0.8h-0.8zM500.1 52.7h0.8v0.8h-0.8zM508.2 58.7h0.8v0.8h-0.8zM495.3 72.0h0.8v0.8h-0.8zM506.6 53.7h0.8v0.8h-0.8zM508.9 80.4h0.8v0.8h-0.8zM501.4 52.3h0.8v0.8h-0.8zM509.1 69.0h0.8v0.8h-0.8zM498.0 83.8h0.8v0.8h-0.8zM498.5 81.4h0.8v0.8h-0.8zM506.5 53.5h0.8v0.8h-0.8zM495.3 62.5h0.8v0.8h-0.8zM508.6 66.6h0.8v0.8h-0.8zM497.7 81.5h0.8v0.8h-0.8zM495.6 74.2h0.8v0.8h-0.8zM495.8 73.1h0.8v0.8h-0.8zM509.1 73.9h0.8v0.8h-0.8zM498.6 84.0h0.8v0.8h-0.8zM494.4 73.8h0.8v0.8h-0.8zM499.4 53.2h0.8v0.8h-0.8zM495.5 59.9h0.8v0.8h-0.8zM497.2 57.3h0.8v0.8h-0.8zM507.2 57.0h0.8v0.8h-0.8zM498.2 53.8h0.8v0.8h-0.8zM500.5 52.6h0.8v0.8h-0.8zM500.7 84.8h0.8v0.8h-0.8zM502.8 52.5h0.8v0.8h-0.8zM501.7 85.5h0.8v0.8h-0.8zM509.4 76.4h0.8v0.8h-0.8zM506.4 56.4h0.8v0.8h-0.8zM501.8 49.3h0.8v0.8h-0.8zM507.2 56.4h0.8v0.8h-0.8zM499.5 84.0h0.8v0.8h-0.8zM504.3 82.6h0.8v0.8h-0.8zM495.3 69.0h0.8v0.8h-0.8zM510.3 65.2h0.8v0.8h-0.8zM501.7 83.8h0.8v0.8h-0.8zM508.0 59.9h0.8v0.8h-0.8zM498.3 83.9h0.8v0.8h-0.8zM497.0 85.4h0.8v0.8h-0.8zM505.7 55.0h0.8v0.8h-0.8zM499.0 54.2h0.8v0.8h-0.8zM499.6 82.4h0.8v0.8h-0.8zM504.0 51.1h0.8v0.8h-0.8zM494.8 74.5h0.8v0.8h-0.8zM507.7 76.9h0.8v0.8h-0.8zM495.1 67.1h0.8v0.8h-0.8zM506.7 78.9h0.8v0.8h-0.8zM504.8 82.0h0.8v0.8h-0.8zM495.6 69.5h0.8v0.8h-0.8zM509.4 77.0h0.8v0.8h-0.8zM495.5 67.7h0.8v0.8h-0.8zM506.5 54.8h0.8v0.8h-0.8zM502.8 51.0h0.8v0.8h-0.8zM508.7 68.5h0.8v0.8h-0.8zM509.6 67.2h0.8v0.8h-0.8zM504.6 84.4h0.8v0.8h-0.8zM495.6 60.5h0.8v0.8h-0.8zM501.2 51.5h0.8v0.8h-0.8zM499.0 54.1h0.8v0.8h-0.8zM501.7 51.0h0.8v0.8h-0.8zM504.5 50.7h0.8v0.8h-0.8zM508.5 68.1h0.8v0.8h-0.8zM506.8 79.1h0.8v0.8h-0.8zM500.8 49.9h0.8v0.8h-0.8zM509.4 71.0h0.8v0.8h-0.8zM495.1 72.8h0.8v0.8h-0.8zM499.3 53.9h0.8v0.8h-0.8zM506.5 56.4h0.8v0.8h-0.8zM495.3 73.6h0.8v0.8h-0.8zM503.0 50.9h0.8v0.8h-0.8zM508.2 62.8h0.8v0.8h-0.8zM501.8 83.8h0.8v0.8h-0.8zM497.0 55.9h0.8v0.8h-0.8zM502.3 50.1h0.8v0.8h-0.8zM494.6 67.8h0.8v0.8h-0.8zM495.9 60.1h0.8v0.8h-0.8zM508.8 59.5h0.8v0.8h-0.8zM510.4 70.1h0.8v0.8h-0.8zM497.8 55.7h0.8v0.8h-0.8zM507.4 76.8h0.8v0.8h-0.8zM499.4 83.0h0.8v0.8h-0.8zM506.1 79.9h0.8v0.8h-0.8zM495.4 72.6h0.8v0.8h-0.8zM508.5 73.7h0.8v0.8h-0.8zM495.4 64.1h0.8v0.8h-0.8zM501.4 83.5h0.8v0.8h-0.8zM508.7 62.2h0.8v0.8h-0.8zM509.1 67.0h0.8v0.8h-0.8zM509.1 74.2h0.8v0.8h-0.8zM499.4 82.6h0.8v0.8h-0.8zM499.4 50.7h0.8v0.8h-0.8zM495.4 68.7h0.8v0.8h-0.8zM498.5 55.0h0.8v0.8h-0.8zM497.7 55.7h0.8v0.8h-0.8zM501.6 84.0h0.8v0.8h-0.8zM504.5 51.6h0.8v0.8h-0.8zM502.8 51.5h0.8v0.8h-0.8zM502.0 50.7h0.8v0.8h-0.8zM503.7 84.9h0.8v0.8h-0.8zM501.1 83.7h0.8v0.8h-0.8zM495.3 66.8h0.8v0.8h-0.8zM499.4 53.5h0.8v0.8h-0.8zM504.5 53.8h0.8v0.8h-0.8zM503.9 52.5h0.8v0.8h-0.8zM505.5 55.1h0.8v0.8h-0.8zM495.7 61.3h0.8v0.8h-0.8zM497.7 79.8h0.8v0.8h-0.8zM504.8 85.0h0.8v0.8h-0.8zM507.4 77.0h0.8v0.8h-0.8zM507.7 76.4h0.8v0.8h-0.8zM508.4 79.2h0.8v0.8h-0.8zM495.6 73.7h0.8v0.8h-0.8zM495.2 72.4h0.8v0.8h-0.8zM500.6 84.0h0.8v0.8h-0.8zM500.5 51.3h0.8v0.8h-0.8zM504.1 83.5h0.8v0.8h-0.8zM500.0 84.5h0.8v0.8h-0.8zM502.7 85.2h0.8v0.8h-0.8zM504.6 50.8h0.8v0.8h-0.8zM507.1 79.0h0.8v0.8h-0.8zM508.6 74.7h0.8v0.8h-0.8zM508.0 75.4h0.8v0.8h-0.8zM495.6 66.3h0.8v0.8h-0.8zM500.1 53.5h0.8v0.8h-0.8zM508.8 76.4h0.8v0.8h-0.8zM496.6 80.0h0.8v0.8h-0.8zM503.9 51.4h0.8v0.8h-0.8zM502.8 84.4h0.8v0.8h-0.8zM497.5 79.8h0.8v0.8h-0.8zM504.5 82.5h0.8v0.8h-0.8zM508.8 69.4h0.8v0.8h-0.8zM496.5 78.1h0.8v0.8h-0.8zM498.1 53.0h0.8v0.8h-0.8zM495.4 71.4h0.8v0.8h-0.8zM507.7 77.5h0.8v0.8h-0.8zM496.4 57.7h0.8v0.8h-0.8zM509.3 71.1h0.8v0.8h-0.8zM501.1 52.9h0.8v0.8h-0.8zM495.3 72.3h0.8v0.8h-0.8zM503.2 83.6h0.8v0.8h-0.8zM494.7 72.9h0.8v0.8h-0.8zM495.6 64.7h0.8v0.8h-0.8zM495.2 76.0h0.8v0.8h-0.8zM495.0 61.9h0.8v0.8h-0.8zM504.5 52.8h0.8v0.8h-0.8z" fill="#000" fill-opacity="0.8"/>
<path d="M512.8 49.7h0.8v0.8h-0.8zM504.5 52.2h0.8v0.8h-0.8zM499.0 51.3h0.8v0.8h-0.8zM500.7 52.7h0.8v0.8h-0.8zM504.7 56.0h0.8v0.8h-0.8zM503.9 56.3h0.8v0.8h-0.8zM504.9 53.2h0.8v0.8h-0.8zM501.8 50.0h0.8v0.8h-0.8zM495.7 52.6h0.8v0.8h-0.8zM502.0 53.8h0.8v0.8h-0.8zM504.2 49.1h0.8v0.8h-0.8zM499.6 49.5h0.8v0.8h-0.8zM507.2 52.5h0.8v0.8h-0.8zM503.3 50.1h0.8v0.8h-0.8zM497.1 51.1h0.8v0.8h-0.8zM502.2 54.2h0.8v0.8h-0.8zM495.9 53.8h0.8v0.8h-0.8zM498.9 51.2h0.8v0.8h-0.8zM501.2 51.5h0.8v0.8h-0.8zM504.7 55.4h0.8v0.8h-0.8zM504.2 51.2h0.8v0.8h-0.8zM504.5 53.9h0.8v0.8h-0.8zM506.5 53.6h0.8v0.8h-0.8zM495.5 50.5h0.8v0.8h-0.8zM500.9 55.5h0.8v0.8h-0.8zM502.1 55.5h0.8v0.8h-0.8zM504.0 49.3h0.8v0.8h-0.8zM502.9 54.4h0.8v0.8h-0.8zM504.5 48.4h0.8v0.8h-0.8zM504.6 51.1h0.8v0.8h-0.8zM493.3 51.1h0.8v0.8h-0.8zM493.9 49.0h0.8v0.8h-0.8zM509.1 60.1h0.8v0.8h-0.8zM507.4 54.1h0.8v0.8h-0.8zM511.1 53.8h0.8v0.8h-0.8zM498.3 45.5h0.8v0.8h-0.8zM506.7 46.1h0.8v0.8h-0.8zM490.0 50.9h0.8v0.8h-0.8zM503.0 50.2h0.8v0.8h-0.8zM507.3 52.5h0.8v0.8h-0.8zM503.6 54.1h0.8v0.8h-0.8zM500.1 53.4h0.8v0.8h-0.8zM513.1 50.0h0.8v0.8h-0.8zM503.4 54.4h0.8v0.8h-0.8zM500.3 52.7h0.8v0.8h-0.8zM495.1 51.5h0.8v0.8h-0.8zM502.9 56.1h0.8v0.8h-0.8zM507.0 51.1h0.8v0.8h-0.8zM497.8 58.3h0.8v0.8h-0.8zM506.7 47.1h0.8v0.8h-0.8zM501.2 50.1h0.8v0.8h-0.8zM500.0 47.7h0.8v0.8h-0.8zM500.9 51.3h0.8v0.8h-0.8zM501.7 56.0h0.8v0.8h-0.8zM503.8 49.2h0.8v0.8h-0.8zM495.0 51.3h0.8v0.8h-0.8zM507.9 55.7h0.8v0.8h-0.8zM500.1 56.3h0.8v0.8h-0.8zM504.7 51.1h0.8v0.8h-0.8zM504.7 52.6h0.8v0.8h-0.8zM497.8 51.6h0.8v0.8h-0.8zM503.5 56.8h0.8v0.8h-0.8zM498.2 53.6h0.8v0.8h-0.8zM502.9 52.7h0.8v0.8h-0.8zM497.3 56.7h0.8v0.8h-0.8zM508.7 57.7h0.8v0.8h-0.8zM505.0 57.3h0.8v0.8h-0.8zM505.3 55.9h0.8v0.8h-0.8zM501.4 53.6h0.8v0.8h-0.8zM501.4 49.7h0.8v0.8h-0.8zM500.9 49.5h0.8v0.8h-0.8zM497.8 51.7h0.8v0.8h-0.8zM500.2 59.1h0.8v0.8h-0.8zM510.9 56.2h0.8v0.8h-0.8zM506.5 50.3h0.8v0.8h-0.8zM504.1 48.6h0.8v0.8h-0.8zM500.0 51.5h0.8v0.8h-0.8zM501.2 55.5h0.8v0.8h-0.8zM499.3 60.2h0.8v0.8h-0.8zM500.6 55.5h0.8v0.8h-0.8zM495.7 55.7h0.8v0.8h-0.8zM497.3 53.5h0.8v0.8h-0.8zM502.9 55.4h0.8v0.8h-0.8zM505.7 54.1h0.8v0.8h-0.8zM502.2 58.8h0.8v0.8h-0.8zM500.8 53.0h0.8v0.8h-0.8zM500.8 53.4h0.8v0.8h-0.8zM498.6 51.7h0.8v0.8h-0.8zM505.2 51.2h0.8v0.8h-0.8zM505.0 51.2h0.8v0.8h-0.8zM509.3 52.5h0.8v0.8h-0.8zM510.9 54.4h0.8v0.8h-0.8zM502.3 55.8h0.8v0.8h-0.8zM508.2 57.6h0.8v0.8h-0.8zM509.2 55.6h0.8v0.8h-0.8zM497.6 55.8h0.8v0.8h-0.8zM502.5 54.2h0.8v0.8h-0.8zM508.7 50.8h0.8v0.8h-0.8zM508.9 60.2h0.8v0.8h-0.8zM505.4 52.0h0.8v0.8h-0.8zM509.1 53.5h0.8v0.8h-0.8zM507.7 56.7h0.8v0.8h-0.8zM496.1 53.9h0.8v0.8h-0.8zM496.0 50.8h0.8v0.8h-0.8zM505.7 49.3h0.8v0.8h-0.8zM499.6 51.6h0.8v0.8h-0.8zM504.3 54.0h0.8v0.8h-0.8zM504.9 51.4h0.8v0.8h-0.8zM499.5 54.2h0.8v0.8h-0.8zM498.9 50.5h0.8v0.8h-0.8zM506.0 50.5h0.8v0.8h-0.8zM498.8 56.3h0.8v0.8h-0.8zM502.7 46.2h0.8v0.8h-0.8zM499.4 58.8h0.8v0.8h-0.8zM515.7 52.0h0.8v0.8h-0.8zM506.0 55.1h0.8v0.8h-0.8zM504.3 47.4h0.8v0.8h-0.8zM507.4 53.7h0.8v0.8h-0.8zM501.8 48.0h0.8v0.8h-0.8zM500.0 52.5h0.8v0.8h-0.8zM501.7 53.6h0.8v0.8h-0.8zM501.1 55.9h0.8v0.8h-0.8zM505.7 49.4h0.8v0.8h-0.8zM500.1 54.2h0.8v0.8h-0.8zM500.3 57.1h0.8v0.8h-0.8zM500.4 53.6h0.8v0.8h-0.8zM505.6 49.5h0.8v0.8h-0.8zM508.5 52.2h0.8v0.8h-0.8zM499.6 50.8h0.8v0.8h-0.8zM495.2 48.8h0.8v0.8h-0.8zM509.6 52.5h0.8v0.8h-0.8zM501.5 53.5h0.8v0.8h-0.8zM505.4 50.5h0.8v0.8h-0.8zM501.9 53.7h0.8v0.8h-0.8zM507.4 53.6h0.8v0.8h-0.8zM510.3 52.2h0.8v0.8h-0.8zM501.3 48.7h0.8v0.8h-0.8zM502.6 54.8h0.8v0.8h-0.8zM501.7 52.3h0.8v0.8h-0.8zM498.4 51.1h0.8v0.8h-0.8zM500.8 52.6h0.8v0.8h-0.8zM507.6 54.4h0.8v0.8h-0.8zM506.9 56.4h0.8v0.8h-0.8zM500.7 56.9h0.8v0.8h-0.8zM503.0 48.9h0.8v0.8h-0.8zM500.1 52.6h0.8v0.8h-0.8zM495.9 59.8h0.8v0.8h-0.8zM502.6 55.4h0.8v0.8h-0.8zM497.4 53.2h0.8v0.8h-0.8zM504.0 50.6h0.8v0.8h-0.8zM503.9 52.9h0.8v0.8h-0.8zM504.5 49.2h0.8v0.8h-0.8zM505.1 52.0h0.8v0.8h-0.8zM498.9 46.2h0.8v0.8h-0.8zM501.9 51.7h0.8v0.8h-0.8zM513.5 49.2h0.8v0.8h-0.8zM509.5 56.6h0.8v0.8h-0.8zM504.6 53.6h0.8v0.8h-0.8zM505.0 48.4h0.8v0.8h-0.8zM509.1 51.9h0.8v0.8h-0.8zM499.4 52.8h0.8v0.8h-0.8zM490.4 48.9h0.8v0.8h-0.8zM497.4 48.1h0.8v0.8h-0.8zM505.4 57.6h0.8v0.8h-0.8zM502.8 51.9h0.8v0.8h-0.8zM504.2 51.3h0.8v0.8h-0.8zM503.3 54.0h0.8v0.8h-0.8zM501.7 51.6h0.8v0.8h-0.8zM503.0 53.0h0.8v0.8h-0.8zM505.8 48.3h0.8v0.8h-0.8zM497.7 51.4h0.8v0.8h-0.8zM504.9 48.9h0.8v0.8h-0.8zM508.1 57.1h0.8v0.8h-0.8zM499.4 56.2h0.8v0.8h-0.8zM493.3 52.5h0.8v0.8h-0.8zM495.4 56.0h0.8v0.8h-0.8zM506.5 54.3h0.8v0.8h-0.8zM500.0 49.4h0.8v0.8h-0.8zM504.5 51.2h0.8v0.8h-0.8zM505.7 48.0h0.8v0.8h-0.8zM504.5 54.3h0.8v0.8h-0.8zM492.4 48.9h0.8v0.8h-0.8zM499.4 50.9h0.8v0.8h-0.8zM494.8 52.8h0.8v0.8h-0.8zM497.5 52.5h0.8v0.8h-0.8zM494.3 49.2h0.8v0.8h-0.8zM505.7 47.6h0.8v0.8h-0.8zM502.4 57.0h0.8v0.8h-0.8zM506.2 48.7h0.8v0.8h-0.8zM512.5 51.0h0.8v0.8h-0.8zM506.7 55.6h0.8v0.8h-0.8zM501.1 54.6h0.8v0.8h-0.8zM490.1 53.0h0.8v0.8h-0.8zM503.2 51.6h0.8v0.8h-0.8zM503.1 55.9h0.8v0.8h-0.8zM506.7 50.8h0.8v0.8h-0.8zM506.1 56.2h0.8v0.8h-0.8zM503.0 53.8h0.8v0.8h-0.8zM491.5 47.9h0.8v0.8h-0.8zM504.2 48.2h0.8v0.8h-0.8z" fill="#000" fill-opacity="0.8"/>
<path d="M498.6 83.6h0.8v0.8h-0.8zM497.9 87.6h0.8v0.8h-0.8zM495.2 93.9h0.8v0.8h-0.8zM499.8 89.5h0.8v0.8h-0.8zM499.9 90.2h0.8v0.8h-0.8zM499.3 90.0h0.8v0.8h-0.8zM501.2 89.6h0.8v0.8h-0.8zM499.1 91.4h0.8v0.8h-0.8zM500.2 89.0h0.8v0.8h-0.8zM500.7 91.3h0.8v0.8h-0.8zM497.8 90.9h0.8v0.8h-0.8zM500.6 85.3h0.8v0.8h-0.8zM502.4 90.6h0.8v0.8h-0.8zM500.1 85.2h0.8v0.8h-0.8zM499.2 86.0h0.8v0.8h-0.8zM502.9 85.3h0.8v0.8h-0.8zM501.2 81.3h0.8v0.8h-0.8zM500.2 91.5h0.8v0.8h-0.8zM499.6 83.0h0.8v0.8h-0.8zM499.2 89.0h0.8v0.8h-0.8zM499.4 87.1h0.8v0.8h-0.8zM499.9 87.7h0.8v0.8h-0.8zM498.0 88.9h0.8v0.8h-0.8zM501.5 90.2h0.8v0.8h-0.8zM498.3 88.0h0.8v0.8h-0.8zM502.9 84.6h0.8v0.8h-0.8zM501.0 86.7h0.8v0.8h-0.8zM501.7 88.4h0.8v0.8h-0.8zM502.1 90.9h0.8v0.8h-0.8zM499.9 89.5h0.8v0.8h-0.8zM499.6 90.8h0.8v0.8h-0.8zM499.8 84.9h0.8v0.8h-0.8zM499.1 92.0h0.8v0.8h-0.8zM501.2 88.5h0.8v0.8h-0.8zM498.8 83.7h0.8v0.8h-0.8zM500.5 88.6h0.8v0.8h-0.8zM497.4 87.9h0.8v0.8h-0.8zM501.9 88.3h0.8v0.8h-0.8zM499.9 89.2h0.8v0.8h-0.8zM500.7 90.0h0.8v0.8h-0.8zM499.1 88.3h0.8v0.8h-0.8zM497.3 84.1h0.8v0.8h-0.8zM499.7 87.0h0.8v0.8h-0.8zM498.5 84.8h0.8v0.8h-0.8zM501.8 88.2h0.8v0.8h-0.8zM497.5 82.4h0.8v0.8h-0.8zM502.1 86.4h0.8v0.8h-0.8zM496.1 84.3h0.8v0.8h-0.8zM500.5 91.2h0.8v0.8h-0.8zM502.9 89.8h0.8v0.8h-0.8zM499.3 86.4h0.8v0.8h-0.8zM500.7 91.2h0.8v0.8h-0.8zM500.0 86.5h0.8v0.8h-0.8zM499.0 91.0h0.8v0.8h-0.8zM499.7 93.8h0.8v0.8h-0.8zM499.3 81.1h0.8v0.8h-0.8zM498.3 84.7h0.8v0.8h-0.8zM499.5 91.2h0.8v0.8h-0.8zM498.1 89.4h0.8v0.8h-0.8zM503.2 90.1h0.8v0.8h-0.8zM501.1 90.6h0.8v0.8h-0.8zM502.0 86.6h0.8v0.8h-0.8zM500.9 86.4h0.8v0.8h-0.8zM498.3 88.6h0.8v0.8h-0.8zM499.2 90.4h0.8v0.8h-0.8zM496.7 89.8h0.8v0.8h-0.8zM500.8 87.8h0.8v0.8h-0.8zM498.9 85.0h0.8v0.8h-0.8zM499.6 88.4h0.8v0.8h-0.8zM499.0 89.9h0.8v0.8h-0.8zM498.4 90.8h0.8v0.8h-0.8zM499.0 89.7h0.8v0.8h-0.8zM499.2 95.6h0.8v0.8h-0.8zM496.2 92.7h0.8v0.8h-0.8zM501.3 91.6h0.8v0.8h-0.8zM497.3 86.5h0.8v0.8h-0.8zM496.4 87.5h0.8v0.8h-0.8zM499.5 87.5h0.8v0.8h-0.8zM499.0 84.5h0.8v0.8h-0.8zM500.1 92.5h0.8v0.8h-0.8zM500.7 86.1h0.8v0.8h-0.8zM500.9 89.9h0.8v0.8h-0.8zM498.3 86.4h0.8v0.8h-0.8zM501.8 89.3h0.8v0.8h-0.8zM497.7 86.9h0.8v0.8h-0.8zM498.1 91.9h0.8v0.8h-0.8zM499.4 86.1h0.8v0.8h-0.8zM497.7 93.2h0.8v0.8h-0.8zM500.4 91.0h0.8v0.8h-0.8zM499.2 91.5h0.8v0.8h-0.8z" fill="#000" fill-opacity="0.8"/>
<defs><radialGradient id="g7" cx="0.500" cy="0.500" r="0.5"><stop offset="0" stop-color="#999"/><stop offset="1" stop-color="#e8e8e8"/></radialGradient></defs>
<ellipse cx="502.00" cy="69.00" rx="5.40" ry="13.60" fill="url(#g7)"/>
<ellipse cx="502.00" cy="69.00" rx="5.40" ry="13.60" fill="none" stroke="#555" stroke-width="0.5" stroke-opacity="1.0"/>
<ellipse cx="502.00" cy="69.00" rx="4.57" ry="11.51" fill="none" stroke="#555" stroke-width="0.5" stroke-opacity="1.0"/>
<ellipse cx="502.00" cy="69.00" rx="3.74" ry="9.43" fill="none" stroke="#555" stroke-width="0.5" stroke-opacity="1.0"/>
<ellipse cx="502.00" cy="69.00" rx="2.92" ry="7.34" fill="none" stroke="#555" stroke-width="0.5" stroke-opacity="1.0"/>
<ellipse cx="502.00" cy="69.00" rx="2.09" ry="5.26" fill="none" stroke="#555" stroke-width="0.5" stroke-opacity="1.0"/>
<ellipse cx="502.00" cy="69.00" rx="1.26" ry="3.17" fill="none" stroke="#555" stroke-width="0.5" stroke-opacity="1.0"/>
<ellipse cx="502" cy="69" rx="5.7" ry="14" fill="none" stroke="#111" stroke-width="1.0"/>
<ellipse cx="500.5" cy="68.5" rx="0.7" ry="6" fill="#666"/>
<defs><linearGradient id="w8" x1="0" y1="0" x2="1" y2="0"><stop offset="0" stop-color="#000" stop-opacity="0.22"/><stop offset="0.45" stop-color="#000" stop-opacity="0.099"/><stop offset="1" stop-color="#000" stop-opacity="0"/></linearGradient></defs>
<path d="M618 60 Q631.5 65.0 645 74 Q631.5 88.5 618 99 Z" fill="url(#w8)"/>
<path d="M665.1 87.8h0.8v0.8h-0.8zM621.1 77.8h0.8v0.8h-0.8zM666.9 92.2h0.8v0.8h-0.8zM644.5 75.4h0.8v0.8h-0.8zM656.7 79.1h0.8v0.8h-0.8zM626.8 75.8h0.8v0.8h-0.8zM646.3 71.4h0.8v0.8h-0.8zM623.0 83.4h0.8v0.8h-0.8zM656.8 84.6h0.8v0.8h-0.8zM622.8 64.8h0.8v0.8h-0.8zM661.9 62.8h0.8v0.8h-0.8zM631.9 74.6h0.8v0.8h-0.8zM630.2 86.0h0.8v0.8h-0.8zM627.6 81.4h0.8v0.8h-0.8zM637.8 86.9h0.8v0.8h-0.8zM629.5 69.7h0.8v0.8h-0.8zM657.2 83.5h0.8v0.8h-0.8zM663.5 69.9h0.8v0.8h-0.8zM619.1 80.5h0.8v0.8h-0.8zM663.0 75.5h0.8v0.8h-0.8zM645.1 71.5h0.8v0.8h-0.8zM633.8 67.0h0.8v0.8h-0.8zM659.0 75.3h0.8v0.8h-0.8zM619.3 79.6h0.8v0.8h-0.8zM632.5 81.5h0.8v0.8h-0.8zM629.4 65.3h0.8v0.8h-0.8zM634.2 84.8h0.8v0.8h-0.8zM627.4 96.3h0.8v0.8h-0.8zM623.2 69.9h0.8v0.8h-0.8zM626.0 92.0h0.8v0.8h-0.8zM660.3 64.9h0.8v0.8h-0.8zM619.6 85.3h0.8v0.8h-0.8zM660.5 74.2h0.8v0.8h-0.8zM620.2 67.0h0.8v0.8h-0.8zM633.7 61.7h0.8v0.8h-0.8zM662.2 85.0h0.8v0.8h-0.8zM648.4 71.9h0.8v0.8h-0.8zM659.5 73.9h0.8v0.8h-0.8zM663.5 77.3h0.8v0.8h-0.8zM633.1 84.3h0.8v0.8h-0.8zM666.1 73.7h0.8v0.8h-0.8zM655.7 72.5h0.8v0.8h-0.8zM637.8 57.7h0.8v0.8h-0.8zM639.2 78.0h0.8v0.8h-0.8zM645.2 72.9h0.8v0.8h-0.8zM619.0 80.8h0.8v0.8h-0.8zM626.6 70.4h0.8v0.8h-0.8zM627.1 68.5h0.8v0.8h-0.8zM640.7 70.1h0.8v0.8h-0.8zM625.8 64.0h0.8v0.8h-0.8zM654.1 78.7h0.8v0.8h-0.8zM619.0 72.9h0.8v0.8h-0.8zM628.8 67.9h0.8v0.8h-0.8zM635.0 79.1h0.8v0.8h-0.8zM666.9 76.3h0.8v0.8h-0.8zM626.5 88.0h0.8v0.8h-0.8zM625.9 68.6h0.8v0.8h-0.8zM626.0 64.5h0.8v0.8h-0.8zM626.8 66.9h0.8v0.8h-0.8zM619.4 85.3h0.8v0.8h-0.8zM647.6 90.5h0.8v0.8h-0.8zM620.1 82.9h0.8v0.8h-0.8zM626.6 65.4h0.8v0.8h-0.8zM659.5 74.3h0.8v0.8h-0.8zM627.0 78.9h0.8v0.8h-0.8zM648.2 61.4h0.8v0.8h-0.8zM660.5 67.1h0.8v0.8h-0.8zM629.1 75.7h0.8v0.8h-0.8zM651.3 71.2h0.8v0.8h-0.8zM621.1 67.0h0.8v0.8h-0.8zM642.9 57.6h0.8v0.8h-0.8zM638.3 58.6h0.8v0.8h-0.8zM628.0 70.8h0.8v0.8h-0.8zM623.1 66.0h0.8v0.8h-0.8zM620.3 73.0h0.8v0.8h-0.8zM635.7 69.0h0.8v0.8h-0.8zM646.2 74.1h0.8v0.8h-0.8zM651.0 61.3h0.8v0.8h-0.8zM666.9 88.4h0.8v0.8h-0.8zM643.3 66.7h0.8v0.8h-0.8zM620.5 80.7h0.8v0.8h-0.8zM624.4 79.4h0.8v0.8h-0.8zM661.2 70.6h0.8v0.8h-0.8zM645.5 74.0h0.8v0.8h-0.8zM642.3 69.1h0.8v0.8h-0.8zM622.3 69.3h0.8v0.8h-0.8zM635.9 79.7h0.8v0.8h-0.8zM621.1 72.3h0.8v0.8h-0.8zM657.3 81.6h0.8v0.8h-0.8zM630.2 78.7h0.8v0.8h-0.8zM658.2 61.6h0.8v0.8h-0.8zM634.1 83.7h0.8v0.8h-0.8zM633.0 64.3h0.8v0.8h-0.8zM639.3 75.8h0.8v0.8h-0.8zM666.1 81.5h0.8v0.8h-0.8zM623.5 78.2h0.8v0.8h-0.8zM626.5 75.2h0.8v0.8h-0.8zM659.9 78.6h0.8v0.8h-0.8zM667.5 84.0h0.8v0.8h-0.8zM640.3 71.4h0.8v0.8h-0.8zM631.7 75.7h0.8v0.8h-0.8zM632.3 77.3h0.8v0.8h-0.8zM652.9 61.9h0.8v0.8h-0.8zM629.5 64.9h0.8v0.8h-0.8zM621.3 65.1h0.8v0.8h-0.8zM664.2 58.4h0.8v0.8h-0.8zM665.7 73.8h0.8v0.8h-0.8zM637.9 67.4h0.8v0.8h-0.8zM622.7 75.6h0.8v0.8h-0.8zM649.8 57.4h0.8v0.8h-0.8zM645.4 72.5h0.8v0.8h-0.8zM644.6 64.3h0.8v0.8h-0.8zM631.6 92.1h0.8v0.8h-0.8zM621.6 89.8h0.8v0.8h-0.8zM620.3 62.4h0.8v0.8h-0.8zM658.8 67.8h0.8v0.8h-0.8zM638.1 66.9h0.8v0.8h-0.8zM661.7 79.7h0.8v0.8h-0.8zM623.3 87.3h0.8v0.8h-0.8zM642.9 63.4h0.8v0.8h-0.8zM652.0 63.4h0.8v0.8h-0.8zM640.4 80.2h0.8v0.8h-0.8zM653.5 68.3h0.8v0.8h-0.8zM641.2 63.0h0.8v0.8h-0.8zM629.4 82.4h0.8v0.8h-0.8zM628.4 93.4h0.8v0.8h-0.8zM643.5 77.7h0.8v0.8h-0.8zM622.9 79.2h0.8v0.8h-0.8zM644.0 75.3h0.8v0.8h-0.8zM619.6 90.0h0.8v0.8h-0.8zM645.2 70.8h0.8v0.8h-0.8zM623.3 69.6h0.8v0.8h-0.8zM623.7 70.4h0.8v0.8h-0.8zM623.2 76.6h0.8v0.8h-0.8zM652.8 77.6h0.8v0.8h-0.8zM635.1 72.4h0.8v0.8h-0.8zM643.1 85.5h0.8v0.8h-0.8zM635.7 70.6h0.8v0.8h-0.8zM650.5 76.2h0.8v0.8h-0.8zM640.9 58.6h0.8v0.8h-0.8zM653.3 89.0h0.8v0.8h-0.8zM622.8 80.5h0.8v0.8h-0.8zM627.4 66.9h0.8v0.8h-0.8zM639.0 81.4h0.8v0.8h-0.8zM638.8 70.3h0.8v0.8h-0.8zM642.9 82.0h0.8v0.8h-0.8zM662.4 69.5h0.8v0.8h-0.8zM656.4 72.3h0.8v0.8h-0.8zM659.0 79.2h0.8v0.8h-0.8zM630.1 64.0h0.8v0.8h-0.8zM619.5 85.4h0.8v0.8h-0.8zM620.4 72.2h0.8v0.8h-0.8zM641.0 83.1h0.8v0.8h-0.8zM639.8 76.6h0.8v0.8h-0.8zM652.7 67.6h0.8v0.8h-0.8zM627.0 80.6h0.8v0.8h-0.8zM654.0 76.6h0.8v0.8h-0.8zM627.1 78.5h0.8v0.8h-0.8zM664.1 91.3h0.8v0.8h-0.8zM619.3 61.2h0.8v0.8h-0.8zM634.1 82.5h0.8v0.8h-0.8zM652.0 82.9h0.8v0.8h-0.8zM633.2 69.6h0.8v0.8h-0.8zM634.4 61.1h0.8v0.8h-0.8zM628.9 76.5h0.8v0.8h-0.8zM666.5 87.3h0.8v0.8h-0.8zM665.4 88.8h0.8v0.8h-0.8zM642.9 64.5h0.8v0.8h-0.8zM633.9 87.3h0.8v0.8h-0.8zM621.7 87.8h0.8v0.8h-0.8zM662.4 76.0h0.8v0.8h-0.8zM660.5 64.0h0.8v0.8h-0.8zM649.5 74.3h0.8v0.8h-0.8zM624.3 72.1h0.8v0.8h-0.8zM621.1 83.0h0.8v0.8h-0.8zM631.3 72.6h0.8v0.8h-0.8zM649.2 60.9h0.8v0.8h-0.8zM641.0 82.1h0.8v0.8h-0.8zM628.4 88.1h0.8v0.8h-0.8zM648.4 65.9h0.8v0.8h-0.8zM647.8 68.2h0.8v0.8h-0.8zM661.1 66.2h0.8v0.8h-0.8zM663.3 78.6h0.8v0.8h-0.8zM621.8 81.8h0.8v0.8h-0.8zM620.6 68.3h0.8v0.8h-0.8zM620.6 72.2h0.8v0.8h-0.8zM633.2 73.1h0.8v0.8h-0.8zM642.3 68.4h0.8v0.8h-0.8zM643.1 91.4h0.8v0.8h-0.8zM628.2 82.9h0.8v0.8h-0.8zM621.4 80.7h0.8v0.8h-0.8zM656.4 62.4h0.8v0.8h-0.8zM647.5 82.4h0.8v0.8h-0.8zM632.1 89.0h0.8v0.8h-0.8zM639.4 73.8h0.8v0.8h-0.8zM621.3 77.5h0.8v0.8h-0.8zM631.1 89.7h0.8v0.8h-0.8zM638.4 84.8h0.8v0.8h-0.8zM655.3 60.7h0.8v0.8h-0.8zM627.9 82.5h0.8v0.8h-0.8zM660.4 74.4h0.8v0.8h-0.8zM623.3 78.8h0.8v0.8h-0.8zM668.0 72.5h0.8v0.8h-0.8zM622.4 84.1h0.8v0.8h-0.8zM619.2 80.9h0.8v0.8h-0.8zM647.7 68.7h0.8v0.8h-0.8zM647.4 62.9h0.8v0.8h-0.8zM619.1 80.7h0.8v0.8h-0.8zM649.2 58.4h0.8v0.8h-0.8zM620.8 102.0h0.8v0.8h-0.8zM633.1 66.6h0.8v0.8h-0.8zM626.1 61.4h0.8v0.8h-0.8zM632.2 73.4h0.8v0.8h-0.8zM636.4 89.0h0.8v0.8h-0.8zM628.8 71.2h0.8v0.8h-0.8zM660.7 71.3h0.8v0.8h-0.8zM633.7 72.9h0.8v0.8h-0.8zM625.4 73.0h0.8v0.8h-0.8zM655.1 81.0h0.8v0.8h-0.8zM640.2 73.9h0.8v0.8h-0.8zM621.0 80.1h0.8v0.8h-0.8zM628.3 65.0h0.8v0.8h-0.8zM630.5 72.4h0.8v0.8h-0.8zM635.6 65.8h0.8v0.8h-0.8zM622.7 97.4h0.8v0.8h-0.8zM628.0 65.9h0.8v0.8h-0.8zM629.5 60.3h0.8v0.8h-0.8zM641.6 73.6h0.8v0.8h-0.8zM665.4 71.7h0.8v0.8h-0.8zM619.5 77.1h0.8v0.8h-0.8z" fill="#111" fill-opacity="0.65"/>
<path d="M640.4 79.1h0.8v0.8h-0.8zM643.3 77.6h0.8v0.8h-0.8zM642.9 87.3h0.8v0.8h-0.8zM635.2 86.2h0.8v0.8h-0.8zM622.5 70.9h0.8v0.8h-0.8zM639.1 63.5h0.8v0.8h-0.8zM659.9 71.3h0.8v0.8h-0.8zM662.3 101.0h0.8v0.8h-0.8zM634.9 98.1h0.8v0.8h-0.8zM663.2 87.7h0.8v0.8h-0.8zM623.4 78.0h0.8v0.8h-0.8zM654.0 70.6h0.8v0.8h-0.8zM633.4 71.3h0.8v0.8h-0.8zM635.2 93.2h0.8v0.8h-0.8zM639.7 76.5h0.8v0.8h-0.8zM654.8 100.6h0.8v0.8h-0.8zM636.9 59.0h0.8v0.8h-0.8zM671.7 95.3h0.8v0.8h-0.8zM662.3 81.1h0.8v0.8h-0.8zM634.0 64.1h0.8v0.8h-0.8zM637.5 78.2h0.8v0.8h-0.8zM625.4 89.2h0.8v0.8h-0.8zM659.1 57.6h0.8v0.8h-0.8zM665.0 79.6h0.8v0.8h-0.8zM668.9 78.9h0.8v0.8h-0.8zM662.6 77.9h0.8v0.8h-0.8zM653.3 80.0h0.8v0.8h-0.8zM623.2 63.6h0.8v0.8h-0.8zM633.8 75.7h0.8v0.8h-0.8zM640.8 81.8h0.8v0.8h-0.8z" fill="#222" fill-opacity="0.6"/>
<path d="M616.9 79.3h0.8v0.8h-0.8zM622.1 79.8h0.8v0.8h-0.8zM620.8 64.9h0.8v0.8h-0.8zM620.0 77.5h0.8v0.8h-0.8zM622.4 83.8h0.8v0.8h-0.8zM620.5 73.6h0.8v0.8h-0.8zM618.8 81.9h0.8v0.8h-0.8zM623.2 60.2h0.8v0.8h-0.8zM623.9 89.7h0.8v0.8h-0.8zM621.3 77.6h0.8v0.8h-0.8zM619.8 68.5h0.8v0.8h-0.8zM621.8 79.9h0.8v0.8h-0.8zM616.5 76.3h0.8v0.8h-0.8zM619.4 74.8h0.8v0.8h-0.8zM624.6 94.8h0.8v0.8h-0.8zM622.8 97.6h0.8v0.8h-0.8zM622.4 83.2h0.8v0.8h-0.8zM623.7 87.9h0.8v0.8h-0.8zM618.1 95.4h0.8v0.8h-0.8zM621.5 76.0h0.8v0.8h-0.8zM618.6 80.3h0.8v0.8h-0.8zM620.1 101.2h0.8v0.8h-0.8zM621.5 96.0h0.8v0.8h-0.8zM618.1 77.2h0.8v0.8h-0.8zM622.5 93.7h0.8v0.8h-0.8zM622.0 77.2h0.8v0.8h-0.8zM619.1 77.9h0.8v0.8h-0.8zM623.8 83.1h0.8v0.8h-0.8zM619.2 92.1h0.8v0.8h-0.8zM620.1 97.4h0.8v0.8h-0.8zM620.3 72.6h0.8v0.8h-0.8zM625.7 96.7h0.8v0.8h-0.8zM620.8 80.8h0.8v0.8h-0.8zM617.7 75.4h0.8v0.8h-0.8zM617.8 92.2h0.8v0.8h-0.8zM623.1 78.3h0.8v0.8h-0.8zM619.5 86.6h0.8v0.8h-0.8zM620.5 88.3h0.8v0.8h-0.8zM621.6 86.9h0.8v0.8h-0.8zM621.9 70.6h0.8v0.8h-0.8zM620.7 78.7h0.8v0.8h-0.8zM621.3 79.8h0.8v0.8h-0.8zM621.0 61.2h0.8v0.8h-0.8zM619.4 72.7h0.8v0.8h-0.8zM621.3 84.1h0.8v0.8h-0.8zM619.5 75.8h0.8v0.8h-0.8zM619.0 80.3h0.8v0.8h-0.8zM621.4 89.9h0.8v0.8h-0.8zM620.1 69.5h0.8v0.8h-0.8zM618.7 89.9h0.8v0.8h-0.8zM618.2 77.6h0.8v0.8h-0.8zM620.5 74.1h0.8v0.8h-0.8zM620.0 88.5h0.8v0.8h-0.8zM620.2 84.0h0.8v0.8h-0.8zM620.4 67.8h0.8v0.8h-0.8zM616.8 92.9h0.8v0.8h-0.8zM619.3 94.7h0.8v0.8h-0.8zM622.8 76.0h0.8v0.8h-0.8zM619.0 75.1h0.8v0.8h-0.8zM623.9 81.8h0.8v0.8h-0.8zM619.9 91.7h0.8v0.8h-0.8zM618.5 74.8h0.8v0.8h-0.8zM619.2 81.0h0.8v0.8h-0.8zM617.7 74.1h0.8v0.8h-0.8zM620.7 70.0h0.8v0.8h-0.8zM618.3 86.4h0.8v0.8h-0.8zM618.3 79.2h0.8v0.8h-0.8zM622.1 82.7h0.8v0.8h-0.8zM624.2 80.4h0.8v0.8h-0.8zM617.2 85.7h0.8v0.8h-0.8zM620.9 90.4h0.8v0.8h-0.8zM617.4 80.1h0.8v0.8h-0.8zM622.7 84.1h0.8v0.8h-0.8zM622.8 73.6h0.8v0.8h-0.8zM621.4 81.8h0.8v0.8h-0.8zM623.7 70.6h0.8v0.8h-0.8zM622.9 84.2h0.8v0.8h-0.8zM620.6 74.2h0.8v0.8h-0.8zM618.2 64.7h0.8v0.8h-0.8zM621.1 70.8h0.8v0.8h-0.8zM622.8 86.9h0.8v0.8h-0.8zM621.4 94.7h0.8v0.8h-0.8zM620.3 92.1h0.8v0.8h-0.8zM616.9 76.5h0.8v0.8h-0.8zM622.5 80.3h0.8v0.8h-0.8zM623.8 82.9h0.8v0.8h-0.8zM618.7 97.7h0.8v0.8h-0.8zM620.8 79.5h0.8v0.8h-0.8zM620.3 73.1h0.8v0.8h-0.8zM619.7 90.9h0.8v0.8h-0.8zM619.0 80.0h0.8v0.8h-0.8zM618.9 82.3h0.8v0.8h-0.8zM621.6 87.9h0.8v0.8h-0.8zM619.8 73.4h0.8v0.8h-0.8zM621.1 92.0h0.8v0.8h-0.8zM620.8 75.9h0.8v0.8h-0.8zM619.9 93.3h0.8v0.8h-0.8zM618.5 80.1h0.8v0.8h-0.8zM617.2 79.3h0.8v0.8h-0.8zM622.0 93.6h0.8v0.8h-0.8zM621.8 93.7h0.8v0.8h-0.8zM619.0 100.1h0.8v0.8h-0.8zM624.2 63.3h0.8v0.8h-0.8zM618.2 90.4h0.8v0.8h-0.8zM622.0 97.1h0.8v0.8h-0.8zM620.9 70.6h0.8v0.8h-0.8zM619.0 98.7h0.8v0.8h-0.8zM620.5 62.3h0.8v0.8h-0.8zM620.1 90.0h0.8v0.8h-0.8zM620.5 89.2h0.8v0.8h-0.8zM621.5 82.2h0.8v0.8h-0.8zM618.4 82.5h0.8v0.8h-0.8zM622.0 75.1h0.8v0.8h-0.8zM622.1 86.4h0.8v0.8h-0.8zM620.7 72.3h0.8v0.8h-0.8zM623.7 77.9h0.8v0.8h-0.8zM622.6 75.8h0.8v0.8h-0.8zM621.1 86.0h0.8v0.8h-0.8zM622.2 61.0h0.8v0.8h-0.8zM618.5 66.4h0.8v0.8h-0.8zM620.9 74.2h0.8v0.8h-0.8zM621.6 72.0h0.8v0.8h-0.8zM620.4 86.4h0.8v0.8h-0.8zM616.9 95.6h0.8v0.8h-0.8zM621.0 91.2h0.8v0.8h-0.8zM623.0 85.1h0.8v0.8h-0.8zM623.3 88.1h0.8v0.8h-0.8zM618.4 82.6h0.8v0.8h-0.8zM620.4 91.3h0.8v0.8h-0.8zM624.2 65.7h0.8v0.8h-0.8zM620.5 74.4h0.8v0.8h-0.8zM621.0 92.1h0.8v0.8h-0.8zM623.9 63.5h0.8v0.8h-0.8zM620.9 97.5h0.8v0.8h-0.8zM618.9 90.3h0.8v0.8h-0.8zM621.5 98.6h0.8v0.8h-0.8zM618.4 83.2h0.8v0.8h-0.8zM619.9 77.4h0.8v0.8h-0.8zM623.0 69.0h0.8v0.8h-0.8zM620.8 93.0h0.8v0.8h-0.8zM616.6 83.9h0.8v0.8h-0.8zM620.0 74.4h0.8v0.8h-0.8zM624.9 74.3h0.8v0.8h-0.8zM622.0 72.0h0.8v0.8h-0.8zM618.5 83.9h0.8v0.8h-0.8zM622.8 80.2h0.8v0.8h-0.8zM621.7 80.2h0.8v0.8h-0.8zM622.7 84.4h0.8v0.8h-0.8zM621.0 90.0h0.8v0.8h-0.8zM621.5 83.3h0.8v0.8h-0.8z" fill="#000" fill-opacity="0.75"/>
<path d="M616.2 65.4h0.8v0.8h-0.8zM614.0 63.8h0.8v0.8h-0.8zM612.1 62.7h0.8v0.8h-0.8zM612.3 62.8h0.8v0.8h-0.8zM614.6 64.2h0.8v0.8h-0.8zM614.1 60.7h0.8v0.8h-0.8zM613.0 59.1h0.8v0.8h-0.8zM618.5 58.6h0.8v0.8h-0.8zM615.0 64.1h0.8v0.8h-0.8zM614.5 59.6h0.8v0.8h-0.8zM615.8 65.7h0.8v0.8h-0.8zM617.9 59.5h0.8v0.8h-0.8zM615.2 64.3h0.8v0.8h-0.8zM621.1 62.8h0.8v0.8h-0.8zM615.5 66.0h0.8v0.8h-0.8zM611.8 61.8h0.8v0.8h-0.8zM610.6 61.8h0.8v0.8h-0.8zM613.2 61.4h0.8v0.8h-0.8zM616.8 64.2h0.8v0.8h-0.8zM615.9 61.9h0.8v0.8h-0.8zM613.5 59.7h0.8v0.8h-0.8zM615.6 63.8h0.8v0.8h-0.8zM613.8 60.3h0.8v0.8h-0.8zM612.6 63.9h0.8v0.8h-0.8zM617.7 64.5h0.8v0.8h-0.8zM612.4 61.1h0.8v0.8h-0.8zM612.6 65.9h0.8v0.8h-0.8zM616.1 60.0h0.8v0.8h-0.8zM615.9 63.2h0.8v0.8h-0.8zM615.3 63.2h0.8v0.8h-0.8zM613.1 60.3h0.8v0.8h-0.8zM616.2 67.1h0.8v0.8h-0.8zM612.0 59.7h0.8v0.8h-0.8zM616.2 59.5h0.8v0.8h-0.8zM608.2 61.4h0.8v0.8h-0.8zM617.2 65.0h0.8v0.8h-0.8zM616.8 60.8h0.8v0.8h-0.8zM615.4 61.2h0.8v0.8h-0.8zM613.2 63.4h0.8v0.8h-0.8zM611.9 64.6h0.8v0.8h-0.8zM616.1 64.1h0.8v0.8h-0.8zM615.9 61.0h0.8v0.8h-0.8zM620.0 67.5h0.8v0.8h-0.8zM614.4 62.4h0.8v0.8h-0.8zM613.6 62.0h0.8v0.8h-0.8zM616.8 65.6h0.8v0.8h-0.8zM613.4 60.6h0.8v0.8h-0.8zM611.9 62.2h0.8v0.8h-0.8zM613.8 62.8h0.8v0.8h-0.8zM615.3 58.8h0.8v0.8h-0.8zM612.7 63.6h0.8v0.8h-0.8zM612.8 60.9h0.8v0.8h-0.8zM610.7 64.8h0.8v0.8h-0.8zM615.9 61.8h0.8v0.8h-0.8zM616.7 65.9h0.8v0.8h-0.8zM618.4 61.6h0.8v0.8h-0.8zM614.6 63.2h0.8v0.8h-0.8zM617.3 58.0h0.8v0.8h-0.8zM615.0 58.9h0.8v0.8h-0.8zM617.6 62.0h0.8v0.8h-0.8zM616.4 61.8h0.8v0.8h-0.8zM618.7 64.4h0.8v0.8h-0.8zM613.5 58.8h0.8v0.8h-0.8zM616.1 63.9h0.8v0.8h-0.8zM614.1 62.1h0.8v0.8h-0.8zM613.3 65.1h0.8v0.8h-0.8zM618.2 61.1h0.8v0.8h-0.8zM612.9 63.9h0.8v0.8h-0.8zM611.0 62.2h0.8v0.8h-0.8zM615.1 62.5h0.8v0.8h-0.8zM618.5 60.7h0.8v0.8h-0.8zM616.5 63.0h0.8v0.8h-0.8zM614.6 64.0h0.8v0.8h-0.8zM615.5 63.5h0.8v0.8h-0.8zM613.7 60.4h0.8v0.8h-0.8zM618.3 65.1h0.8v0.8h-0.8zM615.7 61.0h0.8v0.8h-0.8zM616.7 59.2h0.8v0.8h-0.8zM613.8 62.3h0.8v0.8h-0.8zM613.6 58.2h0.8v0.8h-0.8zM619.1 59.0h0.8v0.8h-0.8zM618.1 67.6h0.8v0.8h-0.8zM616.6 63.7h0.8v0.8h-0.8zM611.6 61.7h0.8v0.8h-0.8zM609.9 61.6h0.8v0.8h-0.8zM615.5 58.2h0.8v0.8h-0.8zM613.7 60.3h0.8v0.8h-0.8zM618.1 62.9h0.8v0.8h-0.8zM616.2 61.9h0.8v0.8h-0.8zM615.2 62.5h0.8v0.8h-0.8zM611.7 64.7h0.8v0.8h-0.8zM614.1 59.7h0.8v0.8h-0.8zM614.5 64.1h0.8v0.8h-0.8zM616.9 64.9h0.8v0.8h-0.8zM616.0 62.6h0.8v0.8h-0.8zM614.3 60.2h0.8v0.8h-0.8zM617.2 62.7h0.8v0.8h-0.8zM617.3 61.3h0.8v0.8h-0.8zM614.7 63.7h0.8v0.8h-0.8zM613.1 62.5h0.8v0.8h-0.8zM614.7 63.3h0.8v0.8h-0.8zM611.6 60.1h0.8v0.8h-0.8zM611.6 62.4h0.8v0.8h-0.8zM612.9 69.1h0.8v0.8h-0.8zM613.6 67.3h0.8v0.8h-0.8zM618.2 62.8h0.8v0.8h-0.8zM616.8 60.4h0.8v0.8h-0.8zM615.1 63.8h0.8v0.8h-0.8zM622.1 62.0h0.8v0.8h-0.8zM615.0 64.8h0.8v0.8h-0.8z" fill="#000" fill-opacity="0.85"/>
<path d="M617.7 73.3h0.8v0.8h-0.8zM617.9 72.6h0.8v0.8h-0.8zM613.7 104.0h0.8v0.8h-0.8zM617.3 69.4h0.8v0.8h-0.8zM610.0 75.6h0.8v0.8h-0.8zM618.5 83.2h0.8v0.8h-0.8zM617.6 95.9h0.8v0.8h-0.8zM609.4 90.6h0.8v0.8h-0.8zM615.2 102.8h0.8v0.8h-0.8zM611.5 101.8h0.8v0.8h-0.8zM609.8 92.8h0.8v0.8h-0.8zM609.4 85.0h0.8v0.8h-0.8zM617.8 93.2h0.8v0.8h-0.8zM617.6 94.4h0.8v0.8h-0.8zM615.6 101.5h0.8v0.8h-0.8zM612.4 66.0h0.8v0.8h-0.8zM616.2 100.0h0.8v0.8h-0.8zM612.8 66.1h0.8v0.8h-0.8zM616.7 69.6h0.8v0.8h-0.8zM618.5 85.6h0.8v0.8h-0.8zM611.3 69.2h0.8v0.8h-0.8zM611.3 68.8h0.8v0.8h-0.8zM610.4 72.8h0.8v0.8h-0.8zM611.2 69.7h0.8v0.8h-0.8zM609.8 77.4h0.8v0.8h-0.8zM617.9 75.9h0.8v0.8h-0.8zM617.0 69.0h0.8v0.8h-0.8zM609.5 73.4h0.8v0.8h-0.8zM611.4 100.3h0.8v0.8h-0.8zM609.5 81.6h0.8v0.8h-0.8zM609.6 92.0h0.8v0.8h-0.8zM617.2 96.3h0.8v0.8h-0.8zM617.5 70.6h0.8v0.8h-0.8zM612.3 101.0h0.8v0.8h-0.8zM613.4 64.4h0.8v0.8h-0.8zM614.4 65.2h0.8v0.8h-0.8zM618.1 90.3h0.8v0.8h-0.8zM609.8 89.3h0.8v0.8h-0.8zM611.7 101.4h0.8v0.8h-0.8zM617.7 94.7h0.8v0.8h-0.8zM613.8 103.9h0.8v0.8h-0.8zM612.6 102.4h0.8v0.8h-0.8zM618.3 89.3h0.8v0.8h-0.8zM609.7 83.2h0.8v0.8h-0.8zM618.7 85.5h0.8v0.8h-0.8zM609.7 80.8h0.8v0.8h-0.8zM616.9 98.1h0.8v0.8h-0.8zM613.3 102.8h0.8v0.8h-0.8zM610.7 96.1h0.8v0.8h-0.8zM614.7 103.0h0.8v0.8h-0.8zM612.5 103.6h0.8v0.8h-0.8zM611.3 68.5h0.8v0.8h-0.8zM609.8 90.1h0.8v0.8h-0.8zM611.1 70.2h0.8v0.8h-0.8zM610.2 95.2h0.8v0.8h-0.8zM612.6 103.6h0.8v0.8h-0.8zM611.1 98.3h0.8v0.8h-0.8zM617.8 95.7h0.8v0.8h-0.8zM613.3 103.0h0.8v0.8h-0.8zM618.4 80.4h0.8v0.8h-0.8zM610.5 95.6h0.8v0.8h-0.8zM617.7 95.4h0.8v0.8h-0.8zM610.1 75.0h0.8v0.8h-0.8zM612.5 64.1h0.8v0.8h-0.8zM609.5 80.4h0.8v0.8h-0.8zM618.4 80.0h0.8v0.8h-0.8zM613.0 65.6h0.8v0.8h-0.8zM616.5 68.1h0.8v0.8h-0.8zM617.5 95.1h0.8v0.8h-0.8zM614.0 65.5h0.8v0.8h-0.8zM610.6 70.6h0.8v0.8h-0.8zM610.1 74.4h0.8v0.8h-0.8zM611.3 98.3h0.8v0.8h-0.8zM611.5 68.4h0.8v0.8h-0.8zM617.4 70.3h0.8v0.8h-0.8zM610.3 96.1h0.8v0.8h-0.8zM613.9 103.3h0.8v0.8h-0.8zM618.1 95.4h0.8v0.8h-0.8zM617.1 70.0h0.8v0.8h-0.8zM612.7 103.5h0.8v0.8h-0.8zM618.4 82.8h0.8v0.8h-0.8zM618.2 90.2h0.8v0.8h-0.8zM617.1 99.2h0.8v0.8h-0.8zM618.5 86.5h0.8v0.8h-0.8zM617.2 96.5h0.8v0.8h-0.8zM614.7 65.1h0.8v0.8h-0.8zM618.4 84.8h0.8v0.8h-0.8zM616.7 99.5h0.8v0.8h-0.8zM614.6 103.2h0.8v0.8h-0.8zM610.6 95.8h0.8v0.8h-0.8zM610.4 97.0h0.8v0.8h-0.8zM612.9 102.3h0.8v0.8h-0.8zM610.6 72.2h0.8v0.8h-0.8zM614.4 64.7h0.8v0.8h-0.8zM617.9 93.8h0.8v0.8h-0.8zM617.0 97.2h0.8v0.8h-0.8zM611.6 67.8h0.8v0.8h-0.8zM611.3 99.5h0.8v0.8h-0.8zM617.9 72.7h0.8v0.8h-0.8zM610.0 77.0h0.8v0.8h-0.8zM611.2 69.4h0.8v0.8h-0.8zM609.5 79.1h0.8v0.8h-0.8zM614.1 65.5h0.8v0.8h-0.8zM609.4 80.3h0.8v0.8h-0.8zM611.0 97.7h0.8v0.8h-0.8zM612.4 102.5h0.8v0.8h-0.8zM609.5 87.6h0.8v0.8h-0.8zM617.3 99.0h0.8v0.8h-0.8zM617.5 69.8h0.8v0.8h-0.8zM617.3 70.8h0.8v0.8h-0.8zM616.1 100.8h0.8v0.8h-0.8zM611.3 65.1h0.8v0.8h-0.8zM617.7 93.4h0.8v0.8h-0.8zM612.5 101.9h0.8v0.8h-0.8zM617.9 92.6h0.8v0.8h-0.8zM609.7 87.2h0.8v0.8h-0.8zM612.9 64.4h0.8v0.8h-0.8zM611.5 68.7h0.8v0.8h-0.8zM616.9 98.1h0.8v0.8h-0.8zM610.0 93.6h0.8v0.8h-0.8z" fill="#000" fill-opacity="0.8"/>
<defs><radialGradient id="g9" cx="0.500" cy="0.500" r="0.5"><stop offset="0" stop-color="#888"/><stop offset="1" stop-color="#e0e0e0"/></radialGradient></defs>
<ellipse cx="614.00" cy="84.00" rx="3.60" ry="17.60" fill="url(#g9)"/>
<ellipse cx="614.00" cy="84.00" rx="3.60" ry="17.60" fill="none" stroke="#555" stroke-width="0.5" stroke-opacity="1.0"/>
<ellipse cx="614.00" cy="84.00" rx="2.94" ry="14.36" fill="none" stroke="#555" stroke-width="0.5" stroke-opacity="1.0"/>
<ellipse cx="614.00" cy="84.00" rx="2.28" ry="11.12" fill="none" stroke="#555" stroke-width="0.5" stroke-opacity="1.0"/>
<ellipse cx="614.00" cy="84.00" rx="1.61" ry="7.88" fill="none" stroke="#555" stroke-width="0.5" stroke-opacity="1.0"/>
<ellipse cx="614.00" cy="84.00" rx="0.95" ry="4.65" fill="none" stroke="#555" stroke-width="0.5" stroke-opacity="1.0"/>
<ellipse cx="614" cy="84" rx="3.9" ry="18" fill="none" stroke="#000" stroke-width="1.1"/>
<ellipse cx="613" cy="84" rx="0.7" ry="10" fill="#555"/>
<rect x="80.50" y="44.60" width="48.10" height="39.60" stroke="#555" stroke-width="1" fill="none" />
<text x="124.60" y="122.20" font-size="13" text-anchor="end" font-weight="normal" fill="#000" font-family="'Liberation Sans', sans-serif" >9.1</text>
<rect x="188.30" y="46.40" width="49.30" height="43.30" stroke="#555" stroke-width="1" fill="none" />
<text x="235.20" y="122.20" font-size="13" text-anchor="end" font-weight="normal" fill="#000" font-family="'Liberation Sans', sans-serif" >12.6</text>
<rect x="295.40" y="47.40" width="49.20" height="42.90" stroke="#555" stroke-width="1" fill="none" />
<text x="341.80" y="122.20" font-size="13" text-anchor="end" font-weight="normal" fill="#000" font-family="'Liberation Sans', sans-serif" >20.8</text>
<rect x="401.40" y="47.40" width="49.00" height="42.90" stroke="#555" stroke-width="1" fill="none" />
<text x="449.80" y="122.20" font-size="13" text-anchor="end" font-weight="normal" fill="#000" font-family="'Liberation Sans', sans-serif" >7.9</text>
<rect x="511.00" y="47.60" width="49.80" height="42.70" stroke="#555" stroke-width="1" fill="none" />
<text x="559.80" y="122.20" font-size="13" text-anchor="end" font-weight="normal" fill="#000" font-family="'Liberation Sans', sans-serif" >2.7</text>
<rect x="622.00" y="56.40" width="51.50" height="46.90" stroke="#555" stroke-width="1" fill="none" />
<text x="671.80" y="122.20" font-size="13" text-anchor="end" font-weight="normal" fill="#000" font-family="'Liberation Sans', sans-serif" >1.6</text>
<text x="0.00" y="0.00" font-size="10.8" text-anchor="middle" font-weight="normal" fill="#000" font-family="'Liberation Sans', sans-serif" transform="translate(25.2 87) rotate(-90)">EpCAM1-BV711</text>
<text x="58.60" y="155.90" font-size="11" text-anchor="start" font-weight="normal" fill="#000" font-family="'Liberation Sans', sans-serif" >K19-AF647</text>
<line x1="123.70" y1="153.70" x2="648.00" y2="153.70" stroke="#444" stroke-width="1.1" />
<path d="M646 149.3 L655.6 153.7 L646 158.1 Z" fill="#000"/>
<text x="-0.10" y="195.70" font-size="20" text-anchor="start" font-weight="bold" fill="#000" font-family="'Liberation Sans', sans-serif" >b</text>
<text font-size="12.4" font-family="'Liberation Sans', sans-serif" fill="#000"><tspan x="43.00" y="202.40" font-size="12.4">Total EpCAM1</tspan><tspan x="122.20" y="199.10" font-size="8.8">+</tspan></text>
<rect x="40.50" y="215.20" width="90.90" height="90.50" stroke="#858585" stroke-width="1" fill="#fff" />
<line x1="38.80" y1="305.70" x2="40.50" y2="305.70" stroke="#858585" stroke-width="1" />
<text x="37.00" y="309.30" font-size="10" text-anchor="end" font-weight="normal" fill="#000" font-family="'Liberation Sans', sans-serif" >0</text>
<line x1="38.80" y1="275.53" x2="40.50" y2="275.53" stroke="#858585" stroke-width="1" />
<text x="37.00" y="279.13" font-size="10" text-anchor="end" font-weight="normal" fill="#000" font-family="'Liberation Sans', sans-serif" >1</text>
<line x1="38.80" y1="245.37" x2="40.50" y2="245.37" stroke="#858585" stroke-width="1" />
<text x="37.00" y="248.97" font-size="10" text-anchor="end" font-weight="normal" fill="#000" font-family="'Liberation Sans', sans-serif" >2</text>
<line x1="38.80" y1="215.20" x2="40.50" y2="215.20" stroke="#858585" stroke-width="1" />
<text x="37.00" y="218.80" font-size="10" text-anchor="end" font-weight="normal" fill="#000" font-family="'Liberation Sans', sans-serif" >3</text>
<rect x="43.00" y="304.19" width="10.00" height="1.51" stroke="#555" stroke-width="0.9" fill="#fff" />
<line x1="48.00" y1="305.70" x2="48.00" y2="307.30" stroke="#858585" stroke-width="0.8" />
<rect x="58.00" y="302.68" width="10.00" height="3.02" stroke="#555" stroke-width="0.9" fill="#fff" />
<line x1="63.00" y1="305.70" x2="63.00" y2="307.30" stroke="#858585" stroke-width="0.8" />
<rect x="73.50" y="296.65" width="10.00" height="9.05" stroke="#555" stroke-width="0.9" fill="#fff" />
<line x1="78.50" y1="305.70" x2="78.50" y2="307.30" stroke="#858585" stroke-width="0.8" />
<rect x="88.50" y="283.07" width="10.00" height="22.62" stroke="#555" stroke-width="0.9" fill="#fff" />
<line x1="93.50" y1="305.70" x2="93.50" y2="307.30" stroke="#858585" stroke-width="0.8" />
<rect x="103.50" y="269.50" width="10.00" height="36.20" stroke="#555" stroke-width="0.9" fill="#fff" />
<line x1="108.50" y1="305.70" x2="108.50" y2="307.30" stroke="#858585" stroke-width="0.8" />
<rect x="118.50" y="257.43" width="10.00" height="48.27" stroke="#555" stroke-width="0.9" fill="#fff" />
<line x1="123.50" y1="305.70" x2="123.50" y2="307.30" stroke="#858585" stroke-width="0.8" />
<line x1="48.00" y1="303.89" x2="48.00" y2="304.49" stroke="#666" stroke-width="0.8" />
<line x1="45.50" y1="303.89" x2="50.50" y2="303.89" stroke="#666" stroke-width="0.8" />
<line x1="45.50" y1="304.49" x2="50.50" y2="304.49" stroke="#666" stroke-width="0.8" />
<line x1="45.50" y1="304.19" x2="50.50" y2="304.19" stroke="#666" stroke-width="0.8" />
<line x1="63.00" y1="302.08" x2="63.00" y2="303.29" stroke="#666" stroke-width="0.8" />
<line x1="60.50" y1="302.08" x2="65.50" y2="302.08" stroke="#666" stroke-width="0.8" />
<line x1="60.50" y1="303.29" x2="65.50" y2="303.29" stroke="#666" stroke-width="0.8" />
<line x1="60.50" y1="302.68" x2="65.50" y2="302.68" stroke="#666" stroke-width="0.8" />
<line x1="78.50" y1="295.75" x2="78.50" y2="297.56" stroke="#666" stroke-width="0.8" />
<line x1="76.00" y1="295.75" x2="81.00" y2="295.75" stroke="#666" stroke-width="0.8" />
<line x1="76.00" y1="297.56" x2="81.00" y2="297.56" stroke="#666" stroke-width="0.8" />
<line x1="76.00" y1="296.65" x2="81.00" y2="296.65" stroke="#666" stroke-width="0.8" />
<line x1="93.50" y1="281.57" x2="93.50" y2="284.58" stroke="#666" stroke-width="0.8" />
<line x1="91.00" y1="281.57" x2="96.00" y2="281.57" stroke="#666" stroke-width="0.8" />
<line x1="91.00" y1="284.58" x2="96.00" y2="284.58" stroke="#666" stroke-width="0.8" />
<line x1="91.00" y1="283.07" x2="96.00" y2="283.07" stroke="#666" stroke-width="0.8" />
<line x1="108.50" y1="266.78" x2="108.50" y2="272.21" stroke="#666" stroke-width="0.8" />
<line x1="106.00" y1="266.78" x2="111.00" y2="266.78" stroke="#666" stroke-width="0.8" />
<line x1="106.00" y1="272.21" x2="111.00" y2="272.21" stroke="#666" stroke-width="0.8" />
<line x1="106.00" y1="269.50" x2="111.00" y2="269.50" stroke="#666" stroke-width="0.8" />
<line x1="123.50" y1="251.40" x2="123.50" y2="263.47" stroke="#666" stroke-width="0.8" />
<line x1="121.00" y1="251.40" x2="126.00" y2="251.40" stroke="#666" stroke-width="0.8" />
<line x1="121.00" y1="263.47" x2="126.00" y2="263.47" stroke="#666" stroke-width="0.8" />
<line x1="121.00" y1="257.43" x2="126.00" y2="257.43" stroke="#666" stroke-width="0.8" />
<circle cx="45.00" cy="304.19" r="1.9" fill="#000" />
<circle cx="47.00" cy="303.29" r="1.9" fill="#000" />
<circle cx="49.00" cy="302.68" r="1.9" fill="#000" />
<circle cx="51.00" cy="303.89" r="1.9" fill="#000" />
<circle cx="46.00" cy="304.49" r="1.9" fill="#000" />
<circle cx="50.00" cy="304.80" r="1.9" fill="#000" />
<circle cx="48.00" cy="302.08" r="1.9" fill="#000" />
<circle cx="44.50" cy="303.29" r="1.9" fill="#000" />
<circle cx="51.50" cy="302.99" r="1.9" fill="#000" />
<circle cx="48.00" cy="304.19" r="1.9" fill="#000" />
<circle cx="47.00" cy="304.80" r="1.9" fill="#000" />
<circle cx="49.00" cy="304.49" r="1.9" fill="#000" />
<circle cx="63.00" cy="295.44" r="1.9" fill="#000" />
<circle cx="63.00" cy="297.56" r="1.9" fill="#000" />
<circle cx="62.00" cy="299.67" r="1.9" fill="#000" />
<circle cx="64.00" cy="299.06" r="1.9" fill="#000" />
<circle cx="60.00" cy="302.08" r="1.9" fill="#000" />
<circle cx="66.00" cy="302.68" r="1.9" fill="#000" />
<circle cx="61.00" cy="303.59" r="1.9" fill="#000" />
<circle cx="65.00" cy="304.19" r="1.9" fill="#000" />
<circle cx="63.00" cy="303.29" r="1.9" fill="#000" />
<circle cx="59.50" cy="304.19" r="1.9" fill="#000" />
<circle cx="66.50" cy="304.49" r="1.9" fill="#000" />
<circle cx="63.00" cy="301.48" r="1.9" fill="#000" />
<circle cx="62.00" cy="304.80" r="1.9" fill="#000" />
<circle cx="64.00" cy="304.49" r="1.9" fill="#000" />
<circle cx="77.50" cy="291.52" r="1.9" fill="#000" />
<circle cx="80.00" cy="292.12" r="1.9" fill="#000" />
<circle cx="75.50" cy="293.63" r="1.9" fill="#000" />
<circle cx="81.50" cy="294.24" r="1.9" fill="#000" />
<circle cx="78.50" cy="294.84" r="1.9" fill="#000" />
<circle cx="76.50" cy="296.05" r="1.9" fill="#000" />
<circle cx="80.50" cy="296.65" r="1.9" fill="#000" />
<circle cx="75.50" cy="298.16" r="1.9" fill="#000" />
<circle cx="81.50" cy="297.56" r="1.9" fill="#000" />
<circle cx="78.50" cy="299.06" r="1.9" fill="#000" />
<circle cx="77.50" cy="300.27" r="1.9" fill="#000" />
<circle cx="79.50" cy="299.67" r="1.9" fill="#000" />
<circle cx="91.80" cy="275.53" r="1.9" fill="#000" />
<circle cx="96.30" cy="275.53" r="1.9" fill="#000" />
<circle cx="92.50" cy="277.95" r="1.9" fill="#000" />
<circle cx="95.20" cy="279.45" r="1.9" fill="#000" />
<circle cx="90.30" cy="280.96" r="1.9" fill="#000" />
<circle cx="94.00" cy="282.47" r="1.9" fill="#000" />
<circle cx="91.00" cy="285.49" r="1.9" fill="#000" />
<circle cx="95.50" cy="290.62" r="1.9" fill="#000" />
<circle cx="91.80" cy="293.03" r="1.9" fill="#000" />
<circle cx="96.50" cy="283.07" r="1.9" fill="#000" />
<circle cx="90.50" cy="284.58" r="1.9" fill="#000" />
<circle cx="94.50" cy="287.00" r="1.9" fill="#000" />
<circle cx="105.30" cy="258.04" r="1.9" fill="#000" />
<circle cx="111.70" cy="258.04" r="1.9" fill="#000" />
<circle cx="108.50" cy="260.75" r="1.9" fill="#000" />
<circle cx="105.30" cy="263.77" r="1.9" fill="#000" />
<circle cx="111.70" cy="263.77" r="1.9" fill="#000" />
<circle cx="108.50" cy="268.90" r="1.9" fill="#000" />
<circle cx="105.00" cy="273.42" r="1.9" fill="#000" />
<circle cx="108.50" cy="273.42" r="1.9" fill="#000" />
<circle cx="112.00" cy="273.42" r="1.9" fill="#000" />
<circle cx="108.50" cy="276.74" r="1.9" fill="#000" />
<circle cx="108.50" cy="290.62" r="1.9" fill="#000" />
<circle cx="123.50" cy="229.38" r="1.9" fill="#000" />
<circle cx="123.50" cy="245.67" r="1.9" fill="#000" />
<circle cx="120.30" cy="253.81" r="1.9" fill="#000" />
<circle cx="126.90" cy="255.62" r="1.9" fill="#000" />
<circle cx="123.50" cy="266.48" r="1.9" fill="#000" />
<circle cx="123.50" cy="272.52" r="1.9" fill="#000" />
<circle cx="123.50" cy="277.64" r="1.9" fill="#000" />
<text x="0.00" y="0.00" font-size="10.3" text-anchor="end" font-weight="normal" fill="#000" font-family="'Liberation Sans', sans-serif" transform="translate(50.60 314.30) rotate(-45)">E12.5</text>
<text x="0.00" y="0.00" font-size="10.3" text-anchor="end" font-weight="normal" fill="#000" font-family="'Liberation Sans', sans-serif" transform="translate(65.60 314.30) rotate(-45)">E13.5</text>
<text x="0.00" y="0.00" font-size="10.3" text-anchor="end" font-weight="normal" fill="#000" font-family="'Liberation Sans', sans-serif" transform="translate(81.10 314.30) rotate(-45)">E14.5</text>
<text x="0.00" y="0.00" font-size="10.3" text-anchor="end" font-weight="normal" fill="#000" font-family="'Liberation Sans', sans-serif" transform="translate(96.10 314.30) rotate(-45)">E15.5</text>
<text x="0.00" y="0.00" font-size="10.3" text-anchor="end" font-weight="normal" fill="#000" font-family="'Liberation Sans', sans-serif" transform="translate(111.10 314.30) rotate(-45)">E16.5</text>
<text x="0.00" y="0.00" font-size="10.3" text-anchor="end" font-weight="normal" fill="#000" font-family="'Liberation Sans', sans-serif" transform="translate(126.10 314.30) rotate(-45)">E17.5</text>
<text x="0.00" y="0.00" font-size="10.5" text-anchor="middle" font-weight="normal" fill="#000" font-family="'Liberation Sans', sans-serif" transform="translate(26.50 259.50) rotate(-90)">No. TECs (x10<tspan font-size="7" dy="-4">5</tspan><tspan dy="4">)</tspan></text>
<text x="144.20" y="195.80" font-size="20" text-anchor="start" font-weight="bold" fill="#000" font-family="'Liberation Sans', sans-serif" >c</text>
<line x1="183.20" y1="198.00" x2="248.70" y2="198.00" stroke="#888" stroke-width="1.5" />
<line x1="337.40" y1="198.00" x2="402.90" y2="198.00" stroke="#888" stroke-width="1.5" />
<text font-size="12.3" font-family="'Liberation Sans', sans-serif" fill="#000"><tspan x="254.10" y="202.60" font-size="12.6">K19</tspan><tspan x="275.80" y="199.80" font-size="8.8">-</tspan><tspan x="282.70" y="202.60" font-size="12.3">EpCAM1</tspan><tspan x="331.80" y="199.30" font-size="8.8">+</tspan></text>
<rect x="192.40" y="215.40" width="91.30" height="90.40" stroke="#858585" stroke-width="1" fill="#fff" />
<line x1="190.70" y1="305.80" x2="192.40" y2="305.80" stroke="#858585" stroke-width="1" />
<text x="188.90" y="309.40" font-size="10" text-anchor="end" font-weight="normal" fill="#000" font-family="'Liberation Sans', sans-serif" >0</text>
<line x1="190.70" y1="287.72" x2="192.40" y2="287.72" stroke="#858585" stroke-width="1" />
<text x="188.90" y="291.32" font-size="10" text-anchor="end" font-weight="normal" fill="#000" font-family="'Liberation Sans', sans-serif" >20</text>
<line x1="190.70" y1="269.64" x2="192.40" y2="269.64" stroke="#858585" stroke-width="1" />
<text x="188.90" y="273.24" font-size="10" text-anchor="end" font-weight="normal" fill="#000" font-family="'Liberation Sans', sans-serif" >40</text>
<line x1="190.70" y1="251.56" x2="192.40" y2="251.56" stroke="#858585" stroke-width="1" />
<text x="188.90" y="255.16" font-size="10" text-anchor="end" font-weight="normal" fill="#000" font-family="'Liberation Sans', sans-serif" >60</text>
<line x1="190.70" y1="233.48" x2="192.40" y2="233.48" stroke="#858585" stroke-width="1" />
<text x="188.90" y="237.08" font-size="10" text-anchor="end" font-weight="normal" fill="#000" font-family="'Liberation Sans', sans-serif" >80</text>
<line x1="190.70" y1="215.40" x2="192.40" y2="215.40" stroke="#858585" stroke-width="1" />
<text x="188.90" y="219.00" font-size="10" text-anchor="end" font-weight="normal" fill="#000" font-family="'Liberation Sans', sans-serif" >100</text>
<rect x="195.20" y="223.99" width="10.00" height="81.81" stroke="#555" stroke-width="0.9" fill="#fff" />
<line x1="200.20" y1="305.80" x2="200.20" y2="307.40" stroke="#858585" stroke-width="0.8" />
<rect x="210.40" y="227.60" width="10.00" height="78.20" stroke="#555" stroke-width="0.9" fill="#fff" />
<line x1="215.40" y1="305.80" x2="215.40" y2="307.40" stroke="#858585" stroke-width="0.8" />
<rect x="225.30" y="232.12" width="10.00" height="73.68" stroke="#555" stroke-width="0.9" fill="#fff" />
<line x1="230.30" y1="305.80" x2="230.30" y2="307.40" stroke="#858585" stroke-width="0.8" />
<rect x="240.30" y="223.08" width="10.00" height="82.72" stroke="#555" stroke-width="0.9" fill="#fff" />
<line x1="245.30" y1="305.80" x2="245.30" y2="307.40" stroke="#858585" stroke-width="0.8" />
<rect x="255.60" y="219.47" width="10.00" height="86.33" stroke="#555" stroke-width="0.9" fill="#fff" />
<line x1="260.60" y1="305.80" x2="260.60" y2="307.40" stroke="#858585" stroke-width="0.8" />
<rect x="270.90" y="217.39" width="10.00" height="88.41" stroke="#555" stroke-width="0.9" fill="#fff" />
<line x1="275.90" y1="305.80" x2="275.90" y2="307.40" stroke="#858585" stroke-width="0.8" />
<line x1="200.20" y1="223.08" x2="200.20" y2="224.89" stroke="#666" stroke-width="0.8" />
<line x1="197.70" y1="223.08" x2="202.70" y2="223.08" stroke="#666" stroke-width="0.8" />
<line x1="197.70" y1="224.89" x2="202.70" y2="224.89" stroke="#666" stroke-width="0.8" />
<line x1="197.70" y1="223.99" x2="202.70" y2="223.99" stroke="#666" stroke-width="0.8" />
<line x1="215.40" y1="226.70" x2="215.40" y2="228.51" stroke="#666" stroke-width="0.8" />
<line x1="212.90" y1="226.70" x2="217.90" y2="226.70" stroke="#666" stroke-width="0.8" />
<line x1="212.90" y1="228.51" x2="217.90" y2="228.51" stroke="#666" stroke-width="0.8" />
<line x1="212.90" y1="227.60" x2="217.90" y2="227.60" stroke="#666" stroke-width="0.8" />
<line x1="230.30" y1="231.22" x2="230.30" y2="233.03" stroke="#666" stroke-width="0.8" />
<line x1="227.80" y1="231.22" x2="232.80" y2="231.22" stroke="#666" stroke-width="0.8" />
<line x1="227.80" y1="233.03" x2="232.80" y2="233.03" stroke="#666" stroke-width="0.8" />
<line x1="227.80" y1="232.12" x2="232.80" y2="232.12" stroke="#666" stroke-width="0.8" />
<line x1="245.30" y1="222.18" x2="245.30" y2="223.99" stroke="#666" stroke-width="0.8" />
<line x1="242.80" y1="222.18" x2="247.80" y2="222.18" stroke="#666" stroke-width="0.8" />
<line x1="242.80" y1="223.99" x2="247.80" y2="223.99" stroke="#666" stroke-width="0.8" />
<line x1="242.80" y1="223.08" x2="247.80" y2="223.08" stroke="#666" stroke-width="0.8" />
<line x1="260.60" y1="219.02" x2="260.60" y2="219.92" stroke="#666" stroke-width="0.8" />
<line x1="258.10" y1="219.02" x2="263.10" y2="219.02" stroke="#666" stroke-width="0.8" />
<line x1="258.10" y1="219.92" x2="263.10" y2="219.92" stroke="#666" stroke-width="0.8" />
<line x1="258.10" y1="219.47" x2="263.10" y2="219.47" stroke="#666" stroke-width="0.8" />
<line x1="275.90" y1="217.12" x2="275.90" y2="217.66" stroke="#666" stroke-width="0.8" />
<line x1="273.40" y1="217.12" x2="278.40" y2="217.12" stroke="#666" stroke-width="0.8" />
<line x1="273.40" y1="217.66" x2="278.40" y2="217.66" stroke="#666" stroke-width="0.8" />
<line x1="273.40" y1="217.39" x2="278.40" y2="217.39" stroke="#666" stroke-width="0.8" />
<circle cx="200.62" cy="223.79" r="1.9" fill="#000" />
<circle cx="199.96" cy="221.24" r="1.9" fill="#000" />
<circle cx="200.81" cy="223.49" r="1.9" fill="#000" />
<circle cx="200.28" cy="225.25" r="1.9" fill="#000" />
<circle cx="202.25" cy="222.83" r="1.9" fill="#000" />
<circle cx="198.82" cy="225.74" r="1.9" fill="#000" />
<circle cx="202.37" cy="225.76" r="1.9" fill="#000" />
<circle cx="196.99" cy="222.49" r="1.9" fill="#000" />
<circle cx="203.45" cy="220.92" r="1.9" fill="#000" />
<circle cx="201.01" cy="222.70" r="1.9" fill="#000" />
<circle cx="196.81" cy="225.39" r="1.9" fill="#000" />
<circle cx="197.12" cy="223.38" r="1.9" fill="#000" />
<circle cx="198.39" cy="225.22" r="1.9" fill="#000" />
<circle cx="199.95" cy="226.08" r="1.9" fill="#000" />
<circle cx="216.50" cy="227.29" r="1.9" fill="#000" />
<circle cx="212.90" cy="226.25" r="1.9" fill="#000" />
<circle cx="214.52" cy="229.81" r="1.9" fill="#000" />
<circle cx="217.57" cy="228.38" r="1.9" fill="#000" />
<circle cx="216.11" cy="226.12" r="1.9" fill="#000" />
<circle cx="216.53" cy="226.84" r="1.9" fill="#000" />
<circle cx="214.98" cy="229.08" r="1.9" fill="#000" />
<circle cx="218.24" cy="228.98" r="1.9" fill="#000" />
<circle cx="217.63" cy="229.54" r="1.9" fill="#000" />
<circle cx="216.71" cy="229.46" r="1.9" fill="#000" />
<circle cx="214.73" cy="228.04" r="1.9" fill="#000" />
<circle cx="212.03" cy="225.29" r="1.9" fill="#000" />
<circle cx="218.31" cy="229.53" r="1.9" fill="#000" />
<circle cx="212.54" cy="227.10" r="1.9" fill="#000" />
<circle cx="231.60" cy="233.21" r="1.9" fill="#000" />
<circle cx="232.75" cy="231.29" r="1.9" fill="#000" />
<circle cx="228.41" cy="233.54" r="1.9" fill="#000" />
<circle cx="228.38" cy="233.72" r="1.9" fill="#000" />
<circle cx="227.71" cy="231.07" r="1.9" fill="#000" />
<circle cx="228.30" cy="231.98" r="1.9" fill="#000" />
<circle cx="229.82" cy="233.05" r="1.9" fill="#000" />
<circle cx="231.06" cy="230.60" r="1.9" fill="#000" />
<circle cx="228.73" cy="234.32" r="1.9" fill="#000" />
<circle cx="232.90" cy="233.72" r="1.9" fill="#000" />
<circle cx="232.44" cy="230.72" r="1.9" fill="#000" />
<circle cx="232.01" cy="230.65" r="1.9" fill="#000" />
<circle cx="232.36" cy="230.09" r="1.9" fill="#000" />
<circle cx="232.75" cy="233.22" r="1.9" fill="#000" />
<circle cx="232.09" cy="232.18" r="1.9" fill="#000" />
<circle cx="229.81" cy="231.83" r="1.9" fill="#000" />
<circle cx="246.72" cy="224.05" r="1.9" fill="#000" />
<circle cx="248.38" cy="222.08" r="1.9" fill="#000" />
<circle cx="243.59" cy="223.46" r="1.9" fill="#000" />
<circle cx="246.41" cy="221.79" r="1.9" fill="#000" />
<circle cx="246.59" cy="223.34" r="1.9" fill="#000" />
<circle cx="247.24" cy="223.01" r="1.9" fill="#000" />
<circle cx="243.36" cy="224.01" r="1.9" fill="#000" />
<circle cx="244.31" cy="221.18" r="1.9" fill="#000" />
<circle cx="247.43" cy="223.50" r="1.9" fill="#000" />
<circle cx="242.85" cy="222.16" r="1.9" fill="#000" />
<circle cx="246.45" cy="222.45" r="1.9" fill="#000" />
<circle cx="246.36" cy="223.84" r="1.9" fill="#000" />
<circle cx="245.30" cy="229.86" r="1.9" fill="#000" />
<circle cx="245.30" cy="228.06" r="1.9" fill="#000" />
<circle cx="257.18" cy="218.17" r="1.9" fill="#000" />
<circle cx="258.21" cy="218.59" r="1.9" fill="#000" />
<circle cx="257.22" cy="218.14" r="1.9" fill="#000" />
<circle cx="261.87" cy="218.33" r="1.9" fill="#000" />
<circle cx="264.10" cy="218.37" r="1.9" fill="#000" />
<circle cx="259.47" cy="219.49" r="1.9" fill="#000" />
<circle cx="259.06" cy="218.64" r="1.9" fill="#000" />
<circle cx="258.70" cy="219.44" r="1.9" fill="#000" />
<circle cx="263.22" cy="218.37" r="1.9" fill="#000" />
<circle cx="258.66" cy="218.48" r="1.9" fill="#000" />
<circle cx="275.76" cy="217.36" r="1.9" fill="#000" />
<circle cx="275.53" cy="217.30" r="1.9" fill="#000" />
<circle cx="277.00" cy="217.31" r="1.9" fill="#000" />
<circle cx="276.84" cy="217.47" r="1.9" fill="#000" />
<circle cx="274.51" cy="217.74" r="1.9" fill="#000" />
<circle cx="273.39" cy="217.39" r="1.9" fill="#000" />
<circle cx="274.57" cy="216.94" r="1.9" fill="#000" />
<circle cx="279.09" cy="216.89" r="1.9" fill="#000" />
<circle cx="278.65" cy="217.48" r="1.9" fill="#000" />
<circle cx="277.07" cy="216.87" r="1.9" fill="#000" />
<text x="0.00" y="0.00" font-size="10.3" text-anchor="end" font-weight="normal" fill="#000" font-family="'Liberation Sans', sans-serif" transform="translate(202.80 314.40) rotate(-45)">E12.5</text>
<text x="0.00" y="0.00" font-size="10.3" text-anchor="end" font-weight="normal" fill="#000" font-family="'Liberation Sans', sans-serif" transform="translate(218.00 314.40) rotate(-45)">E13.5</text>
<text x="0.00" y="0.00" font-size="10.3" text-anchor="end" font-weight="normal" fill="#000" font-family="'Liberation Sans', sans-serif" transform="translate(232.90 314.40) rotate(-45)">E14.5</text>
<text x="0.00" y="0.00" font-size="10.3" text-anchor="end" font-weight="normal" fill="#000" font-family="'Liberation Sans', sans-serif" transform="translate(247.90 314.40) rotate(-45)">E15.5</text>
<text x="0.00" y="0.00" font-size="10.3" text-anchor="end" font-weight="normal" fill="#000" font-family="'Liberation Sans', sans-serif" transform="translate(263.20 314.40) rotate(-45)">E16.5</text>
<text x="0.00" y="0.00" font-size="10.3" text-anchor="end" font-weight="normal" fill="#000" font-family="'Liberation Sans', sans-serif" transform="translate(278.50 314.40) rotate(-45)">E17.5</text>
<text x="0.00" y="0.00" font-size="10.5" text-anchor="middle" font-weight="normal" fill="#000" font-family="'Liberation Sans', sans-serif" transform="translate(169.30 260.00) rotate(-90)">% Total TEC</text>
<rect x="314.30" y="215.30" width="91.20" height="90.40" stroke="#858585" stroke-width="1" fill="#fff" />
<line x1="312.60" y1="305.70" x2="314.30" y2="305.70" stroke="#858585" stroke-width="1" />
<text x="310.80" y="309.30" font-size="10" text-anchor="end" font-weight="normal" fill="#000" font-family="'Liberation Sans', sans-serif" >0</text>
<line x1="312.60" y1="275.57" x2="314.30" y2="275.57" stroke="#858585" stroke-width="1" />
<text x="310.80" y="279.17" font-size="10" text-anchor="end" font-weight="normal" fill="#000" font-family="'Liberation Sans', sans-serif" >1</text>
<line x1="312.60" y1="245.43" x2="314.30" y2="245.43" stroke="#858585" stroke-width="1" />
<text x="310.80" y="249.03" font-size="10" text-anchor="end" font-weight="normal" fill="#000" font-family="'Liberation Sans', sans-serif" >2</text>
<line x1="312.60" y1="215.30" x2="314.30" y2="215.30" stroke="#858585" stroke-width="1" />
<text x="310.80" y="218.90" font-size="10" text-anchor="end" font-weight="normal" fill="#000" font-family="'Liberation Sans', sans-serif" >3</text>
<rect x="317.00" y="304.49" width="10.00" height="1.21" stroke="#555" stroke-width="0.9" fill="#fff" />
<line x1="322.00" y1="305.70" x2="322.00" y2="307.30" stroke="#858585" stroke-width="0.8" />
<rect x="332.00" y="303.29" width="10.00" height="2.41" stroke="#555" stroke-width="0.9" fill="#fff" />
<line x1="337.00" y1="305.70" x2="337.00" y2="307.30" stroke="#858585" stroke-width="0.8" />
<rect x="347.40" y="297.56" width="10.00" height="8.14" stroke="#555" stroke-width="0.9" fill="#fff" />
<line x1="352.40" y1="305.70" x2="352.40" y2="307.30" stroke="#858585" stroke-width="0.8" />
<rect x="362.40" y="285.21" width="10.00" height="20.49" stroke="#555" stroke-width="0.9" fill="#fff" />
<line x1="367.40" y1="305.70" x2="367.40" y2="307.30" stroke="#858585" stroke-width="0.8" />
<rect x="377.50" y="271.05" width="10.00" height="34.65" stroke="#555" stroke-width="0.9" fill="#fff" />
<line x1="382.50" y1="305.70" x2="382.50" y2="307.30" stroke="#858585" stroke-width="0.8" />
<rect x="392.50" y="258.39" width="10.00" height="47.31" stroke="#555" stroke-width="0.9" fill="#fff" />
<line x1="397.50" y1="305.70" x2="397.50" y2="307.30" stroke="#858585" stroke-width="0.8" />
<line x1="322.00" y1="304.19" x2="322.00" y2="304.80" stroke="#666" stroke-width="0.8" />
<line x1="319.50" y1="304.19" x2="324.50" y2="304.19" stroke="#666" stroke-width="0.8" />
<line x1="319.50" y1="304.80" x2="324.50" y2="304.80" stroke="#666" stroke-width="0.8" />
<line x1="319.50" y1="304.49" x2="324.50" y2="304.49" stroke="#666" stroke-width="0.8" />
<line x1="337.00" y1="302.69" x2="337.00" y2="303.89" stroke="#666" stroke-width="0.8" />
<line x1="334.50" y1="302.69" x2="339.50" y2="302.69" stroke="#666" stroke-width="0.8" />
<line x1="334.50" y1="303.89" x2="339.50" y2="303.89" stroke="#666" stroke-width="0.8" />
<line x1="334.50" y1="303.29" x2="339.50" y2="303.29" stroke="#666" stroke-width="0.8" />
<line x1="352.40" y1="296.66" x2="352.40" y2="298.47" stroke="#666" stroke-width="0.8" />
<line x1="349.90" y1="296.66" x2="354.90" y2="296.66" stroke="#666" stroke-width="0.8" />
<line x1="349.90" y1="298.47" x2="354.90" y2="298.47" stroke="#666" stroke-width="0.8" />
<line x1="349.90" y1="297.56" x2="354.90" y2="297.56" stroke="#666" stroke-width="0.8" />
<line x1="367.40" y1="283.70" x2="367.40" y2="286.72" stroke="#666" stroke-width="0.8" />
<line x1="364.90" y1="283.70" x2="369.90" y2="283.70" stroke="#666" stroke-width="0.8" />
<line x1="364.90" y1="286.72" x2="369.90" y2="286.72" stroke="#666" stroke-width="0.8" />
<line x1="364.90" y1="285.21" x2="369.90" y2="285.21" stroke="#666" stroke-width="0.8" />
<line x1="382.50" y1="268.33" x2="382.50" y2="273.76" stroke="#666" stroke-width="0.8" />
<line x1="380.00" y1="268.33" x2="385.00" y2="268.33" stroke="#666" stroke-width="0.8" />
<line x1="380.00" y1="273.76" x2="385.00" y2="273.76" stroke="#666" stroke-width="0.8" />
<line x1="380.00" y1="271.05" x2="385.00" y2="271.05" stroke="#666" stroke-width="0.8" />
<line x1="397.50" y1="252.36" x2="397.50" y2="264.42" stroke="#666" stroke-width="0.8" />
<line x1="395.00" y1="252.36" x2="400.00" y2="252.36" stroke="#666" stroke-width="0.8" />
<line x1="395.00" y1="264.42" x2="400.00" y2="264.42" stroke="#666" stroke-width="0.8" />
<line x1="395.00" y1="258.39" x2="400.00" y2="258.39" stroke="#666" stroke-width="0.8" />
<circle cx="319.00" cy="304.49" r="1.9" fill="#000" />
<circle cx="321.00" cy="303.59" r="1.9" fill="#000" />
<circle cx="323.00" cy="303.29" r="1.9" fill="#000" />
<circle cx="325.00" cy="304.19" r="1.9" fill="#000" />
<circle cx="320.00" cy="304.80" r="1.9" fill="#000" />
<circle cx="324.00" cy="304.80" r="1.9" fill="#000" />
<circle cx="322.00" cy="302.69" r="1.9" fill="#000" />
<circle cx="318.50" cy="303.89" r="1.9" fill="#000" />
<circle cx="325.50" cy="303.59" r="1.9" fill="#000" />
<circle cx="322.00" cy="304.49" r="1.9" fill="#000" />
<circle cx="337.00" cy="296.66" r="1.9" fill="#000" />
<circle cx="337.00" cy="298.47" r="1.9" fill="#000" />
<circle cx="336.00" cy="300.28" r="1.9" fill="#000" />
<circle cx="338.00" cy="299.97" r="1.9" fill="#000" />
<circle cx="334.00" cy="302.69" r="1.9" fill="#000" />
<circle cx="340.00" cy="302.99" r="1.9" fill="#000" />
<circle cx="335.00" cy="303.89" r="1.9" fill="#000" />
<circle cx="339.00" cy="304.19" r="1.9" fill="#000" />
<circle cx="337.00" cy="303.59" r="1.9" fill="#000" />
<circle cx="333.50" cy="304.49" r="1.9" fill="#000" />
<circle cx="340.50" cy="304.49" r="1.9" fill="#000" />
<circle cx="337.00" cy="302.08" r="1.9" fill="#000" />
<circle cx="336.00" cy="304.80" r="1.9" fill="#000" />
<circle cx="338.00" cy="304.80" r="1.9" fill="#000" />
<circle cx="351.40" cy="294.25" r="1.9" fill="#000" />
<circle cx="353.90" cy="294.55" r="1.9" fill="#000" />
<circle cx="349.40" cy="295.76" r="1.9" fill="#000" />
<circle cx="355.40" cy="296.06" r="1.9" fill="#000" />
<circle cx="352.40" cy="296.66" r="1.9" fill="#000" />
<circle cx="350.40" cy="297.56" r="1.9" fill="#000" />
<circle cx="354.40" cy="298.17" r="1.9" fill="#000" />
<circle cx="349.40" cy="299.07" r="1.9" fill="#000" />
<circle cx="355.40" cy="298.77" r="1.9" fill="#000" />
<circle cx="352.40" cy="299.67" r="1.9" fill="#000" />
<circle cx="351.40" cy="300.58" r="1.9" fill="#000" />
<circle cx="353.40" cy="300.28" r="1.9" fill="#000" />
<circle cx="367.40" cy="278.58" r="1.9" fill="#000" />
<circle cx="369.40" cy="279.79" r="1.9" fill="#000" />
<circle cx="365.40" cy="281.59" r="1.9" fill="#000" />
<circle cx="368.40" cy="282.20" r="1.9" fill="#000" />
<circle cx="370.40" cy="283.40" r="1.9" fill="#000" />
<circle cx="364.40" cy="284.00" r="1.9" fill="#000" />
<circle cx="367.40" cy="284.61" r="1.9" fill="#000" />
<circle cx="369.40" cy="285.81" r="1.9" fill="#000" />
<circle cx="365.40" cy="287.02" r="1.9" fill="#000" />
<circle cx="368.40" cy="288.22" r="1.9" fill="#000" />
<circle cx="370.40" cy="289.13" r="1.9" fill="#000" />
<circle cx="366.40" cy="290.63" r="1.9" fill="#000" />
<circle cx="368.40" cy="292.14" r="1.9" fill="#000" />
<circle cx="366.40" cy="292.74" r="1.9" fill="#000" />
<circle cx="379.30" cy="259.90" r="1.9" fill="#000" />
<circle cx="385.70" cy="259.90" r="1.9" fill="#000" />
<circle cx="382.50" cy="262.01" r="1.9" fill="#000" />
<circle cx="379.30" cy="265.02" r="1.9" fill="#000" />
<circle cx="385.70" cy="266.53" r="1.9" fill="#000" />
<circle cx="382.50" cy="268.94" r="1.9" fill="#000" />
<circle cx="379.00" cy="273.46" r="1.9" fill="#000" />
<circle cx="382.50" cy="274.06" r="1.9" fill="#000" />
<circle cx="386.00" cy="275.57" r="1.9" fill="#000" />
<circle cx="382.50" cy="277.07" r="1.9" fill="#000" />
<circle cx="382.50" cy="292.14" r="1.9" fill="#000" />
<circle cx="397.50" cy="230.97" r="1.9" fill="#000" />
<circle cx="397.50" cy="246.94" r="1.9" fill="#000" />
<circle cx="394.30" cy="255.98" r="1.9" fill="#000" />
<circle cx="400.90" cy="256.88" r="1.9" fill="#000" />
<circle cx="397.50" cy="267.13" r="1.9" fill="#000" />
<circle cx="397.50" cy="272.55" r="1.9" fill="#000" />
<circle cx="397.50" cy="277.98" r="1.9" fill="#000" />
<text x="0.00" y="0.00" font-size="10.3" text-anchor="end" font-weight="normal" fill="#000" font-family="'Liberation Sans', sans-serif" transform="translate(324.60 314.30) rotate(-45)">E12.5</text>
<text x="0.00" y="0.00" font-size="10.3" text-anchor="end" font-weight="normal" fill="#000" font-family="'Liberation Sans', sans-serif" transform="translate(339.60 314.30) rotate(-45)">E13.5</text>
<text x="0.00" y="0.00" font-size="10.3" text-anchor="end" font-weight="normal" fill="#000" font-family="'Liberation Sans', sans-serif" transform="translate(355.00 314.30) rotate(-45)">E14.5</text>
<text x="0.00" y="0.00" font-size="10.3" text-anchor="end" font-weight="normal" fill="#000" font-family="'Liberation Sans', sans-serif" transform="translate(370.00 314.30) rotate(-45)">E15.5</text>
<text x="0.00" y="0.00" font-size="10.3" text-anchor="end" font-weight="normal" fill="#000" font-family="'Liberation Sans', sans-serif" transform="translate(385.10 314.30) rotate(-45)">E16.5</text>
<text x="0.00" y="0.00" font-size="10.3" text-anchor="end" font-weight="normal" fill="#000" font-family="'Liberation Sans', sans-serif" transform="translate(400.10 314.30) rotate(-45)">E17.5</text>
<text x="0.00" y="0.00" font-size="10.5" text-anchor="middle" font-weight="normal" fill="#000" font-family="'Liberation Sans', sans-serif" transform="translate(300.50 259.50) rotate(-90)">No. TECs (x10<tspan font-size="7" dy="-4">5</tspan><tspan dy="4">)</tspan></text>
<text x="420.70" y="195.80" font-size="20" text-anchor="start" font-weight="bold" fill="#000" font-family="'Liberation Sans', sans-serif" >d</text>
<line x1="455.40" y1="198.00" x2="510.00" y2="198.00" stroke="#888" stroke-width="1.5" />
<line x1="601.20" y1="198.20" x2="674.60" y2="198.20" stroke="#888" stroke-width="1.5" />
<text font-size="12.3" font-family="'Liberation Sans', sans-serif" fill="#000"><tspan x="515.20" y="202.60" font-size="12.6">K19</tspan><tspan x="536.90" y="199.30" font-size="8.8">+</tspan><tspan x="546.00" y="202.60" font-size="12.3">EpCAM1</tspan><tspan x="595.60" y="199.30" font-size="8.8">+</tspan></text>
<rect x="465.30" y="215.30" width="91.20" height="90.90" stroke="#858585" stroke-width="1" fill="#fff" />
<line x1="463.60" y1="306.20" x2="465.30" y2="306.20" stroke="#858585" stroke-width="1" />
<text x="461.80" y="309.80" font-size="10" text-anchor="end" font-weight="normal" fill="#000" font-family="'Liberation Sans', sans-serif" >0</text>
<line x1="463.60" y1="288.02" x2="465.30" y2="288.02" stroke="#858585" stroke-width="1" />
<text x="461.80" y="291.62" font-size="10" text-anchor="end" font-weight="normal" fill="#000" font-family="'Liberation Sans', sans-serif" >5</text>
<line x1="463.60" y1="269.84" x2="465.30" y2="269.84" stroke="#858585" stroke-width="1" />
<text x="461.80" y="273.44" font-size="10" text-anchor="end" font-weight="normal" fill="#000" font-family="'Liberation Sans', sans-serif" >10</text>
<line x1="463.60" y1="251.66" x2="465.30" y2="251.66" stroke="#858585" stroke-width="1" />
<text x="461.80" y="255.26" font-size="10" text-anchor="end" font-weight="normal" fill="#000" font-family="'Liberation Sans', sans-serif" >15</text>
<line x1="463.60" y1="233.48" x2="465.30" y2="233.48" stroke="#858585" stroke-width="1" />
<text x="461.80" y="237.08" font-size="10" text-anchor="end" font-weight="normal" fill="#000" font-family="'Liberation Sans', sans-serif" >20</text>
<line x1="463.60" y1="215.30" x2="465.30" y2="215.30" stroke="#858585" stroke-width="1" />
<text x="461.80" y="218.90" font-size="10" text-anchor="end" font-weight="normal" fill="#000" font-family="'Liberation Sans', sans-serif" >25</text>
<rect x="468.00" y="275.29" width="10.00" height="30.91" stroke="#555" stroke-width="0.9" fill="#fff" />
<line x1="473.00" y1="306.20" x2="473.00" y2="307.80" stroke="#858585" stroke-width="0.8" />
<rect x="483.20" y="260.02" width="10.00" height="46.18" stroke="#555" stroke-width="0.9" fill="#fff" />
<line x1="488.20" y1="306.20" x2="488.20" y2="307.80" stroke="#858585" stroke-width="0.8" />
<rect x="498.20" y="240.39" width="10.00" height="65.81" stroke="#555" stroke-width="0.9" fill="#fff" />
<line x1="503.20" y1="306.20" x2="503.20" y2="307.80" stroke="#858585" stroke-width="0.8" />
<rect x="513.20" y="274.20" width="10.00" height="32.00" stroke="#555" stroke-width="0.9" fill="#fff" />
<line x1="518.20" y1="306.20" x2="518.20" y2="307.80" stroke="#858585" stroke-width="0.8" />
<rect x="528.50" y="291.29" width="10.00" height="14.91" stroke="#555" stroke-width="0.9" fill="#fff" />
<line x1="533.50" y1="306.20" x2="533.50" y2="307.80" stroke="#858585" stroke-width="0.8" />
<rect x="543.50" y="300.75" width="10.00" height="5.45" stroke="#555" stroke-width="0.9" fill="#fff" />
<line x1="548.50" y1="306.20" x2="548.50" y2="307.80" stroke="#858585" stroke-width="0.8" />
<line x1="473.00" y1="273.48" x2="473.00" y2="277.11" stroke="#666" stroke-width="0.8" />
<line x1="470.50" y1="273.48" x2="475.50" y2="273.48" stroke="#666" stroke-width="0.8" />
<line x1="470.50" y1="277.11" x2="475.50" y2="277.11" stroke="#666" stroke-width="0.8" />
<line x1="470.50" y1="275.29" x2="475.50" y2="275.29" stroke="#666" stroke-width="0.8" />
<line x1="488.20" y1="258.20" x2="488.20" y2="261.84" stroke="#666" stroke-width="0.8" />
<line x1="485.70" y1="258.20" x2="490.70" y2="258.20" stroke="#666" stroke-width="0.8" />
<line x1="485.70" y1="261.84" x2="490.70" y2="261.84" stroke="#666" stroke-width="0.8" />
<line x1="485.70" y1="260.02" x2="490.70" y2="260.02" stroke="#666" stroke-width="0.8" />
<line x1="503.20" y1="238.57" x2="503.20" y2="242.21" stroke="#666" stroke-width="0.8" />
<line x1="500.70" y1="238.57" x2="505.70" y2="238.57" stroke="#666" stroke-width="0.8" />
<line x1="500.70" y1="242.21" x2="505.70" y2="242.21" stroke="#666" stroke-width="0.8" />
<line x1="500.70" y1="240.39" x2="505.70" y2="240.39" stroke="#666" stroke-width="0.8" />
<line x1="518.20" y1="272.39" x2="518.20" y2="276.02" stroke="#666" stroke-width="0.8" />
<line x1="515.70" y1="272.39" x2="520.70" y2="272.39" stroke="#666" stroke-width="0.8" />
<line x1="515.70" y1="276.02" x2="520.70" y2="276.02" stroke="#666" stroke-width="0.8" />
<line x1="515.70" y1="274.20" x2="520.70" y2="274.20" stroke="#666" stroke-width="0.8" />
<line x1="533.50" y1="290.20" x2="533.50" y2="292.38" stroke="#666" stroke-width="0.8" />
<line x1="531.00" y1="290.20" x2="536.00" y2="290.20" stroke="#666" stroke-width="0.8" />
<line x1="531.00" y1="292.38" x2="536.00" y2="292.38" stroke="#666" stroke-width="0.8" />
<line x1="531.00" y1="291.29" x2="536.00" y2="291.29" stroke="#666" stroke-width="0.8" />
<line x1="548.50" y1="300.02" x2="548.50" y2="301.47" stroke="#666" stroke-width="0.8" />
<line x1="546.00" y1="300.02" x2="551.00" y2="300.02" stroke="#666" stroke-width="0.8" />
<line x1="546.00" y1="301.47" x2="551.00" y2="301.47" stroke="#666" stroke-width="0.8" />
<line x1="546.00" y1="300.75" x2="551.00" y2="300.75" stroke="#666" stroke-width="0.8" />
<circle cx="473.00" cy="264.02" r="1.9" fill="#000" />
<circle cx="470.50" cy="273.48" r="1.9" fill="#000" />
<circle cx="475.50" cy="271.29" r="1.9" fill="#000" />
<circle cx="477.00" cy="269.84" r="1.9" fill="#000" />
<circle cx="473.00" cy="275.29" r="1.9" fill="#000" />
<circle cx="475.00" cy="276.38" r="1.9" fill="#000" />
<circle cx="473.00" cy="280.02" r="1.9" fill="#000" />
<circle cx="472.00" cy="286.93" r="1.9" fill="#000" />
<circle cx="474.00" cy="288.02" r="1.9" fill="#000" />
<circle cx="470.00" cy="274.20" r="1.9" fill="#000" />
<circle cx="476.00" cy="273.84" r="1.9" fill="#000" />
<circle cx="488.20" cy="248.39" r="1.9" fill="#000" />
<circle cx="485.20" cy="255.30" r="1.9" fill="#000" />
<circle cx="488.20" cy="254.57" r="1.9" fill="#000" />
<circle cx="491.20" cy="255.30" r="1.9" fill="#000" />
<circle cx="486.20" cy="257.84" r="1.9" fill="#000" />
<circle cx="490.20" cy="258.93" r="1.9" fill="#000" />
<circle cx="485.20" cy="262.57" r="1.9" fill="#000" />
<circle cx="489.20" cy="263.66" r="1.9" fill="#000" />
<circle cx="491.20" cy="261.48" r="1.9" fill="#000" />
<circle cx="487.20" cy="268.02" r="1.9" fill="#000" />
<circle cx="488.20" cy="259.66" r="1.9" fill="#000" />
<circle cx="488.20" cy="275.29" r="1.9" fill="#000" />
<circle cx="504.20" cy="228.03" r="1.9" fill="#000" />
<circle cx="506.20" cy="229.84" r="1.9" fill="#000" />
<circle cx="502.20" cy="232.39" r="1.9" fill="#000" />
<circle cx="503.20" cy="237.12" r="1.9" fill="#000" />
<circle cx="505.20" cy="238.57" r="1.9" fill="#000" />
<circle cx="500.20" cy="239.30" r="1.9" fill="#000" />
<circle cx="506.20" cy="241.12" r="1.9" fill="#000" />
<circle cx="501.20" cy="242.57" r="1.9" fill="#000" />
<circle cx="503.20" cy="245.12" r="1.9" fill="#000" />
<circle cx="500.20" cy="248.02" r="1.9" fill="#000" />
<circle cx="506.20" cy="248.02" r="1.9" fill="#000" />
<circle cx="503.20" cy="248.75" r="1.9" fill="#000" />
<circle cx="518.20" cy="252.39" r="1.9" fill="#000" />
<circle cx="518.20" cy="259.30" r="1.9" fill="#000" />
<circle cx="515.20" cy="269.84" r="1.9" fill="#000" />
<circle cx="518.20" cy="271.66" r="1.9" fill="#000" />
<circle cx="521.20" cy="272.75" r="1.9" fill="#000" />
<circle cx="516.20" cy="274.93" r="1.9" fill="#000" />
<circle cx="520.20" cy="277.11" r="1.9" fill="#000" />
<circle cx="518.20" cy="278.57" r="1.9" fill="#000" />
<circle cx="515.20" cy="280.02" r="1.9" fill="#000" />
<circle cx="521.20" cy="280.75" r="1.9" fill="#000" />
<circle cx="518.20" cy="281.48" r="1.9" fill="#000" />
<circle cx="531.50" cy="286.93" r="1.9" fill="#000" />
<circle cx="535.50" cy="289.47" r="1.9" fill="#000" />
<circle cx="533.50" cy="290.57" r="1.9" fill="#000" />
<circle cx="536.50" cy="291.66" r="1.9" fill="#000" />
<circle cx="530.50" cy="292.02" r="1.9" fill="#000" />
<circle cx="533.50" cy="293.84" r="1.9" fill="#000" />
<circle cx="534.50" cy="295.66" r="1.9" fill="#000" />
<circle cx="532.50" cy="297.11" r="1.9" fill="#000" />
<circle cx="545.50" cy="300.38" r="1.9" fill="#000" />
<circle cx="548.50" cy="299.66" r="1.9" fill="#000" />
<circle cx="551.50" cy="300.75" r="1.9" fill="#000" />
<circle cx="546.50" cy="301.84" r="1.9" fill="#000" />
<circle cx="550.50" cy="301.47" r="1.9" fill="#000" />
<circle cx="548.50" cy="302.56" r="1.9" fill="#000" />
<text x="0.00" y="0.00" font-size="10.3" text-anchor="end" font-weight="normal" fill="#000" font-family="'Liberation Sans', sans-serif" transform="translate(475.60 314.80) rotate(-45)">E12.5</text>
<text x="0.00" y="0.00" font-size="10.3" text-anchor="end" font-weight="normal" fill="#000" font-family="'Liberation Sans', sans-serif" transform="translate(490.80 314.80) rotate(-45)">E13.5</text>
<text x="0.00" y="0.00" font-size="10.3" text-anchor="end" font-weight="normal" fill="#000" font-family="'Liberation Sans', sans-serif" transform="translate(505.80 314.80) rotate(-45)">E14.5</text>
<text x="0.00" y="0.00" font-size="10.3" text-anchor="end" font-weight="normal" fill="#000" font-family="'Liberation Sans', sans-serif" transform="translate(520.80 314.80) rotate(-45)">E15.5</text>
<text x="0.00" y="0.00" font-size="10.3" text-anchor="end" font-weight="normal" fill="#000" font-family="'Liberation Sans', sans-serif" transform="translate(536.10 314.80) rotate(-45)">E16.5</text>
<text x="0.00" y="0.00" font-size="10.3" text-anchor="end" font-weight="normal" fill="#000" font-family="'Liberation Sans', sans-serif" transform="translate(551.10 314.80) rotate(-45)">E17.5</text>
<text x="0.00" y="0.00" font-size="10.5" text-anchor="middle" font-weight="normal" fill="#000" font-family="'Liberation Sans', sans-serif" transform="translate(445.50 260.00) rotate(-90)">% Total TEC</text>
<rect x="592.20" y="214.50" width="90.70" height="90.70" stroke="#858585" stroke-width="1" fill="#fff" />
<line x1="590.50" y1="305.20" x2="592.20" y2="305.20" stroke="#858585" stroke-width="1" />
<text x="588.70" y="308.80" font-size="10" text-anchor="end" font-weight="normal" fill="#000" font-family="'Liberation Sans', sans-serif" >0</text>
<line x1="590.50" y1="274.97" x2="592.20" y2="274.97" stroke="#858585" stroke-width="1" />
<text x="588.70" y="278.57" font-size="10" text-anchor="end" font-weight="normal" fill="#000" font-family="'Liberation Sans', sans-serif" >5</text>
<line x1="590.50" y1="244.73" x2="592.20" y2="244.73" stroke="#858585" stroke-width="1" />
<text x="588.70" y="248.33" font-size="10" text-anchor="end" font-weight="normal" fill="#000" font-family="'Liberation Sans', sans-serif" >10</text>
<line x1="590.50" y1="214.50" x2="592.20" y2="214.50" stroke="#858585" stroke-width="1" />
<text x="588.70" y="218.10" font-size="10" text-anchor="end" font-weight="normal" fill="#000" font-family="'Liberation Sans', sans-serif" >15</text>
<rect x="594.40" y="302.48" width="10.00" height="2.72" stroke="#555" stroke-width="0.9" fill="#fff" />
<line x1="599.40" y1="305.20" x2="599.40" y2="306.80" stroke="#858585" stroke-width="0.8" />
<rect x="609.60" y="293.71" width="10.00" height="11.49" stroke="#555" stroke-width="0.9" fill="#fff" />
<line x1="614.60" y1="305.20" x2="614.60" y2="306.80" stroke="#858585" stroke-width="0.8" />
<rect x="624.60" y="267.11" width="10.00" height="38.09" stroke="#555" stroke-width="0.9" fill="#fff" />
<line x1="629.60" y1="305.20" x2="629.60" y2="306.80" stroke="#858585" stroke-width="0.8" />
<rect x="639.60" y="263.48" width="10.00" height="41.72" stroke="#555" stroke-width="0.9" fill="#fff" />
<line x1="644.60" y1="305.20" x2="644.60" y2="306.80" stroke="#858585" stroke-width="0.8" />
<rect x="654.80" y="274.36" width="10.00" height="30.84" stroke="#555" stroke-width="0.9" fill="#fff" />
<line x1="659.80" y1="305.20" x2="659.80" y2="306.80" stroke="#858585" stroke-width="0.8" />
<rect x="670.00" y="290.08" width="10.00" height="15.12" stroke="#555" stroke-width="0.9" fill="#fff" />
<line x1="675.00" y1="305.20" x2="675.00" y2="306.80" stroke="#858585" stroke-width="0.8" />
<line x1="599.40" y1="301.87" x2="599.40" y2="303.08" stroke="#666" stroke-width="0.8" />
<line x1="596.90" y1="301.87" x2="601.90" y2="301.87" stroke="#666" stroke-width="0.8" />
<line x1="596.90" y1="303.08" x2="601.90" y2="303.08" stroke="#666" stroke-width="0.8" />
<line x1="596.90" y1="302.48" x2="601.90" y2="302.48" stroke="#666" stroke-width="0.8" />
<line x1="614.60" y1="291.90" x2="614.60" y2="295.53" stroke="#666" stroke-width="0.8" />
<line x1="612.10" y1="291.90" x2="617.10" y2="291.90" stroke="#666" stroke-width="0.8" />
<line x1="612.10" y1="295.53" x2="617.10" y2="295.53" stroke="#666" stroke-width="0.8" />
<line x1="612.10" y1="293.71" x2="617.10" y2="293.71" stroke="#666" stroke-width="0.8" />
<line x1="629.60" y1="264.69" x2="629.60" y2="269.52" stroke="#666" stroke-width="0.8" />
<line x1="627.10" y1="264.69" x2="632.10" y2="264.69" stroke="#666" stroke-width="0.8" />
<line x1="627.10" y1="269.52" x2="632.10" y2="269.52" stroke="#666" stroke-width="0.8" />
<line x1="627.10" y1="267.11" x2="632.10" y2="267.11" stroke="#666" stroke-width="0.8" />
<line x1="644.60" y1="259.85" x2="644.60" y2="267.11" stroke="#666" stroke-width="0.8" />
<line x1="642.10" y1="259.85" x2="647.10" y2="259.85" stroke="#666" stroke-width="0.8" />
<line x1="642.10" y1="267.11" x2="647.10" y2="267.11" stroke="#666" stroke-width="0.8" />
<line x1="642.10" y1="263.48" x2="647.10" y2="263.48" stroke="#666" stroke-width="0.8" />
<line x1="659.80" y1="271.34" x2="659.80" y2="277.39" stroke="#666" stroke-width="0.8" />
<line x1="657.30" y1="271.34" x2="662.30" y2="271.34" stroke="#666" stroke-width="0.8" />
<line x1="657.30" y1="277.39" x2="662.30" y2="277.39" stroke="#666" stroke-width="0.8" />
<line x1="657.30" y1="274.36" x2="662.30" y2="274.36" stroke="#666" stroke-width="0.8" />
<line x1="675.00" y1="288.27" x2="675.00" y2="291.90" stroke="#666" stroke-width="0.8" />
<line x1="672.50" y1="288.27" x2="677.50" y2="288.27" stroke="#666" stroke-width="0.8" />
<line x1="672.50" y1="291.90" x2="677.50" y2="291.90" stroke="#666" stroke-width="0.8" />
<line x1="672.50" y1="290.08" x2="677.50" y2="290.08" stroke="#666" stroke-width="0.8" />
<circle cx="599.40" cy="298.55" r="1.9" fill="#000" />
<circle cx="598.40" cy="299.76" r="1.9" fill="#000" />
<circle cx="600.40" cy="300.06" r="1.9" fill="#000" />
<circle cx="596.40" cy="301.57" r="1.9" fill="#000" />
<circle cx="602.40" cy="301.87" r="1.9" fill="#000" />
<circle cx="597.40" cy="302.48" r="1.9" fill="#000" />
<circle cx="601.40" cy="302.78" r="1.9" fill="#000" />
<circle cx="599.40" cy="302.18" r="1.9" fill="#000" />
<circle cx="595.90" cy="303.39" r="1.9" fill="#000" />
<circle cx="602.90" cy="303.39" r="1.9" fill="#000" />
<circle cx="599.40" cy="303.69" r="1.9" fill="#000" />
<circle cx="598.40" cy="303.99" r="1.9" fill="#000" />
<circle cx="600.40" cy="303.99" r="1.9" fill="#000" />
<circle cx="599.40" cy="300.97" r="1.9" fill="#000" />
<circle cx="614.60" cy="274.36" r="1.9" fill="#000" />
<circle cx="614.60" cy="278.59" r="1.9" fill="#000" />
<circle cx="614.60" cy="283.43" r="1.9" fill="#000" />
<circle cx="612.60" cy="287.06" r="1.9" fill="#000" />
<circle cx="616.60" cy="287.66" r="1.9" fill="#000" />
<circle cx="611.60" cy="290.08" r="1.9" fill="#000" />
<circle cx="614.60" cy="289.48" r="1.9" fill="#000" />
<circle cx="617.60" cy="291.29" r="1.9" fill="#000" />
<circle cx="613.60" cy="292.50" r="1.9" fill="#000" />
<circle cx="616.10" cy="293.71" r="1.9" fill="#000" />
<circle cx="611.60" cy="294.92" r="1.9" fill="#000" />
<circle cx="617.60" cy="295.53" r="1.9" fill="#000" />
<circle cx="614.60" cy="296.13" r="1.9" fill="#000" />
<circle cx="612.60" cy="297.94" r="1.9" fill="#000" />
<circle cx="616.60" cy="298.55" r="1.9" fill="#000" />
<circle cx="611.10" cy="299.76" r="1.9" fill="#000" />
<circle cx="618.10" cy="300.36" r="1.9" fill="#000" />
<circle cx="614.60" cy="299.76" r="1.9" fill="#000" />
<circle cx="613.60" cy="301.57" r="1.9" fill="#000" />
<circle cx="615.60" cy="302.18" r="1.9" fill="#000" />
<circle cx="611.60" cy="302.78" r="1.9" fill="#000" />
<circle cx="617.60" cy="303.39" r="1.9" fill="#000" />
<circle cx="614.60" cy="303.39" r="1.9" fill="#000" />
<circle cx="629.60" cy="249.57" r="1.9" fill="#000" />
<circle cx="626.60" cy="256.22" r="1.9" fill="#000" />
<circle cx="629.60" cy="259.25" r="1.9" fill="#000" />
<circle cx="632.60" cy="261.66" r="1.9" fill="#000" />
<circle cx="626.60" cy="264.08" r="1.9" fill="#000" />
<circle cx="629.60" cy="265.90" r="1.9" fill="#000" />
<circle cx="632.60" cy="267.71" r="1.9" fill="#000" />
<circle cx="627.60" cy="264.08" r="1.9" fill="#000" />
<circle cx="631.60" cy="270.13" r="1.9" fill="#000" />
<circle cx="626.60" cy="271.94" r="1.9" fill="#000" />
<circle cx="629.60" cy="281.01" r="1.9" fill="#000" />
<circle cx="627.60" cy="284.64" r="1.9" fill="#000" />
<circle cx="631.60" cy="284.04" r="1.9" fill="#000" />
<circle cx="632.60" cy="265.29" r="1.9" fill="#000" />
<circle cx="644.60" cy="222.97" r="1.9" fill="#000" />
<circle cx="644.60" cy="244.13" r="1.9" fill="#000" />
<circle cx="641.60" cy="256.83" r="1.9" fill="#000" />
<circle cx="644.60" cy="256.22" r="1.9" fill="#000" />
<circle cx="647.60" cy="256.83" r="1.9" fill="#000" />
<circle cx="641.60" cy="262.87" r="1.9" fill="#000" />
<circle cx="644.60" cy="264.69" r="1.9" fill="#000" />
<circle cx="647.60" cy="267.71" r="1.9" fill="#000" />
<circle cx="642.60" cy="271.94" r="1.9" fill="#000" />
<circle cx="646.60" cy="274.97" r="1.9" fill="#000" />
<circle cx="644.60" cy="279.80" r="1.9" fill="#000" />
<circle cx="644.60" cy="285.25" r="1.9" fill="#000" />
<circle cx="641.60" cy="268.92" r="1.9" fill="#000" />
<circle cx="656.80" cy="261.66" r="1.9" fill="#000" />
<circle cx="662.80" cy="262.87" r="1.9" fill="#000" />
<circle cx="659.80" cy="265.29" r="1.9" fill="#000" />
<circle cx="656.80" cy="267.71" r="1.9" fill="#000" />
<circle cx="662.80" cy="268.92" r="1.9" fill="#000" />
<circle cx="659.80" cy="274.36" r="1.9" fill="#000" />
<circle cx="656.80" cy="277.39" r="1.9" fill="#000" />
<circle cx="662.80" cy="277.99" r="1.9" fill="#000" />
<circle cx="659.80" cy="282.22" r="1.9" fill="#000" />
<circle cx="657.80" cy="287.66" r="1.9" fill="#000" />
<circle cx="661.80" cy="289.48" r="1.9" fill="#000" />
<circle cx="675.00" cy="279.20" r="1.9" fill="#000" />
<circle cx="672.00" cy="287.06" r="1.9" fill="#000" />
<circle cx="678.00" cy="288.27" r="1.9" fill="#000" />
<circle cx="673.00" cy="291.90" r="1.9" fill="#000" />
<circle cx="677.00" cy="293.11" r="1.9" fill="#000" />
<circle cx="675.00" cy="295.53" r="1.9" fill="#000" />
<circle cx="672.00" cy="297.34" r="1.9" fill="#000" />
<text x="0.00" y="0.00" font-size="10.3" text-anchor="end" font-weight="normal" fill="#000" font-family="'Liberation Sans', sans-serif" transform="translate(602.00 313.80) rotate(-45)">E12.5</text>
<text x="0.00" y="0.00" font-size="10.3" text-anchor="end" font-weight="normal" fill="#000" font-family="'Liberation Sans', sans-serif" transform="translate(617.20 313.80) rotate(-45)">E13.5</text>
<text x="0.00" y="0.00" font-size="10.3" text-anchor="end" font-weight="normal" fill="#000" font-family="'Liberation Sans', sans-serif" transform="translate(632.20 313.80) rotate(-45)">E14.5</text>
<text x="0.00" y="0.00" font-size="10.3" text-anchor="end" font-weight="normal" fill="#000" font-family="'Liberation Sans', sans-serif" transform="translate(647.20 313.80) rotate(-45)">E15.5</text>
<text x="0.00" y="0.00" font-size="10.3" text-anchor="end" font-weight="normal" fill="#000" font-family="'Liberation Sans', sans-serif" transform="translate(662.40 313.80) rotate(-45)">E16.5</text>
<text x="0.00" y="0.00" font-size="10.3" text-anchor="end" font-weight="normal" fill="#000" font-family="'Liberation Sans', sans-serif" transform="translate(677.60 313.80) rotate(-45)">E17.5</text>
<text x="0.00" y="0.00" font-size="10.1" text-anchor="middle" font-weight="normal" fill="#000" font-family="'Liberation Sans', sans-serif" transform="translate(572.00 258.30) rotate(-90)">No. TECs (x10<tspan font-size="7" dy="-4">3</tspan><tspan dy="4">)</tspan></text>
</svg></body></html>
